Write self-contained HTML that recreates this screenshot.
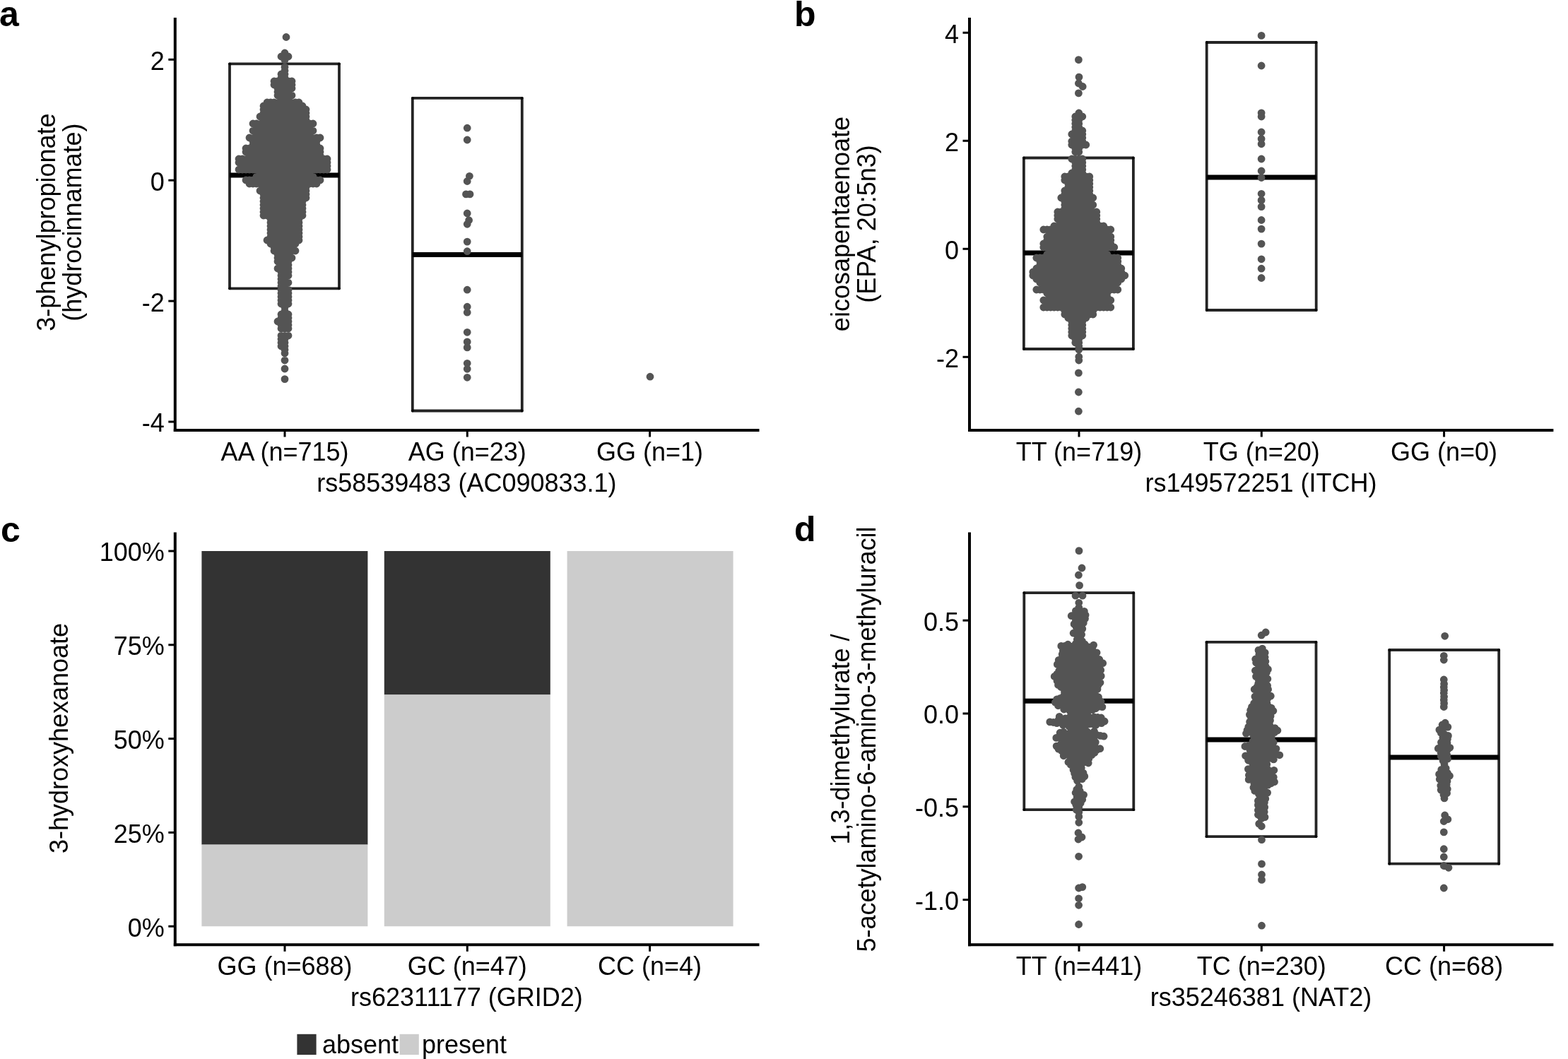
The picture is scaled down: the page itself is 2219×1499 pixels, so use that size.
<!DOCTYPE html>
<html><head><meta charset="utf-8"><title>Figure</title>
<style>
html,body{margin:0;padding:0;background:#fff;}
body{width:2219px;height:1499px;overflow:hidden;}
svg{display:block;}
.t{font-family:'Liberation Sans', Arial, Helvetica, sans-serif;font-size:36px;fill:#000;}
.p{font-family:'Liberation Sans', Arial, Helvetica, sans-serif;font-size:50px;font-weight:bold;fill:#000;}
</style></head><body>
<svg width="2219" height="1499" viewBox="0 0 2219 1499"><rect width="2219" height="1499" fill="#fff"/><text x="-1" y="37" class="p">a</text><text x="1124" y="37" class="p">b</text><text x="1" y="766.5" class="p">c</text><text x="1124" y="766" class="p">d</text><g stroke="#000" stroke-opacity="0.86" stroke-width="3.8" stroke-linecap="round"><line x1="325" y1="90.3" x2="480" y2="90.3"/><line x1="325" y1="408.3" x2="480" y2="408.3"/><line x1="325" y1="90.3" x2="325" y2="408.3"/><line x1="480" y1="90.3" x2="480" y2="408.3"/></g><line x1="325" y1="248" x2="480" y2="248" stroke="#000" stroke-width="7"/><g stroke="#000" stroke-opacity="0.86" stroke-width="3.8" stroke-linecap="round"><line x1="583.8" y1="138.8" x2="738.8" y2="138.8"/><line x1="583.8" y1="581.5" x2="738.8" y2="581.5"/><line x1="583.8" y1="138.8" x2="583.8" y2="581.5"/><line x1="738.8" y1="138.8" x2="738.8" y2="581.5"/></g><line x1="583.8" y1="360.5" x2="738.8" y2="360.5" stroke="#000" stroke-width="7"/><path d="M397.6 75a5.4 5.4 0 1 0 10.8 0a5.4 5.4 0 1 0 -10.8 0M392.6 80a5.4 5.4 0 1 0 10.8 0a5.4 5.4 0 1 0 -10.8 0M397.6 80a5.4 5.4 0 1 0 10.8 0a5.4 5.4 0 1 0 -10.8 0M402.6 80a5.4 5.4 0 1 0 10.8 0a5.4 5.4 0 1 0 -10.8 0M397.6 85a5.4 5.4 0 1 0 10.8 0a5.4 5.4 0 1 0 -10.8 0M397.6 95a5.4 5.4 0 1 0 10.8 0a5.4 5.4 0 1 0 -10.8 0M397.6 100a5.4 5.4 0 1 0 10.8 0a5.4 5.4 0 1 0 -10.8 0M392.6 105a5.4 5.4 0 1 0 10.8 0a5.4 5.4 0 1 0 -10.8 0M397.6 105a5.4 5.4 0 1 0 10.8 0a5.4 5.4 0 1 0 -10.8 0M397.6 110a5.4 5.4 0 1 0 10.8 0a5.4 5.4 0 1 0 -10.8 0M392.6 110a5.4 5.4 0 1 0 10.8 0a5.4 5.4 0 1 0 -10.8 0M387.6 115a5.4 5.4 0 1 0 10.8 0a5.4 5.4 0 1 0 -10.8 0M397.6 115a5.4 5.4 0 1 0 10.8 0a5.4 5.4 0 1 0 -10.8 0M382.6 115a5.4 5.4 0 1 0 10.8 0a5.4 5.4 0 1 0 -10.8 0M392.6 115a5.4 5.4 0 1 0 10.8 0a5.4 5.4 0 1 0 -10.8 0M407.6 115a5.4 5.4 0 1 0 10.8 0a5.4 5.4 0 1 0 -10.8 0M402.6 115a5.4 5.4 0 1 0 10.8 0a5.4 5.4 0 1 0 -10.8 0M392.6 120a5.4 5.4 0 1 0 10.8 0a5.4 5.4 0 1 0 -10.8 0M402.6 120a5.4 5.4 0 1 0 10.8 0a5.4 5.4 0 1 0 -10.8 0M397.6 120a5.4 5.4 0 1 0 10.8 0a5.4 5.4 0 1 0 -10.8 0M382.6 120a5.4 5.4 0 1 0 10.8 0a5.4 5.4 0 1 0 -10.8 0M387.6 120a5.4 5.4 0 1 0 10.8 0a5.4 5.4 0 1 0 -10.8 0M407.6 120a5.4 5.4 0 1 0 10.8 0a5.4 5.4 0 1 0 -10.8 0M392.6 125a5.4 5.4 0 1 0 10.8 0a5.4 5.4 0 1 0 -10.8 0M397.6 125a5.4 5.4 0 1 0 10.8 0a5.4 5.4 0 1 0 -10.8 0M387.6 125a5.4 5.4 0 1 0 10.8 0a5.4 5.4 0 1 0 -10.8 0M402.6 125a5.4 5.4 0 1 0 10.8 0a5.4 5.4 0 1 0 -10.8 0M407.6 125a5.4 5.4 0 1 0 10.8 0a5.4 5.4 0 1 0 -10.8 0M392.6 130a5.4 5.4 0 1 0 10.8 0a5.4 5.4 0 1 0 -10.8 0M402.6 130a5.4 5.4 0 1 0 10.8 0a5.4 5.4 0 1 0 -10.8 0M397.6 130a5.4 5.4 0 1 0 10.8 0a5.4 5.4 0 1 0 -10.8 0M387.6 130a5.4 5.4 0 1 0 10.8 0a5.4 5.4 0 1 0 -10.8 0M387.6 135a5.4 5.4 0 1 0 10.8 0a5.4 5.4 0 1 0 -10.8 0M392.6 135a5.4 5.4 0 1 0 10.8 0a5.4 5.4 0 1 0 -10.8 0M402.6 135a5.4 5.4 0 1 0 10.8 0a5.4 5.4 0 1 0 -10.8 0M397.6 135a5.4 5.4 0 1 0 10.8 0a5.4 5.4 0 1 0 -10.8 0M407.6 135a5.4 5.4 0 1 0 10.8 0a5.4 5.4 0 1 0 -10.8 0M397.6 140a5.4 5.4 0 1 0 10.8 0a5.4 5.4 0 1 0 -10.8 0M392.6 140a5.4 5.4 0 1 0 10.8 0a5.4 5.4 0 1 0 -10.8 0M402.6 140a5.4 5.4 0 1 0 10.8 0a5.4 5.4 0 1 0 -10.8 0M382.6 145a5.4 5.4 0 1 0 10.8 0a5.4 5.4 0 1 0 -10.8 0M397.6 145a5.4 5.4 0 1 0 10.8 0a5.4 5.4 0 1 0 -10.8 0M387.6 145a5.4 5.4 0 1 0 10.8 0a5.4 5.4 0 1 0 -10.8 0M372.6 145a5.4 5.4 0 1 0 10.8 0a5.4 5.4 0 1 0 -10.8 0M412.6 145a5.4 5.4 0 1 0 10.8 0a5.4 5.4 0 1 0 -10.8 0M417.6 145a5.4 5.4 0 1 0 10.8 0a5.4 5.4 0 1 0 -10.8 0M377.6 145a5.4 5.4 0 1 0 10.8 0a5.4 5.4 0 1 0 -10.8 0M407.6 145a5.4 5.4 0 1 0 10.8 0a5.4 5.4 0 1 0 -10.8 0M392.6 145a5.4 5.4 0 1 0 10.8 0a5.4 5.4 0 1 0 -10.8 0M402.6 145a5.4 5.4 0 1 0 10.8 0a5.4 5.4 0 1 0 -10.8 0M422.6 150a5.4 5.4 0 1 0 10.8 0a5.4 5.4 0 1 0 -10.8 0M382.6 150a5.4 5.4 0 1 0 10.8 0a5.4 5.4 0 1 0 -10.8 0M377.6 150a5.4 5.4 0 1 0 10.8 0a5.4 5.4 0 1 0 -10.8 0M387.6 150a5.4 5.4 0 1 0 10.8 0a5.4 5.4 0 1 0 -10.8 0M412.6 150a5.4 5.4 0 1 0 10.8 0a5.4 5.4 0 1 0 -10.8 0M417.6 150a5.4 5.4 0 1 0 10.8 0a5.4 5.4 0 1 0 -10.8 0M392.6 150a5.4 5.4 0 1 0 10.8 0a5.4 5.4 0 1 0 -10.8 0M402.6 150a5.4 5.4 0 1 0 10.8 0a5.4 5.4 0 1 0 -10.8 0M372.6 150a5.4 5.4 0 1 0 10.8 0a5.4 5.4 0 1 0 -10.8 0M397.6 150a5.4 5.4 0 1 0 10.8 0a5.4 5.4 0 1 0 -10.8 0M407.6 150a5.4 5.4 0 1 0 10.8 0a5.4 5.4 0 1 0 -10.8 0M367.6 150a5.4 5.4 0 1 0 10.8 0a5.4 5.4 0 1 0 -10.8 0M417.6 155a5.4 5.4 0 1 0 10.8 0a5.4 5.4 0 1 0 -10.8 0M412.6 155a5.4 5.4 0 1 0 10.8 0a5.4 5.4 0 1 0 -10.8 0M422.6 155a5.4 5.4 0 1 0 10.8 0a5.4 5.4 0 1 0 -10.8 0M367.6 155a5.4 5.4 0 1 0 10.8 0a5.4 5.4 0 1 0 -10.8 0M382.6 155a5.4 5.4 0 1 0 10.8 0a5.4 5.4 0 1 0 -10.8 0M427.6 155a5.4 5.4 0 1 0 10.8 0a5.4 5.4 0 1 0 -10.8 0M372.6 155a5.4 5.4 0 1 0 10.8 0a5.4 5.4 0 1 0 -10.8 0M377.6 155a5.4 5.4 0 1 0 10.8 0a5.4 5.4 0 1 0 -10.8 0M402.6 155a5.4 5.4 0 1 0 10.8 0a5.4 5.4 0 1 0 -10.8 0M397.6 155a5.4 5.4 0 1 0 10.8 0a5.4 5.4 0 1 0 -10.8 0M392.6 155a5.4 5.4 0 1 0 10.8 0a5.4 5.4 0 1 0 -10.8 0M407.6 155a5.4 5.4 0 1 0 10.8 0a5.4 5.4 0 1 0 -10.8 0M387.6 155a5.4 5.4 0 1 0 10.8 0a5.4 5.4 0 1 0 -10.8 0M407.6 160a5.4 5.4 0 1 0 10.8 0a5.4 5.4 0 1 0 -10.8 0M412.6 160a5.4 5.4 0 1 0 10.8 0a5.4 5.4 0 1 0 -10.8 0M397.6 160a5.4 5.4 0 1 0 10.8 0a5.4 5.4 0 1 0 -10.8 0M427.6 160a5.4 5.4 0 1 0 10.8 0a5.4 5.4 0 1 0 -10.8 0M377.6 160a5.4 5.4 0 1 0 10.8 0a5.4 5.4 0 1 0 -10.8 0M372.6 160a5.4 5.4 0 1 0 10.8 0a5.4 5.4 0 1 0 -10.8 0M367.6 160a5.4 5.4 0 1 0 10.8 0a5.4 5.4 0 1 0 -10.8 0M417.6 160a5.4 5.4 0 1 0 10.8 0a5.4 5.4 0 1 0 -10.8 0M382.6 160a5.4 5.4 0 1 0 10.8 0a5.4 5.4 0 1 0 -10.8 0M392.6 160a5.4 5.4 0 1 0 10.8 0a5.4 5.4 0 1 0 -10.8 0M402.6 160a5.4 5.4 0 1 0 10.8 0a5.4 5.4 0 1 0 -10.8 0M387.6 160a5.4 5.4 0 1 0 10.8 0a5.4 5.4 0 1 0 -10.8 0M422.6 160a5.4 5.4 0 1 0 10.8 0a5.4 5.4 0 1 0 -10.8 0M412.6 165a5.4 5.4 0 1 0 10.8 0a5.4 5.4 0 1 0 -10.8 0M387.6 165a5.4 5.4 0 1 0 10.8 0a5.4 5.4 0 1 0 -10.8 0M427.6 165a5.4 5.4 0 1 0 10.8 0a5.4 5.4 0 1 0 -10.8 0M372.6 165a5.4 5.4 0 1 0 10.8 0a5.4 5.4 0 1 0 -10.8 0M417.6 165a5.4 5.4 0 1 0 10.8 0a5.4 5.4 0 1 0 -10.8 0M392.6 165a5.4 5.4 0 1 0 10.8 0a5.4 5.4 0 1 0 -10.8 0M407.6 165a5.4 5.4 0 1 0 10.8 0a5.4 5.4 0 1 0 -10.8 0M377.6 165a5.4 5.4 0 1 0 10.8 0a5.4 5.4 0 1 0 -10.8 0M397.6 165a5.4 5.4 0 1 0 10.8 0a5.4 5.4 0 1 0 -10.8 0M422.6 165a5.4 5.4 0 1 0 10.8 0a5.4 5.4 0 1 0 -10.8 0M402.6 165a5.4 5.4 0 1 0 10.8 0a5.4 5.4 0 1 0 -10.8 0M362.6 165a5.4 5.4 0 1 0 10.8 0a5.4 5.4 0 1 0 -10.8 0M382.6 165a5.4 5.4 0 1 0 10.8 0a5.4 5.4 0 1 0 -10.8 0M367.6 165a5.4 5.4 0 1 0 10.8 0a5.4 5.4 0 1 0 -10.8 0M407.6 170a5.4 5.4 0 1 0 10.8 0a5.4 5.4 0 1 0 -10.8 0M392.6 170a5.4 5.4 0 1 0 10.8 0a5.4 5.4 0 1 0 -10.8 0M417.6 170a5.4 5.4 0 1 0 10.8 0a5.4 5.4 0 1 0 -10.8 0M422.6 170a5.4 5.4 0 1 0 10.8 0a5.4 5.4 0 1 0 -10.8 0M427.6 170a5.4 5.4 0 1 0 10.8 0a5.4 5.4 0 1 0 -10.8 0M372.6 170a5.4 5.4 0 1 0 10.8 0a5.4 5.4 0 1 0 -10.8 0M387.6 170a5.4 5.4 0 1 0 10.8 0a5.4 5.4 0 1 0 -10.8 0M397.6 170a5.4 5.4 0 1 0 10.8 0a5.4 5.4 0 1 0 -10.8 0M367.6 170a5.4 5.4 0 1 0 10.8 0a5.4 5.4 0 1 0 -10.8 0M412.6 170a5.4 5.4 0 1 0 10.8 0a5.4 5.4 0 1 0 -10.8 0M402.6 170a5.4 5.4 0 1 0 10.8 0a5.4 5.4 0 1 0 -10.8 0M377.6 170a5.4 5.4 0 1 0 10.8 0a5.4 5.4 0 1 0 -10.8 0M382.6 170a5.4 5.4 0 1 0 10.8 0a5.4 5.4 0 1 0 -10.8 0M377.6 175a5.4 5.4 0 1 0 10.8 0a5.4 5.4 0 1 0 -10.8 0M387.6 175a5.4 5.4 0 1 0 10.8 0a5.4 5.4 0 1 0 -10.8 0M402.6 175a5.4 5.4 0 1 0 10.8 0a5.4 5.4 0 1 0 -10.8 0M372.6 175a5.4 5.4 0 1 0 10.8 0a5.4 5.4 0 1 0 -10.8 0M417.6 175a5.4 5.4 0 1 0 10.8 0a5.4 5.4 0 1 0 -10.8 0M422.6 175a5.4 5.4 0 1 0 10.8 0a5.4 5.4 0 1 0 -10.8 0M437.6 175a5.4 5.4 0 1 0 10.8 0a5.4 5.4 0 1 0 -10.8 0M362.6 175a5.4 5.4 0 1 0 10.8 0a5.4 5.4 0 1 0 -10.8 0M357.6 175a5.4 5.4 0 1 0 10.8 0a5.4 5.4 0 1 0 -10.8 0M412.6 175a5.4 5.4 0 1 0 10.8 0a5.4 5.4 0 1 0 -10.8 0M367.6 175a5.4 5.4 0 1 0 10.8 0a5.4 5.4 0 1 0 -10.8 0M382.6 175a5.4 5.4 0 1 0 10.8 0a5.4 5.4 0 1 0 -10.8 0M352.6 175a5.4 5.4 0 1 0 10.8 0a5.4 5.4 0 1 0 -10.8 0M392.6 175a5.4 5.4 0 1 0 10.8 0a5.4 5.4 0 1 0 -10.8 0M427.6 175a5.4 5.4 0 1 0 10.8 0a5.4 5.4 0 1 0 -10.8 0M407.6 175a5.4 5.4 0 1 0 10.8 0a5.4 5.4 0 1 0 -10.8 0M397.6 175a5.4 5.4 0 1 0 10.8 0a5.4 5.4 0 1 0 -10.8 0M432.6 175a5.4 5.4 0 1 0 10.8 0a5.4 5.4 0 1 0 -10.8 0M357.6 180a5.4 5.4 0 1 0 10.8 0a5.4 5.4 0 1 0 -10.8 0M422.6 180a5.4 5.4 0 1 0 10.8 0a5.4 5.4 0 1 0 -10.8 0M377.6 180a5.4 5.4 0 1 0 10.8 0a5.4 5.4 0 1 0 -10.8 0M367.6 180a5.4 5.4 0 1 0 10.8 0a5.4 5.4 0 1 0 -10.8 0M432.6 180a5.4 5.4 0 1 0 10.8 0a5.4 5.4 0 1 0 -10.8 0M417.6 180a5.4 5.4 0 1 0 10.8 0a5.4 5.4 0 1 0 -10.8 0M362.6 180a5.4 5.4 0 1 0 10.8 0a5.4 5.4 0 1 0 -10.8 0M372.6 180a5.4 5.4 0 1 0 10.8 0a5.4 5.4 0 1 0 -10.8 0M427.6 180a5.4 5.4 0 1 0 10.8 0a5.4 5.4 0 1 0 -10.8 0M407.6 180a5.4 5.4 0 1 0 10.8 0a5.4 5.4 0 1 0 -10.8 0M392.6 180a5.4 5.4 0 1 0 10.8 0a5.4 5.4 0 1 0 -10.8 0M387.6 180a5.4 5.4 0 1 0 10.8 0a5.4 5.4 0 1 0 -10.8 0M412.6 180a5.4 5.4 0 1 0 10.8 0a5.4 5.4 0 1 0 -10.8 0M397.6 180a5.4 5.4 0 1 0 10.8 0a5.4 5.4 0 1 0 -10.8 0M402.6 180a5.4 5.4 0 1 0 10.8 0a5.4 5.4 0 1 0 -10.8 0M382.6 180a5.4 5.4 0 1 0 10.8 0a5.4 5.4 0 1 0 -10.8 0M412.6 185a5.4 5.4 0 1 0 10.8 0a5.4 5.4 0 1 0 -10.8 0M382.6 185a5.4 5.4 0 1 0 10.8 0a5.4 5.4 0 1 0 -10.8 0M372.6 185a5.4 5.4 0 1 0 10.8 0a5.4 5.4 0 1 0 -10.8 0M397.6 185a5.4 5.4 0 1 0 10.8 0a5.4 5.4 0 1 0 -10.8 0M362.6 185a5.4 5.4 0 1 0 10.8 0a5.4 5.4 0 1 0 -10.8 0M352.6 185a5.4 5.4 0 1 0 10.8 0a5.4 5.4 0 1 0 -10.8 0M437.6 185a5.4 5.4 0 1 0 10.8 0a5.4 5.4 0 1 0 -10.8 0M392.6 185a5.4 5.4 0 1 0 10.8 0a5.4 5.4 0 1 0 -10.8 0M417.6 185a5.4 5.4 0 1 0 10.8 0a5.4 5.4 0 1 0 -10.8 0M402.6 185a5.4 5.4 0 1 0 10.8 0a5.4 5.4 0 1 0 -10.8 0M432.6 185a5.4 5.4 0 1 0 10.8 0a5.4 5.4 0 1 0 -10.8 0M407.6 185a5.4 5.4 0 1 0 10.8 0a5.4 5.4 0 1 0 -10.8 0M367.6 185a5.4 5.4 0 1 0 10.8 0a5.4 5.4 0 1 0 -10.8 0M387.6 185a5.4 5.4 0 1 0 10.8 0a5.4 5.4 0 1 0 -10.8 0M357.6 185a5.4 5.4 0 1 0 10.8 0a5.4 5.4 0 1 0 -10.8 0M377.6 185a5.4 5.4 0 1 0 10.8 0a5.4 5.4 0 1 0 -10.8 0M427.6 185a5.4 5.4 0 1 0 10.8 0a5.4 5.4 0 1 0 -10.8 0M422.6 185a5.4 5.4 0 1 0 10.8 0a5.4 5.4 0 1 0 -10.8 0M357.6 190a5.4 5.4 0 1 0 10.8 0a5.4 5.4 0 1 0 -10.8 0M372.6 190a5.4 5.4 0 1 0 10.8 0a5.4 5.4 0 1 0 -10.8 0M412.6 190a5.4 5.4 0 1 0 10.8 0a5.4 5.4 0 1 0 -10.8 0M377.6 190a5.4 5.4 0 1 0 10.8 0a5.4 5.4 0 1 0 -10.8 0M382.6 190a5.4 5.4 0 1 0 10.8 0a5.4 5.4 0 1 0 -10.8 0M417.6 190a5.4 5.4 0 1 0 10.8 0a5.4 5.4 0 1 0 -10.8 0M362.6 190a5.4 5.4 0 1 0 10.8 0a5.4 5.4 0 1 0 -10.8 0M427.6 190a5.4 5.4 0 1 0 10.8 0a5.4 5.4 0 1 0 -10.8 0M407.6 190a5.4 5.4 0 1 0 10.8 0a5.4 5.4 0 1 0 -10.8 0M397.6 190a5.4 5.4 0 1 0 10.8 0a5.4 5.4 0 1 0 -10.8 0M402.6 190a5.4 5.4 0 1 0 10.8 0a5.4 5.4 0 1 0 -10.8 0M392.6 190a5.4 5.4 0 1 0 10.8 0a5.4 5.4 0 1 0 -10.8 0M422.6 190a5.4 5.4 0 1 0 10.8 0a5.4 5.4 0 1 0 -10.8 0M367.6 190a5.4 5.4 0 1 0 10.8 0a5.4 5.4 0 1 0 -10.8 0M432.6 190a5.4 5.4 0 1 0 10.8 0a5.4 5.4 0 1 0 -10.8 0M387.6 190a5.4 5.4 0 1 0 10.8 0a5.4 5.4 0 1 0 -10.8 0M407.6 195a5.4 5.4 0 1 0 10.8 0a5.4 5.4 0 1 0 -10.8 0M367.6 195a5.4 5.4 0 1 0 10.8 0a5.4 5.4 0 1 0 -10.8 0M392.6 195a5.4 5.4 0 1 0 10.8 0a5.4 5.4 0 1 0 -10.8 0M402.6 195a5.4 5.4 0 1 0 10.8 0a5.4 5.4 0 1 0 -10.8 0M357.6 195a5.4 5.4 0 1 0 10.8 0a5.4 5.4 0 1 0 -10.8 0M412.6 195a5.4 5.4 0 1 0 10.8 0a5.4 5.4 0 1 0 -10.8 0M442.6 195a5.4 5.4 0 1 0 10.8 0a5.4 5.4 0 1 0 -10.8 0M372.6 195a5.4 5.4 0 1 0 10.8 0a5.4 5.4 0 1 0 -10.8 0M352.6 195a5.4 5.4 0 1 0 10.8 0a5.4 5.4 0 1 0 -10.8 0M417.6 195a5.4 5.4 0 1 0 10.8 0a5.4 5.4 0 1 0 -10.8 0M397.6 195a5.4 5.4 0 1 0 10.8 0a5.4 5.4 0 1 0 -10.8 0M422.6 195a5.4 5.4 0 1 0 10.8 0a5.4 5.4 0 1 0 -10.8 0M437.6 195a5.4 5.4 0 1 0 10.8 0a5.4 5.4 0 1 0 -10.8 0M447.6 195a5.4 5.4 0 1 0 10.8 0a5.4 5.4 0 1 0 -10.8 0M362.6 195a5.4 5.4 0 1 0 10.8 0a5.4 5.4 0 1 0 -10.8 0M387.6 195a5.4 5.4 0 1 0 10.8 0a5.4 5.4 0 1 0 -10.8 0M427.6 195a5.4 5.4 0 1 0 10.8 0a5.4 5.4 0 1 0 -10.8 0M382.6 195a5.4 5.4 0 1 0 10.8 0a5.4 5.4 0 1 0 -10.8 0M377.6 195a5.4 5.4 0 1 0 10.8 0a5.4 5.4 0 1 0 -10.8 0M347.6 195a5.4 5.4 0 1 0 10.8 0a5.4 5.4 0 1 0 -10.8 0M432.6 195a5.4 5.4 0 1 0 10.8 0a5.4 5.4 0 1 0 -10.8 0M437.6 200a5.4 5.4 0 1 0 10.8 0a5.4 5.4 0 1 0 -10.8 0M377.6 200a5.4 5.4 0 1 0 10.8 0a5.4 5.4 0 1 0 -10.8 0M387.6 200a5.4 5.4 0 1 0 10.8 0a5.4 5.4 0 1 0 -10.8 0M402.6 200a5.4 5.4 0 1 0 10.8 0a5.4 5.4 0 1 0 -10.8 0M407.6 200a5.4 5.4 0 1 0 10.8 0a5.4 5.4 0 1 0 -10.8 0M392.6 200a5.4 5.4 0 1 0 10.8 0a5.4 5.4 0 1 0 -10.8 0M382.6 200a5.4 5.4 0 1 0 10.8 0a5.4 5.4 0 1 0 -10.8 0M357.6 200a5.4 5.4 0 1 0 10.8 0a5.4 5.4 0 1 0 -10.8 0M417.6 200a5.4 5.4 0 1 0 10.8 0a5.4 5.4 0 1 0 -10.8 0M412.6 200a5.4 5.4 0 1 0 10.8 0a5.4 5.4 0 1 0 -10.8 0M367.6 200a5.4 5.4 0 1 0 10.8 0a5.4 5.4 0 1 0 -10.8 0M427.6 200a5.4 5.4 0 1 0 10.8 0a5.4 5.4 0 1 0 -10.8 0M352.6 200a5.4 5.4 0 1 0 10.8 0a5.4 5.4 0 1 0 -10.8 0M422.6 200a5.4 5.4 0 1 0 10.8 0a5.4 5.4 0 1 0 -10.8 0M372.6 200a5.4 5.4 0 1 0 10.8 0a5.4 5.4 0 1 0 -10.8 0M432.6 200a5.4 5.4 0 1 0 10.8 0a5.4 5.4 0 1 0 -10.8 0M362.6 200a5.4 5.4 0 1 0 10.8 0a5.4 5.4 0 1 0 -10.8 0M397.6 200a5.4 5.4 0 1 0 10.8 0a5.4 5.4 0 1 0 -10.8 0M442.6 200a5.4 5.4 0 1 0 10.8 0a5.4 5.4 0 1 0 -10.8 0M362.6 205a5.4 5.4 0 1 0 10.8 0a5.4 5.4 0 1 0 -10.8 0M392.6 205a5.4 5.4 0 1 0 10.8 0a5.4 5.4 0 1 0 -10.8 0M417.6 205a5.4 5.4 0 1 0 10.8 0a5.4 5.4 0 1 0 -10.8 0M372.6 205a5.4 5.4 0 1 0 10.8 0a5.4 5.4 0 1 0 -10.8 0M357.6 205a5.4 5.4 0 1 0 10.8 0a5.4 5.4 0 1 0 -10.8 0M412.6 205a5.4 5.4 0 1 0 10.8 0a5.4 5.4 0 1 0 -10.8 0M432.6 205a5.4 5.4 0 1 0 10.8 0a5.4 5.4 0 1 0 -10.8 0M427.6 205a5.4 5.4 0 1 0 10.8 0a5.4 5.4 0 1 0 -10.8 0M402.6 205a5.4 5.4 0 1 0 10.8 0a5.4 5.4 0 1 0 -10.8 0M367.6 205a5.4 5.4 0 1 0 10.8 0a5.4 5.4 0 1 0 -10.8 0M377.6 205a5.4 5.4 0 1 0 10.8 0a5.4 5.4 0 1 0 -10.8 0M387.6 205a5.4 5.4 0 1 0 10.8 0a5.4 5.4 0 1 0 -10.8 0M422.6 205a5.4 5.4 0 1 0 10.8 0a5.4 5.4 0 1 0 -10.8 0M397.6 205a5.4 5.4 0 1 0 10.8 0a5.4 5.4 0 1 0 -10.8 0M352.6 205a5.4 5.4 0 1 0 10.8 0a5.4 5.4 0 1 0 -10.8 0M382.6 205a5.4 5.4 0 1 0 10.8 0a5.4 5.4 0 1 0 -10.8 0M442.6 205a5.4 5.4 0 1 0 10.8 0a5.4 5.4 0 1 0 -10.8 0M407.6 205a5.4 5.4 0 1 0 10.8 0a5.4 5.4 0 1 0 -10.8 0M437.6 205a5.4 5.4 0 1 0 10.8 0a5.4 5.4 0 1 0 -10.8 0M357.6 210a5.4 5.4 0 1 0 10.8 0a5.4 5.4 0 1 0 -10.8 0M342.6 210a5.4 5.4 0 1 0 10.8 0a5.4 5.4 0 1 0 -10.8 0M347.6 210a5.4 5.4 0 1 0 10.8 0a5.4 5.4 0 1 0 -10.8 0M372.6 210a5.4 5.4 0 1 0 10.8 0a5.4 5.4 0 1 0 -10.8 0M352.6 210a5.4 5.4 0 1 0 10.8 0a5.4 5.4 0 1 0 -10.8 0M432.6 210a5.4 5.4 0 1 0 10.8 0a5.4 5.4 0 1 0 -10.8 0M412.6 210a5.4 5.4 0 1 0 10.8 0a5.4 5.4 0 1 0 -10.8 0M437.6 210a5.4 5.4 0 1 0 10.8 0a5.4 5.4 0 1 0 -10.8 0M442.6 210a5.4 5.4 0 1 0 10.8 0a5.4 5.4 0 1 0 -10.8 0M382.6 210a5.4 5.4 0 1 0 10.8 0a5.4 5.4 0 1 0 -10.8 0M417.6 210a5.4 5.4 0 1 0 10.8 0a5.4 5.4 0 1 0 -10.8 0M392.6 210a5.4 5.4 0 1 0 10.8 0a5.4 5.4 0 1 0 -10.8 0M427.6 210a5.4 5.4 0 1 0 10.8 0a5.4 5.4 0 1 0 -10.8 0M377.6 210a5.4 5.4 0 1 0 10.8 0a5.4 5.4 0 1 0 -10.8 0M422.6 210a5.4 5.4 0 1 0 10.8 0a5.4 5.4 0 1 0 -10.8 0M447.6 210a5.4 5.4 0 1 0 10.8 0a5.4 5.4 0 1 0 -10.8 0M387.6 210a5.4 5.4 0 1 0 10.8 0a5.4 5.4 0 1 0 -10.8 0M402.6 210a5.4 5.4 0 1 0 10.8 0a5.4 5.4 0 1 0 -10.8 0M407.6 210a5.4 5.4 0 1 0 10.8 0a5.4 5.4 0 1 0 -10.8 0M367.6 210a5.4 5.4 0 1 0 10.8 0a5.4 5.4 0 1 0 -10.8 0M397.6 210a5.4 5.4 0 1 0 10.8 0a5.4 5.4 0 1 0 -10.8 0M362.6 210a5.4 5.4 0 1 0 10.8 0a5.4 5.4 0 1 0 -10.8 0M347.6 215a5.4 5.4 0 1 0 10.8 0a5.4 5.4 0 1 0 -10.8 0M342.6 215a5.4 5.4 0 1 0 10.8 0a5.4 5.4 0 1 0 -10.8 0M422.6 215a5.4 5.4 0 1 0 10.8 0a5.4 5.4 0 1 0 -10.8 0M387.6 215a5.4 5.4 0 1 0 10.8 0a5.4 5.4 0 1 0 -10.8 0M362.6 215a5.4 5.4 0 1 0 10.8 0a5.4 5.4 0 1 0 -10.8 0M437.6 215a5.4 5.4 0 1 0 10.8 0a5.4 5.4 0 1 0 -10.8 0M432.6 215a5.4 5.4 0 1 0 10.8 0a5.4 5.4 0 1 0 -10.8 0M417.6 215a5.4 5.4 0 1 0 10.8 0a5.4 5.4 0 1 0 -10.8 0M377.6 215a5.4 5.4 0 1 0 10.8 0a5.4 5.4 0 1 0 -10.8 0M442.6 215a5.4 5.4 0 1 0 10.8 0a5.4 5.4 0 1 0 -10.8 0M427.6 215a5.4 5.4 0 1 0 10.8 0a5.4 5.4 0 1 0 -10.8 0M447.6 215a5.4 5.4 0 1 0 10.8 0a5.4 5.4 0 1 0 -10.8 0M367.6 215a5.4 5.4 0 1 0 10.8 0a5.4 5.4 0 1 0 -10.8 0M357.6 215a5.4 5.4 0 1 0 10.8 0a5.4 5.4 0 1 0 -10.8 0M392.6 215a5.4 5.4 0 1 0 10.8 0a5.4 5.4 0 1 0 -10.8 0M397.6 215a5.4 5.4 0 1 0 10.8 0a5.4 5.4 0 1 0 -10.8 0M407.6 215a5.4 5.4 0 1 0 10.8 0a5.4 5.4 0 1 0 -10.8 0M382.6 215a5.4 5.4 0 1 0 10.8 0a5.4 5.4 0 1 0 -10.8 0M402.6 215a5.4 5.4 0 1 0 10.8 0a5.4 5.4 0 1 0 -10.8 0M412.6 215a5.4 5.4 0 1 0 10.8 0a5.4 5.4 0 1 0 -10.8 0M372.6 215a5.4 5.4 0 1 0 10.8 0a5.4 5.4 0 1 0 -10.8 0M352.6 215a5.4 5.4 0 1 0 10.8 0a5.4 5.4 0 1 0 -10.8 0M447.6 220a5.4 5.4 0 1 0 10.8 0a5.4 5.4 0 1 0 -10.8 0M407.6 220a5.4 5.4 0 1 0 10.8 0a5.4 5.4 0 1 0 -10.8 0M372.6 220a5.4 5.4 0 1 0 10.8 0a5.4 5.4 0 1 0 -10.8 0M412.6 220a5.4 5.4 0 1 0 10.8 0a5.4 5.4 0 1 0 -10.8 0M367.6 220a5.4 5.4 0 1 0 10.8 0a5.4 5.4 0 1 0 -10.8 0M347.6 220a5.4 5.4 0 1 0 10.8 0a5.4 5.4 0 1 0 -10.8 0M427.6 220a5.4 5.4 0 1 0 10.8 0a5.4 5.4 0 1 0 -10.8 0M362.6 220a5.4 5.4 0 1 0 10.8 0a5.4 5.4 0 1 0 -10.8 0M382.6 220a5.4 5.4 0 1 0 10.8 0a5.4 5.4 0 1 0 -10.8 0M432.6 220a5.4 5.4 0 1 0 10.8 0a5.4 5.4 0 1 0 -10.8 0M417.6 220a5.4 5.4 0 1 0 10.8 0a5.4 5.4 0 1 0 -10.8 0M357.6 220a5.4 5.4 0 1 0 10.8 0a5.4 5.4 0 1 0 -10.8 0M352.6 220a5.4 5.4 0 1 0 10.8 0a5.4 5.4 0 1 0 -10.8 0M402.6 220a5.4 5.4 0 1 0 10.8 0a5.4 5.4 0 1 0 -10.8 0M442.6 220a5.4 5.4 0 1 0 10.8 0a5.4 5.4 0 1 0 -10.8 0M387.6 220a5.4 5.4 0 1 0 10.8 0a5.4 5.4 0 1 0 -10.8 0M422.6 220a5.4 5.4 0 1 0 10.8 0a5.4 5.4 0 1 0 -10.8 0M392.6 220a5.4 5.4 0 1 0 10.8 0a5.4 5.4 0 1 0 -10.8 0M397.6 220a5.4 5.4 0 1 0 10.8 0a5.4 5.4 0 1 0 -10.8 0M437.6 220a5.4 5.4 0 1 0 10.8 0a5.4 5.4 0 1 0 -10.8 0M377.6 220a5.4 5.4 0 1 0 10.8 0a5.4 5.4 0 1 0 -10.8 0M442.6 225a5.4 5.4 0 1 0 10.8 0a5.4 5.4 0 1 0 -10.8 0M332.6 225a5.4 5.4 0 1 0 10.8 0a5.4 5.4 0 1 0 -10.8 0M362.6 225a5.4 5.4 0 1 0 10.8 0a5.4 5.4 0 1 0 -10.8 0M452.6 225a5.4 5.4 0 1 0 10.8 0a5.4 5.4 0 1 0 -10.8 0M397.6 225a5.4 5.4 0 1 0 10.8 0a5.4 5.4 0 1 0 -10.8 0M392.6 225a5.4 5.4 0 1 0 10.8 0a5.4 5.4 0 1 0 -10.8 0M437.6 225a5.4 5.4 0 1 0 10.8 0a5.4 5.4 0 1 0 -10.8 0M387.6 225a5.4 5.4 0 1 0 10.8 0a5.4 5.4 0 1 0 -10.8 0M372.6 225a5.4 5.4 0 1 0 10.8 0a5.4 5.4 0 1 0 -10.8 0M357.6 225a5.4 5.4 0 1 0 10.8 0a5.4 5.4 0 1 0 -10.8 0M457.6 225a5.4 5.4 0 1 0 10.8 0a5.4 5.4 0 1 0 -10.8 0M422.6 225a5.4 5.4 0 1 0 10.8 0a5.4 5.4 0 1 0 -10.8 0M382.6 225a5.4 5.4 0 1 0 10.8 0a5.4 5.4 0 1 0 -10.8 0M347.6 225a5.4 5.4 0 1 0 10.8 0a5.4 5.4 0 1 0 -10.8 0M337.6 225a5.4 5.4 0 1 0 10.8 0a5.4 5.4 0 1 0 -10.8 0M342.6 225a5.4 5.4 0 1 0 10.8 0a5.4 5.4 0 1 0 -10.8 0M402.6 225a5.4 5.4 0 1 0 10.8 0a5.4 5.4 0 1 0 -10.8 0M417.6 225a5.4 5.4 0 1 0 10.8 0a5.4 5.4 0 1 0 -10.8 0M367.6 225a5.4 5.4 0 1 0 10.8 0a5.4 5.4 0 1 0 -10.8 0M412.6 225a5.4 5.4 0 1 0 10.8 0a5.4 5.4 0 1 0 -10.8 0M447.6 225a5.4 5.4 0 1 0 10.8 0a5.4 5.4 0 1 0 -10.8 0M377.6 225a5.4 5.4 0 1 0 10.8 0a5.4 5.4 0 1 0 -10.8 0M352.6 225a5.4 5.4 0 1 0 10.8 0a5.4 5.4 0 1 0 -10.8 0M407.6 225a5.4 5.4 0 1 0 10.8 0a5.4 5.4 0 1 0 -10.8 0M432.6 225a5.4 5.4 0 1 0 10.8 0a5.4 5.4 0 1 0 -10.8 0M427.6 225a5.4 5.4 0 1 0 10.8 0a5.4 5.4 0 1 0 -10.8 0M407.6 230a5.4 5.4 0 1 0 10.8 0a5.4 5.4 0 1 0 -10.8 0M457.6 230a5.4 5.4 0 1 0 10.8 0a5.4 5.4 0 1 0 -10.8 0M347.6 230a5.4 5.4 0 1 0 10.8 0a5.4 5.4 0 1 0 -10.8 0M397.6 230a5.4 5.4 0 1 0 10.8 0a5.4 5.4 0 1 0 -10.8 0M367.6 230a5.4 5.4 0 1 0 10.8 0a5.4 5.4 0 1 0 -10.8 0M452.6 230a5.4 5.4 0 1 0 10.8 0a5.4 5.4 0 1 0 -10.8 0M362.6 230a5.4 5.4 0 1 0 10.8 0a5.4 5.4 0 1 0 -10.8 0M447.6 230a5.4 5.4 0 1 0 10.8 0a5.4 5.4 0 1 0 -10.8 0M442.6 230a5.4 5.4 0 1 0 10.8 0a5.4 5.4 0 1 0 -10.8 0M387.6 230a5.4 5.4 0 1 0 10.8 0a5.4 5.4 0 1 0 -10.8 0M422.6 230a5.4 5.4 0 1 0 10.8 0a5.4 5.4 0 1 0 -10.8 0M332.6 230a5.4 5.4 0 1 0 10.8 0a5.4 5.4 0 1 0 -10.8 0M417.6 230a5.4 5.4 0 1 0 10.8 0a5.4 5.4 0 1 0 -10.8 0M402.6 230a5.4 5.4 0 1 0 10.8 0a5.4 5.4 0 1 0 -10.8 0M342.6 230a5.4 5.4 0 1 0 10.8 0a5.4 5.4 0 1 0 -10.8 0M352.6 230a5.4 5.4 0 1 0 10.8 0a5.4 5.4 0 1 0 -10.8 0M432.6 230a5.4 5.4 0 1 0 10.8 0a5.4 5.4 0 1 0 -10.8 0M372.6 230a5.4 5.4 0 1 0 10.8 0a5.4 5.4 0 1 0 -10.8 0M392.6 230a5.4 5.4 0 1 0 10.8 0a5.4 5.4 0 1 0 -10.8 0M337.6 230a5.4 5.4 0 1 0 10.8 0a5.4 5.4 0 1 0 -10.8 0M437.6 230a5.4 5.4 0 1 0 10.8 0a5.4 5.4 0 1 0 -10.8 0M357.6 230a5.4 5.4 0 1 0 10.8 0a5.4 5.4 0 1 0 -10.8 0M427.6 230a5.4 5.4 0 1 0 10.8 0a5.4 5.4 0 1 0 -10.8 0M382.6 230a5.4 5.4 0 1 0 10.8 0a5.4 5.4 0 1 0 -10.8 0M377.6 230a5.4 5.4 0 1 0 10.8 0a5.4 5.4 0 1 0 -10.8 0M412.6 230a5.4 5.4 0 1 0 10.8 0a5.4 5.4 0 1 0 -10.8 0M452.6 235a5.4 5.4 0 1 0 10.8 0a5.4 5.4 0 1 0 -10.8 0M412.6 235a5.4 5.4 0 1 0 10.8 0a5.4 5.4 0 1 0 -10.8 0M447.6 235a5.4 5.4 0 1 0 10.8 0a5.4 5.4 0 1 0 -10.8 0M407.6 235a5.4 5.4 0 1 0 10.8 0a5.4 5.4 0 1 0 -10.8 0M402.6 235a5.4 5.4 0 1 0 10.8 0a5.4 5.4 0 1 0 -10.8 0M352.6 235a5.4 5.4 0 1 0 10.8 0a5.4 5.4 0 1 0 -10.8 0M362.6 235a5.4 5.4 0 1 0 10.8 0a5.4 5.4 0 1 0 -10.8 0M437.6 235a5.4 5.4 0 1 0 10.8 0a5.4 5.4 0 1 0 -10.8 0M377.6 235a5.4 5.4 0 1 0 10.8 0a5.4 5.4 0 1 0 -10.8 0M342.6 235a5.4 5.4 0 1 0 10.8 0a5.4 5.4 0 1 0 -10.8 0M427.6 235a5.4 5.4 0 1 0 10.8 0a5.4 5.4 0 1 0 -10.8 0M357.6 235a5.4 5.4 0 1 0 10.8 0a5.4 5.4 0 1 0 -10.8 0M372.6 235a5.4 5.4 0 1 0 10.8 0a5.4 5.4 0 1 0 -10.8 0M347.6 235a5.4 5.4 0 1 0 10.8 0a5.4 5.4 0 1 0 -10.8 0M397.6 235a5.4 5.4 0 1 0 10.8 0a5.4 5.4 0 1 0 -10.8 0M337.6 235a5.4 5.4 0 1 0 10.8 0a5.4 5.4 0 1 0 -10.8 0M382.6 235a5.4 5.4 0 1 0 10.8 0a5.4 5.4 0 1 0 -10.8 0M422.6 235a5.4 5.4 0 1 0 10.8 0a5.4 5.4 0 1 0 -10.8 0M432.6 235a5.4 5.4 0 1 0 10.8 0a5.4 5.4 0 1 0 -10.8 0M457.6 235a5.4 5.4 0 1 0 10.8 0a5.4 5.4 0 1 0 -10.8 0M387.6 235a5.4 5.4 0 1 0 10.8 0a5.4 5.4 0 1 0 -10.8 0M367.6 235a5.4 5.4 0 1 0 10.8 0a5.4 5.4 0 1 0 -10.8 0M442.6 235a5.4 5.4 0 1 0 10.8 0a5.4 5.4 0 1 0 -10.8 0M417.6 235a5.4 5.4 0 1 0 10.8 0a5.4 5.4 0 1 0 -10.8 0M392.6 235a5.4 5.4 0 1 0 10.8 0a5.4 5.4 0 1 0 -10.8 0M422.6 240a5.4 5.4 0 1 0 10.8 0a5.4 5.4 0 1 0 -10.8 0M347.6 240a5.4 5.4 0 1 0 10.8 0a5.4 5.4 0 1 0 -10.8 0M447.6 240a5.4 5.4 0 1 0 10.8 0a5.4 5.4 0 1 0 -10.8 0M437.6 240a5.4 5.4 0 1 0 10.8 0a5.4 5.4 0 1 0 -10.8 0M367.6 240a5.4 5.4 0 1 0 10.8 0a5.4 5.4 0 1 0 -10.8 0M362.6 240a5.4 5.4 0 1 0 10.8 0a5.4 5.4 0 1 0 -10.8 0M372.6 240a5.4 5.4 0 1 0 10.8 0a5.4 5.4 0 1 0 -10.8 0M382.6 240a5.4 5.4 0 1 0 10.8 0a5.4 5.4 0 1 0 -10.8 0M412.6 240a5.4 5.4 0 1 0 10.8 0a5.4 5.4 0 1 0 -10.8 0M417.6 240a5.4 5.4 0 1 0 10.8 0a5.4 5.4 0 1 0 -10.8 0M397.6 240a5.4 5.4 0 1 0 10.8 0a5.4 5.4 0 1 0 -10.8 0M342.6 240a5.4 5.4 0 1 0 10.8 0a5.4 5.4 0 1 0 -10.8 0M337.6 240a5.4 5.4 0 1 0 10.8 0a5.4 5.4 0 1 0 -10.8 0M357.6 240a5.4 5.4 0 1 0 10.8 0a5.4 5.4 0 1 0 -10.8 0M377.6 240a5.4 5.4 0 1 0 10.8 0a5.4 5.4 0 1 0 -10.8 0M457.6 240a5.4 5.4 0 1 0 10.8 0a5.4 5.4 0 1 0 -10.8 0M442.6 240a5.4 5.4 0 1 0 10.8 0a5.4 5.4 0 1 0 -10.8 0M407.6 240a5.4 5.4 0 1 0 10.8 0a5.4 5.4 0 1 0 -10.8 0M392.6 240a5.4 5.4 0 1 0 10.8 0a5.4 5.4 0 1 0 -10.8 0M427.6 240a5.4 5.4 0 1 0 10.8 0a5.4 5.4 0 1 0 -10.8 0M452.6 240a5.4 5.4 0 1 0 10.8 0a5.4 5.4 0 1 0 -10.8 0M352.6 240a5.4 5.4 0 1 0 10.8 0a5.4 5.4 0 1 0 -10.8 0M332.6 240a5.4 5.4 0 1 0 10.8 0a5.4 5.4 0 1 0 -10.8 0M432.6 240a5.4 5.4 0 1 0 10.8 0a5.4 5.4 0 1 0 -10.8 0M402.6 240a5.4 5.4 0 1 0 10.8 0a5.4 5.4 0 1 0 -10.8 0M387.6 240a5.4 5.4 0 1 0 10.8 0a5.4 5.4 0 1 0 -10.8 0M412.6 245a5.4 5.4 0 1 0 10.8 0a5.4 5.4 0 1 0 -10.8 0M397.6 245a5.4 5.4 0 1 0 10.8 0a5.4 5.4 0 1 0 -10.8 0M417.6 245a5.4 5.4 0 1 0 10.8 0a5.4 5.4 0 1 0 -10.8 0M402.6 245a5.4 5.4 0 1 0 10.8 0a5.4 5.4 0 1 0 -10.8 0M387.6 245a5.4 5.4 0 1 0 10.8 0a5.4 5.4 0 1 0 -10.8 0M422.6 245a5.4 5.4 0 1 0 10.8 0a5.4 5.4 0 1 0 -10.8 0M382.6 245a5.4 5.4 0 1 0 10.8 0a5.4 5.4 0 1 0 -10.8 0M432.6 245a5.4 5.4 0 1 0 10.8 0a5.4 5.4 0 1 0 -10.8 0M372.6 245a5.4 5.4 0 1 0 10.8 0a5.4 5.4 0 1 0 -10.8 0M427.6 245a5.4 5.4 0 1 0 10.8 0a5.4 5.4 0 1 0 -10.8 0M362.6 245a5.4 5.4 0 1 0 10.8 0a5.4 5.4 0 1 0 -10.8 0M377.6 245a5.4 5.4 0 1 0 10.8 0a5.4 5.4 0 1 0 -10.8 0M392.6 245a5.4 5.4 0 1 0 10.8 0a5.4 5.4 0 1 0 -10.8 0M367.6 245a5.4 5.4 0 1 0 10.8 0a5.4 5.4 0 1 0 -10.8 0M407.6 245a5.4 5.4 0 1 0 10.8 0a5.4 5.4 0 1 0 -10.8 0M432.6 250a5.4 5.4 0 1 0 10.8 0a5.4 5.4 0 1 0 -10.8 0M427.6 250a5.4 5.4 0 1 0 10.8 0a5.4 5.4 0 1 0 -10.8 0M377.6 250a5.4 5.4 0 1 0 10.8 0a5.4 5.4 0 1 0 -10.8 0M417.6 250a5.4 5.4 0 1 0 10.8 0a5.4 5.4 0 1 0 -10.8 0M367.6 250a5.4 5.4 0 1 0 10.8 0a5.4 5.4 0 1 0 -10.8 0M407.6 250a5.4 5.4 0 1 0 10.8 0a5.4 5.4 0 1 0 -10.8 0M357.6 250a5.4 5.4 0 1 0 10.8 0a5.4 5.4 0 1 0 -10.8 0M392.6 250a5.4 5.4 0 1 0 10.8 0a5.4 5.4 0 1 0 -10.8 0M387.6 250a5.4 5.4 0 1 0 10.8 0a5.4 5.4 0 1 0 -10.8 0M412.6 250a5.4 5.4 0 1 0 10.8 0a5.4 5.4 0 1 0 -10.8 0M397.6 250a5.4 5.4 0 1 0 10.8 0a5.4 5.4 0 1 0 -10.8 0M402.6 250a5.4 5.4 0 1 0 10.8 0a5.4 5.4 0 1 0 -10.8 0M437.6 250a5.4 5.4 0 1 0 10.8 0a5.4 5.4 0 1 0 -10.8 0M372.6 250a5.4 5.4 0 1 0 10.8 0a5.4 5.4 0 1 0 -10.8 0M382.6 250a5.4 5.4 0 1 0 10.8 0a5.4 5.4 0 1 0 -10.8 0M422.6 250a5.4 5.4 0 1 0 10.8 0a5.4 5.4 0 1 0 -10.8 0M362.6 250a5.4 5.4 0 1 0 10.8 0a5.4 5.4 0 1 0 -10.8 0M412.6 255a5.4 5.4 0 1 0 10.8 0a5.4 5.4 0 1 0 -10.8 0M387.6 255a5.4 5.4 0 1 0 10.8 0a5.4 5.4 0 1 0 -10.8 0M357.6 255a5.4 5.4 0 1 0 10.8 0a5.4 5.4 0 1 0 -10.8 0M442.6 255a5.4 5.4 0 1 0 10.8 0a5.4 5.4 0 1 0 -10.8 0M447.6 255a5.4 5.4 0 1 0 10.8 0a5.4 5.4 0 1 0 -10.8 0M347.6 255a5.4 5.4 0 1 0 10.8 0a5.4 5.4 0 1 0 -10.8 0M352.6 255a5.4 5.4 0 1 0 10.8 0a5.4 5.4 0 1 0 -10.8 0M402.6 255a5.4 5.4 0 1 0 10.8 0a5.4 5.4 0 1 0 -10.8 0M377.6 255a5.4 5.4 0 1 0 10.8 0a5.4 5.4 0 1 0 -10.8 0M367.6 255a5.4 5.4 0 1 0 10.8 0a5.4 5.4 0 1 0 -10.8 0M392.6 255a5.4 5.4 0 1 0 10.8 0a5.4 5.4 0 1 0 -10.8 0M407.6 255a5.4 5.4 0 1 0 10.8 0a5.4 5.4 0 1 0 -10.8 0M432.6 255a5.4 5.4 0 1 0 10.8 0a5.4 5.4 0 1 0 -10.8 0M342.6 255a5.4 5.4 0 1 0 10.8 0a5.4 5.4 0 1 0 -10.8 0M397.6 255a5.4 5.4 0 1 0 10.8 0a5.4 5.4 0 1 0 -10.8 0M417.6 255a5.4 5.4 0 1 0 10.8 0a5.4 5.4 0 1 0 -10.8 0M422.6 255a5.4 5.4 0 1 0 10.8 0a5.4 5.4 0 1 0 -10.8 0M427.6 255a5.4 5.4 0 1 0 10.8 0a5.4 5.4 0 1 0 -10.8 0M372.6 255a5.4 5.4 0 1 0 10.8 0a5.4 5.4 0 1 0 -10.8 0M437.6 255a5.4 5.4 0 1 0 10.8 0a5.4 5.4 0 1 0 -10.8 0M382.6 255a5.4 5.4 0 1 0 10.8 0a5.4 5.4 0 1 0 -10.8 0M362.6 255a5.4 5.4 0 1 0 10.8 0a5.4 5.4 0 1 0 -10.8 0M422.6 260a5.4 5.4 0 1 0 10.8 0a5.4 5.4 0 1 0 -10.8 0M427.6 260a5.4 5.4 0 1 0 10.8 0a5.4 5.4 0 1 0 -10.8 0M397.6 260a5.4 5.4 0 1 0 10.8 0a5.4 5.4 0 1 0 -10.8 0M357.6 260a5.4 5.4 0 1 0 10.8 0a5.4 5.4 0 1 0 -10.8 0M417.6 260a5.4 5.4 0 1 0 10.8 0a5.4 5.4 0 1 0 -10.8 0M362.6 260a5.4 5.4 0 1 0 10.8 0a5.4 5.4 0 1 0 -10.8 0M412.6 260a5.4 5.4 0 1 0 10.8 0a5.4 5.4 0 1 0 -10.8 0M352.6 260a5.4 5.4 0 1 0 10.8 0a5.4 5.4 0 1 0 -10.8 0M367.6 260a5.4 5.4 0 1 0 10.8 0a5.4 5.4 0 1 0 -10.8 0M402.6 260a5.4 5.4 0 1 0 10.8 0a5.4 5.4 0 1 0 -10.8 0M377.6 260a5.4 5.4 0 1 0 10.8 0a5.4 5.4 0 1 0 -10.8 0M432.6 260a5.4 5.4 0 1 0 10.8 0a5.4 5.4 0 1 0 -10.8 0M407.6 260a5.4 5.4 0 1 0 10.8 0a5.4 5.4 0 1 0 -10.8 0M437.6 260a5.4 5.4 0 1 0 10.8 0a5.4 5.4 0 1 0 -10.8 0M387.6 260a5.4 5.4 0 1 0 10.8 0a5.4 5.4 0 1 0 -10.8 0M392.6 260a5.4 5.4 0 1 0 10.8 0a5.4 5.4 0 1 0 -10.8 0M347.6 260a5.4 5.4 0 1 0 10.8 0a5.4 5.4 0 1 0 -10.8 0M442.6 260a5.4 5.4 0 1 0 10.8 0a5.4 5.4 0 1 0 -10.8 0M372.6 260a5.4 5.4 0 1 0 10.8 0a5.4 5.4 0 1 0 -10.8 0M382.6 260a5.4 5.4 0 1 0 10.8 0a5.4 5.4 0 1 0 -10.8 0M422.6 265a5.4 5.4 0 1 0 10.8 0a5.4 5.4 0 1 0 -10.8 0M427.6 265a5.4 5.4 0 1 0 10.8 0a5.4 5.4 0 1 0 -10.8 0M407.6 265a5.4 5.4 0 1 0 10.8 0a5.4 5.4 0 1 0 -10.8 0M367.6 265a5.4 5.4 0 1 0 10.8 0a5.4 5.4 0 1 0 -10.8 0M377.6 265a5.4 5.4 0 1 0 10.8 0a5.4 5.4 0 1 0 -10.8 0M392.6 265a5.4 5.4 0 1 0 10.8 0a5.4 5.4 0 1 0 -10.8 0M412.6 265a5.4 5.4 0 1 0 10.8 0a5.4 5.4 0 1 0 -10.8 0M402.6 265a5.4 5.4 0 1 0 10.8 0a5.4 5.4 0 1 0 -10.8 0M382.6 265a5.4 5.4 0 1 0 10.8 0a5.4 5.4 0 1 0 -10.8 0M372.6 265a5.4 5.4 0 1 0 10.8 0a5.4 5.4 0 1 0 -10.8 0M387.6 265a5.4 5.4 0 1 0 10.8 0a5.4 5.4 0 1 0 -10.8 0M417.6 265a5.4 5.4 0 1 0 10.8 0a5.4 5.4 0 1 0 -10.8 0M397.6 265a5.4 5.4 0 1 0 10.8 0a5.4 5.4 0 1 0 -10.8 0M397.6 270a5.4 5.4 0 1 0 10.8 0a5.4 5.4 0 1 0 -10.8 0M417.6 270a5.4 5.4 0 1 0 10.8 0a5.4 5.4 0 1 0 -10.8 0M387.6 270a5.4 5.4 0 1 0 10.8 0a5.4 5.4 0 1 0 -10.8 0M377.6 270a5.4 5.4 0 1 0 10.8 0a5.4 5.4 0 1 0 -10.8 0M427.6 270a5.4 5.4 0 1 0 10.8 0a5.4 5.4 0 1 0 -10.8 0M392.6 270a5.4 5.4 0 1 0 10.8 0a5.4 5.4 0 1 0 -10.8 0M412.6 270a5.4 5.4 0 1 0 10.8 0a5.4 5.4 0 1 0 -10.8 0M372.6 270a5.4 5.4 0 1 0 10.8 0a5.4 5.4 0 1 0 -10.8 0M407.6 270a5.4 5.4 0 1 0 10.8 0a5.4 5.4 0 1 0 -10.8 0M362.6 270a5.4 5.4 0 1 0 10.8 0a5.4 5.4 0 1 0 -10.8 0M422.6 270a5.4 5.4 0 1 0 10.8 0a5.4 5.4 0 1 0 -10.8 0M367.6 270a5.4 5.4 0 1 0 10.8 0a5.4 5.4 0 1 0 -10.8 0M402.6 270a5.4 5.4 0 1 0 10.8 0a5.4 5.4 0 1 0 -10.8 0M382.6 270a5.4 5.4 0 1 0 10.8 0a5.4 5.4 0 1 0 -10.8 0M412.6 275a5.4 5.4 0 1 0 10.8 0a5.4 5.4 0 1 0 -10.8 0M422.6 275a5.4 5.4 0 1 0 10.8 0a5.4 5.4 0 1 0 -10.8 0M392.6 275a5.4 5.4 0 1 0 10.8 0a5.4 5.4 0 1 0 -10.8 0M407.6 275a5.4 5.4 0 1 0 10.8 0a5.4 5.4 0 1 0 -10.8 0M377.6 275a5.4 5.4 0 1 0 10.8 0a5.4 5.4 0 1 0 -10.8 0M402.6 275a5.4 5.4 0 1 0 10.8 0a5.4 5.4 0 1 0 -10.8 0M367.6 275a5.4 5.4 0 1 0 10.8 0a5.4 5.4 0 1 0 -10.8 0M417.6 275a5.4 5.4 0 1 0 10.8 0a5.4 5.4 0 1 0 -10.8 0M427.6 275a5.4 5.4 0 1 0 10.8 0a5.4 5.4 0 1 0 -10.8 0M387.6 275a5.4 5.4 0 1 0 10.8 0a5.4 5.4 0 1 0 -10.8 0M382.6 275a5.4 5.4 0 1 0 10.8 0a5.4 5.4 0 1 0 -10.8 0M372.6 275a5.4 5.4 0 1 0 10.8 0a5.4 5.4 0 1 0 -10.8 0M397.6 275a5.4 5.4 0 1 0 10.8 0a5.4 5.4 0 1 0 -10.8 0M417.6 280a5.4 5.4 0 1 0 10.8 0a5.4 5.4 0 1 0 -10.8 0M397.6 280a5.4 5.4 0 1 0 10.8 0a5.4 5.4 0 1 0 -10.8 0M392.6 280a5.4 5.4 0 1 0 10.8 0a5.4 5.4 0 1 0 -10.8 0M407.6 280a5.4 5.4 0 1 0 10.8 0a5.4 5.4 0 1 0 -10.8 0M387.6 280a5.4 5.4 0 1 0 10.8 0a5.4 5.4 0 1 0 -10.8 0M402.6 280a5.4 5.4 0 1 0 10.8 0a5.4 5.4 0 1 0 -10.8 0M372.6 280a5.4 5.4 0 1 0 10.8 0a5.4 5.4 0 1 0 -10.8 0M377.6 280a5.4 5.4 0 1 0 10.8 0a5.4 5.4 0 1 0 -10.8 0M367.6 280a5.4 5.4 0 1 0 10.8 0a5.4 5.4 0 1 0 -10.8 0M422.6 280a5.4 5.4 0 1 0 10.8 0a5.4 5.4 0 1 0 -10.8 0M412.6 280a5.4 5.4 0 1 0 10.8 0a5.4 5.4 0 1 0 -10.8 0M427.6 280a5.4 5.4 0 1 0 10.8 0a5.4 5.4 0 1 0 -10.8 0M382.6 280a5.4 5.4 0 1 0 10.8 0a5.4 5.4 0 1 0 -10.8 0M407.6 285a5.4 5.4 0 1 0 10.8 0a5.4 5.4 0 1 0 -10.8 0M387.6 285a5.4 5.4 0 1 0 10.8 0a5.4 5.4 0 1 0 -10.8 0M402.6 285a5.4 5.4 0 1 0 10.8 0a5.4 5.4 0 1 0 -10.8 0M382.6 285a5.4 5.4 0 1 0 10.8 0a5.4 5.4 0 1 0 -10.8 0M412.6 285a5.4 5.4 0 1 0 10.8 0a5.4 5.4 0 1 0 -10.8 0M372.6 285a5.4 5.4 0 1 0 10.8 0a5.4 5.4 0 1 0 -10.8 0M392.6 285a5.4 5.4 0 1 0 10.8 0a5.4 5.4 0 1 0 -10.8 0M377.6 285a5.4 5.4 0 1 0 10.8 0a5.4 5.4 0 1 0 -10.8 0M397.6 285a5.4 5.4 0 1 0 10.8 0a5.4 5.4 0 1 0 -10.8 0M367.6 285a5.4 5.4 0 1 0 10.8 0a5.4 5.4 0 1 0 -10.8 0M417.6 285a5.4 5.4 0 1 0 10.8 0a5.4 5.4 0 1 0 -10.8 0M422.6 285a5.4 5.4 0 1 0 10.8 0a5.4 5.4 0 1 0 -10.8 0M387.6 290a5.4 5.4 0 1 0 10.8 0a5.4 5.4 0 1 0 -10.8 0M392.6 290a5.4 5.4 0 1 0 10.8 0a5.4 5.4 0 1 0 -10.8 0M412.6 290a5.4 5.4 0 1 0 10.8 0a5.4 5.4 0 1 0 -10.8 0M407.6 290a5.4 5.4 0 1 0 10.8 0a5.4 5.4 0 1 0 -10.8 0M422.6 290a5.4 5.4 0 1 0 10.8 0a5.4 5.4 0 1 0 -10.8 0M372.6 290a5.4 5.4 0 1 0 10.8 0a5.4 5.4 0 1 0 -10.8 0M382.6 290a5.4 5.4 0 1 0 10.8 0a5.4 5.4 0 1 0 -10.8 0M402.6 290a5.4 5.4 0 1 0 10.8 0a5.4 5.4 0 1 0 -10.8 0M367.6 290a5.4 5.4 0 1 0 10.8 0a5.4 5.4 0 1 0 -10.8 0M377.6 290a5.4 5.4 0 1 0 10.8 0a5.4 5.4 0 1 0 -10.8 0M397.6 290a5.4 5.4 0 1 0 10.8 0a5.4 5.4 0 1 0 -10.8 0M412.6 295a5.4 5.4 0 1 0 10.8 0a5.4 5.4 0 1 0 -10.8 0M417.6 290a5.4 5.4 0 1 0 10.8 0a5.4 5.4 0 1 0 -10.8 0M422.6 295a5.4 5.4 0 1 0 10.8 0a5.4 5.4 0 1 0 -10.8 0M382.6 295a5.4 5.4 0 1 0 10.8 0a5.4 5.4 0 1 0 -10.8 0M367.6 295a5.4 5.4 0 1 0 10.8 0a5.4 5.4 0 1 0 -10.8 0M377.6 295a5.4 5.4 0 1 0 10.8 0a5.4 5.4 0 1 0 -10.8 0M387.6 295a5.4 5.4 0 1 0 10.8 0a5.4 5.4 0 1 0 -10.8 0M392.6 295a5.4 5.4 0 1 0 10.8 0a5.4 5.4 0 1 0 -10.8 0M402.6 295a5.4 5.4 0 1 0 10.8 0a5.4 5.4 0 1 0 -10.8 0M407.6 295a5.4 5.4 0 1 0 10.8 0a5.4 5.4 0 1 0 -10.8 0M417.6 295a5.4 5.4 0 1 0 10.8 0a5.4 5.4 0 1 0 -10.8 0M397.6 295a5.4 5.4 0 1 0 10.8 0a5.4 5.4 0 1 0 -10.8 0M372.6 295a5.4 5.4 0 1 0 10.8 0a5.4 5.4 0 1 0 -10.8 0M387.6 300a5.4 5.4 0 1 0 10.8 0a5.4 5.4 0 1 0 -10.8 0M422.6 300a5.4 5.4 0 1 0 10.8 0a5.4 5.4 0 1 0 -10.8 0M377.6 300a5.4 5.4 0 1 0 10.8 0a5.4 5.4 0 1 0 -10.8 0M402.6 300a5.4 5.4 0 1 0 10.8 0a5.4 5.4 0 1 0 -10.8 0M417.6 300a5.4 5.4 0 1 0 10.8 0a5.4 5.4 0 1 0 -10.8 0M372.6 300a5.4 5.4 0 1 0 10.8 0a5.4 5.4 0 1 0 -10.8 0M407.6 300a5.4 5.4 0 1 0 10.8 0a5.4 5.4 0 1 0 -10.8 0M412.6 300a5.4 5.4 0 1 0 10.8 0a5.4 5.4 0 1 0 -10.8 0M397.6 300a5.4 5.4 0 1 0 10.8 0a5.4 5.4 0 1 0 -10.8 0M367.6 300a5.4 5.4 0 1 0 10.8 0a5.4 5.4 0 1 0 -10.8 0M392.6 300a5.4 5.4 0 1 0 10.8 0a5.4 5.4 0 1 0 -10.8 0M382.6 300a5.4 5.4 0 1 0 10.8 0a5.4 5.4 0 1 0 -10.8 0M417.6 305a5.4 5.4 0 1 0 10.8 0a5.4 5.4 0 1 0 -10.8 0M402.6 305a5.4 5.4 0 1 0 10.8 0a5.4 5.4 0 1 0 -10.8 0M372.6 305a5.4 5.4 0 1 0 10.8 0a5.4 5.4 0 1 0 -10.8 0M387.6 305a5.4 5.4 0 1 0 10.8 0a5.4 5.4 0 1 0 -10.8 0M397.6 305a5.4 5.4 0 1 0 10.8 0a5.4 5.4 0 1 0 -10.8 0M422.6 305a5.4 5.4 0 1 0 10.8 0a5.4 5.4 0 1 0 -10.8 0M382.6 305a5.4 5.4 0 1 0 10.8 0a5.4 5.4 0 1 0 -10.8 0M412.6 305a5.4 5.4 0 1 0 10.8 0a5.4 5.4 0 1 0 -10.8 0M377.6 305a5.4 5.4 0 1 0 10.8 0a5.4 5.4 0 1 0 -10.8 0M367.6 305a5.4 5.4 0 1 0 10.8 0a5.4 5.4 0 1 0 -10.8 0M407.6 305a5.4 5.4 0 1 0 10.8 0a5.4 5.4 0 1 0 -10.8 0M392.6 305a5.4 5.4 0 1 0 10.8 0a5.4 5.4 0 1 0 -10.8 0M387.6 310a5.4 5.4 0 1 0 10.8 0a5.4 5.4 0 1 0 -10.8 0M412.6 310a5.4 5.4 0 1 0 10.8 0a5.4 5.4 0 1 0 -10.8 0M377.6 310a5.4 5.4 0 1 0 10.8 0a5.4 5.4 0 1 0 -10.8 0M382.6 310a5.4 5.4 0 1 0 10.8 0a5.4 5.4 0 1 0 -10.8 0M392.6 310a5.4 5.4 0 1 0 10.8 0a5.4 5.4 0 1 0 -10.8 0M402.6 310a5.4 5.4 0 1 0 10.8 0a5.4 5.4 0 1 0 -10.8 0M407.6 310a5.4 5.4 0 1 0 10.8 0a5.4 5.4 0 1 0 -10.8 0M397.6 310a5.4 5.4 0 1 0 10.8 0a5.4 5.4 0 1 0 -10.8 0M417.6 310a5.4 5.4 0 1 0 10.8 0a5.4 5.4 0 1 0 -10.8 0M417.6 315a5.4 5.4 0 1 0 10.8 0a5.4 5.4 0 1 0 -10.8 0M382.6 315a5.4 5.4 0 1 0 10.8 0a5.4 5.4 0 1 0 -10.8 0M407.6 315a5.4 5.4 0 1 0 10.8 0a5.4 5.4 0 1 0 -10.8 0M377.6 315a5.4 5.4 0 1 0 10.8 0a5.4 5.4 0 1 0 -10.8 0M387.6 315a5.4 5.4 0 1 0 10.8 0a5.4 5.4 0 1 0 -10.8 0M397.6 315a5.4 5.4 0 1 0 10.8 0a5.4 5.4 0 1 0 -10.8 0M402.6 315a5.4 5.4 0 1 0 10.8 0a5.4 5.4 0 1 0 -10.8 0M392.6 315a5.4 5.4 0 1 0 10.8 0a5.4 5.4 0 1 0 -10.8 0M412.6 315a5.4 5.4 0 1 0 10.8 0a5.4 5.4 0 1 0 -10.8 0M407.6 320a5.4 5.4 0 1 0 10.8 0a5.4 5.4 0 1 0 -10.8 0M397.6 320a5.4 5.4 0 1 0 10.8 0a5.4 5.4 0 1 0 -10.8 0M392.6 320a5.4 5.4 0 1 0 10.8 0a5.4 5.4 0 1 0 -10.8 0M417.6 320a5.4 5.4 0 1 0 10.8 0a5.4 5.4 0 1 0 -10.8 0M412.6 320a5.4 5.4 0 1 0 10.8 0a5.4 5.4 0 1 0 -10.8 0M377.6 320a5.4 5.4 0 1 0 10.8 0a5.4 5.4 0 1 0 -10.8 0M387.6 320a5.4 5.4 0 1 0 10.8 0a5.4 5.4 0 1 0 -10.8 0M402.6 320a5.4 5.4 0 1 0 10.8 0a5.4 5.4 0 1 0 -10.8 0M382.6 320a5.4 5.4 0 1 0 10.8 0a5.4 5.4 0 1 0 -10.8 0M392.6 325a5.4 5.4 0 1 0 10.8 0a5.4 5.4 0 1 0 -10.8 0M377.6 325a5.4 5.4 0 1 0 10.8 0a5.4 5.4 0 1 0 -10.8 0M387.6 325a5.4 5.4 0 1 0 10.8 0a5.4 5.4 0 1 0 -10.8 0M382.6 325a5.4 5.4 0 1 0 10.8 0a5.4 5.4 0 1 0 -10.8 0M412.6 325a5.4 5.4 0 1 0 10.8 0a5.4 5.4 0 1 0 -10.8 0M417.6 325a5.4 5.4 0 1 0 10.8 0a5.4 5.4 0 1 0 -10.8 0M397.6 325a5.4 5.4 0 1 0 10.8 0a5.4 5.4 0 1 0 -10.8 0M402.6 325a5.4 5.4 0 1 0 10.8 0a5.4 5.4 0 1 0 -10.8 0M407.6 325a5.4 5.4 0 1 0 10.8 0a5.4 5.4 0 1 0 -10.8 0M412.6 330a5.4 5.4 0 1 0 10.8 0a5.4 5.4 0 1 0 -10.8 0M392.6 330a5.4 5.4 0 1 0 10.8 0a5.4 5.4 0 1 0 -10.8 0M407.6 330a5.4 5.4 0 1 0 10.8 0a5.4 5.4 0 1 0 -10.8 0M387.6 330a5.4 5.4 0 1 0 10.8 0a5.4 5.4 0 1 0 -10.8 0M397.6 330a5.4 5.4 0 1 0 10.8 0a5.4 5.4 0 1 0 -10.8 0M382.6 330a5.4 5.4 0 1 0 10.8 0a5.4 5.4 0 1 0 -10.8 0M402.6 330a5.4 5.4 0 1 0 10.8 0a5.4 5.4 0 1 0 -10.8 0M417.6 330a5.4 5.4 0 1 0 10.8 0a5.4 5.4 0 1 0 -10.8 0M377.6 330a5.4 5.4 0 1 0 10.8 0a5.4 5.4 0 1 0 -10.8 0M407.6 335a5.4 5.4 0 1 0 10.8 0a5.4 5.4 0 1 0 -10.8 0M382.6 335a5.4 5.4 0 1 0 10.8 0a5.4 5.4 0 1 0 -10.8 0M402.6 335a5.4 5.4 0 1 0 10.8 0a5.4 5.4 0 1 0 -10.8 0M392.6 335a5.4 5.4 0 1 0 10.8 0a5.4 5.4 0 1 0 -10.8 0M387.6 335a5.4 5.4 0 1 0 10.8 0a5.4 5.4 0 1 0 -10.8 0M412.6 335a5.4 5.4 0 1 0 10.8 0a5.4 5.4 0 1 0 -10.8 0M377.6 335a5.4 5.4 0 1 0 10.8 0a5.4 5.4 0 1 0 -10.8 0M397.6 335a5.4 5.4 0 1 0 10.8 0a5.4 5.4 0 1 0 -10.8 0M417.6 335a5.4 5.4 0 1 0 10.8 0a5.4 5.4 0 1 0 -10.8 0M377.6 340a5.4 5.4 0 1 0 10.8 0a5.4 5.4 0 1 0 -10.8 0M402.6 340a5.4 5.4 0 1 0 10.8 0a5.4 5.4 0 1 0 -10.8 0M392.6 340a5.4 5.4 0 1 0 10.8 0a5.4 5.4 0 1 0 -10.8 0M372.6 340a5.4 5.4 0 1 0 10.8 0a5.4 5.4 0 1 0 -10.8 0M417.6 340a5.4 5.4 0 1 0 10.8 0a5.4 5.4 0 1 0 -10.8 0M382.6 340a5.4 5.4 0 1 0 10.8 0a5.4 5.4 0 1 0 -10.8 0M412.6 340a5.4 5.4 0 1 0 10.8 0a5.4 5.4 0 1 0 -10.8 0M407.6 340a5.4 5.4 0 1 0 10.8 0a5.4 5.4 0 1 0 -10.8 0M387.6 340a5.4 5.4 0 1 0 10.8 0a5.4 5.4 0 1 0 -10.8 0M397.6 340a5.4 5.4 0 1 0 10.8 0a5.4 5.4 0 1 0 -10.8 0M377.6 345a5.4 5.4 0 1 0 10.8 0a5.4 5.4 0 1 0 -10.8 0M402.6 345a5.4 5.4 0 1 0 10.8 0a5.4 5.4 0 1 0 -10.8 0M382.6 345a5.4 5.4 0 1 0 10.8 0a5.4 5.4 0 1 0 -10.8 0M412.6 345a5.4 5.4 0 1 0 10.8 0a5.4 5.4 0 1 0 -10.8 0M397.6 345a5.4 5.4 0 1 0 10.8 0a5.4 5.4 0 1 0 -10.8 0M407.6 345a5.4 5.4 0 1 0 10.8 0a5.4 5.4 0 1 0 -10.8 0M387.6 345a5.4 5.4 0 1 0 10.8 0a5.4 5.4 0 1 0 -10.8 0M392.6 345a5.4 5.4 0 1 0 10.8 0a5.4 5.4 0 1 0 -10.8 0M397.6 350a5.4 5.4 0 1 0 10.8 0a5.4 5.4 0 1 0 -10.8 0M392.6 350a5.4 5.4 0 1 0 10.8 0a5.4 5.4 0 1 0 -10.8 0M382.6 350a5.4 5.4 0 1 0 10.8 0a5.4 5.4 0 1 0 -10.8 0M402.6 350a5.4 5.4 0 1 0 10.8 0a5.4 5.4 0 1 0 -10.8 0M407.6 350a5.4 5.4 0 1 0 10.8 0a5.4 5.4 0 1 0 -10.8 0M387.6 350a5.4 5.4 0 1 0 10.8 0a5.4 5.4 0 1 0 -10.8 0M387.6 355a5.4 5.4 0 1 0 10.8 0a5.4 5.4 0 1 0 -10.8 0M382.6 355a5.4 5.4 0 1 0 10.8 0a5.4 5.4 0 1 0 -10.8 0M392.6 355a5.4 5.4 0 1 0 10.8 0a5.4 5.4 0 1 0 -10.8 0M412.6 355a5.4 5.4 0 1 0 10.8 0a5.4 5.4 0 1 0 -10.8 0M407.6 355a5.4 5.4 0 1 0 10.8 0a5.4 5.4 0 1 0 -10.8 0M402.6 355a5.4 5.4 0 1 0 10.8 0a5.4 5.4 0 1 0 -10.8 0M397.6 355a5.4 5.4 0 1 0 10.8 0a5.4 5.4 0 1 0 -10.8 0M387.6 360a5.4 5.4 0 1 0 10.8 0a5.4 5.4 0 1 0 -10.8 0M397.6 360a5.4 5.4 0 1 0 10.8 0a5.4 5.4 0 1 0 -10.8 0M392.6 360a5.4 5.4 0 1 0 10.8 0a5.4 5.4 0 1 0 -10.8 0M402.6 360a5.4 5.4 0 1 0 10.8 0a5.4 5.4 0 1 0 -10.8 0M392.6 365a5.4 5.4 0 1 0 10.8 0a5.4 5.4 0 1 0 -10.8 0M407.6 365a5.4 5.4 0 1 0 10.8 0a5.4 5.4 0 1 0 -10.8 0M387.6 365a5.4 5.4 0 1 0 10.8 0a5.4 5.4 0 1 0 -10.8 0M402.6 365a5.4 5.4 0 1 0 10.8 0a5.4 5.4 0 1 0 -10.8 0M397.6 365a5.4 5.4 0 1 0 10.8 0a5.4 5.4 0 1 0 -10.8 0M402.6 370a5.4 5.4 0 1 0 10.8 0a5.4 5.4 0 1 0 -10.8 0M392.6 370a5.4 5.4 0 1 0 10.8 0a5.4 5.4 0 1 0 -10.8 0M397.6 370a5.4 5.4 0 1 0 10.8 0a5.4 5.4 0 1 0 -10.8 0M387.6 370a5.4 5.4 0 1 0 10.8 0a5.4 5.4 0 1 0 -10.8 0M402.6 375a5.4 5.4 0 1 0 10.8 0a5.4 5.4 0 1 0 -10.8 0M397.6 375a5.4 5.4 0 1 0 10.8 0a5.4 5.4 0 1 0 -10.8 0M392.6 375a5.4 5.4 0 1 0 10.8 0a5.4 5.4 0 1 0 -10.8 0M387.6 380a5.4 5.4 0 1 0 10.8 0a5.4 5.4 0 1 0 -10.8 0M402.6 380a5.4 5.4 0 1 0 10.8 0a5.4 5.4 0 1 0 -10.8 0M392.6 380a5.4 5.4 0 1 0 10.8 0a5.4 5.4 0 1 0 -10.8 0M397.6 380a5.4 5.4 0 1 0 10.8 0a5.4 5.4 0 1 0 -10.8 0M402.6 385a5.4 5.4 0 1 0 10.8 0a5.4 5.4 0 1 0 -10.8 0M397.6 385a5.4 5.4 0 1 0 10.8 0a5.4 5.4 0 1 0 -10.8 0M392.6 385a5.4 5.4 0 1 0 10.8 0a5.4 5.4 0 1 0 -10.8 0M392.6 390a5.4 5.4 0 1 0 10.8 0a5.4 5.4 0 1 0 -10.8 0M402.6 390a5.4 5.4 0 1 0 10.8 0a5.4 5.4 0 1 0 -10.8 0M397.6 390a5.4 5.4 0 1 0 10.8 0a5.4 5.4 0 1 0 -10.8 0M392.6 395a5.4 5.4 0 1 0 10.8 0a5.4 5.4 0 1 0 -10.8 0M397.6 395a5.4 5.4 0 1 0 10.8 0a5.4 5.4 0 1 0 -10.8 0M402.6 400a5.4 5.4 0 1 0 10.8 0a5.4 5.4 0 1 0 -10.8 0M392.6 400a5.4 5.4 0 1 0 10.8 0a5.4 5.4 0 1 0 -10.8 0M397.6 400a5.4 5.4 0 1 0 10.8 0a5.4 5.4 0 1 0 -10.8 0M397.6 405a5.4 5.4 0 1 0 10.8 0a5.4 5.4 0 1 0 -10.8 0M392.6 405a5.4 5.4 0 1 0 10.8 0a5.4 5.4 0 1 0 -10.8 0M392.6 410a5.4 5.4 0 1 0 10.8 0a5.4 5.4 0 1 0 -10.8 0M397.6 410a5.4 5.4 0 1 0 10.8 0a5.4 5.4 0 1 0 -10.8 0M402.6 410a5.4 5.4 0 1 0 10.8 0a5.4 5.4 0 1 0 -10.8 0M392.6 415a5.4 5.4 0 1 0 10.8 0a5.4 5.4 0 1 0 -10.8 0M402.6 415a5.4 5.4 0 1 0 10.8 0a5.4 5.4 0 1 0 -10.8 0M397.6 415a5.4 5.4 0 1 0 10.8 0a5.4 5.4 0 1 0 -10.8 0M392.6 420a5.4 5.4 0 1 0 10.8 0a5.4 5.4 0 1 0 -10.8 0M397.6 420a5.4 5.4 0 1 0 10.8 0a5.4 5.4 0 1 0 -10.8 0M402.6 420a5.4 5.4 0 1 0 10.8 0a5.4 5.4 0 1 0 -10.8 0M402.6 425a5.4 5.4 0 1 0 10.8 0a5.4 5.4 0 1 0 -10.8 0M392.6 425a5.4 5.4 0 1 0 10.8 0a5.4 5.4 0 1 0 -10.8 0M397.6 425a5.4 5.4 0 1 0 10.8 0a5.4 5.4 0 1 0 -10.8 0M392.6 430a5.4 5.4 0 1 0 10.8 0a5.4 5.4 0 1 0 -10.8 0M402.6 430a5.4 5.4 0 1 0 10.8 0a5.4 5.4 0 1 0 -10.8 0M397.6 430a5.4 5.4 0 1 0 10.8 0a5.4 5.4 0 1 0 -10.8 0M397.6 435a5.4 5.4 0 1 0 10.8 0a5.4 5.4 0 1 0 -10.8 0M397.6 440a5.4 5.4 0 1 0 10.8 0a5.4 5.4 0 1 0 -10.8 0M397.6 445a5.4 5.4 0 1 0 10.8 0a5.4 5.4 0 1 0 -10.8 0M392.6 445a5.4 5.4 0 1 0 10.8 0a5.4 5.4 0 1 0 -10.8 0M402.6 445a5.4 5.4 0 1 0 10.8 0a5.4 5.4 0 1 0 -10.8 0M392.6 450a5.4 5.4 0 1 0 10.8 0a5.4 5.4 0 1 0 -10.8 0M402.6 450a5.4 5.4 0 1 0 10.8 0a5.4 5.4 0 1 0 -10.8 0M397.6 450a5.4 5.4 0 1 0 10.8 0a5.4 5.4 0 1 0 -10.8 0M402.6 455a5.4 5.4 0 1 0 10.8 0a5.4 5.4 0 1 0 -10.8 0M392.6 455a5.4 5.4 0 1 0 10.8 0a5.4 5.4 0 1 0 -10.8 0M397.6 455a5.4 5.4 0 1 0 10.8 0a5.4 5.4 0 1 0 -10.8 0M387.6 455a5.4 5.4 0 1 0 10.8 0a5.4 5.4 0 1 0 -10.8 0M402.6 460a5.4 5.4 0 1 0 10.8 0a5.4 5.4 0 1 0 -10.8 0M397.6 460a5.4 5.4 0 1 0 10.8 0a5.4 5.4 0 1 0 -10.8 0M392.6 460a5.4 5.4 0 1 0 10.8 0a5.4 5.4 0 1 0 -10.8 0M402.6 465a5.4 5.4 0 1 0 10.8 0a5.4 5.4 0 1 0 -10.8 0M397.6 465a5.4 5.4 0 1 0 10.8 0a5.4 5.4 0 1 0 -10.8 0M392.6 465a5.4 5.4 0 1 0 10.8 0a5.4 5.4 0 1 0 -10.8 0M392.6 475a5.4 5.4 0 1 0 10.8 0a5.4 5.4 0 1 0 -10.8 0M402.6 475a5.4 5.4 0 1 0 10.8 0a5.4 5.4 0 1 0 -10.8 0M397.6 475a5.4 5.4 0 1 0 10.8 0a5.4 5.4 0 1 0 -10.8 0M392.6 480a5.4 5.4 0 1 0 10.8 0a5.4 5.4 0 1 0 -10.8 0M397.6 480a5.4 5.4 0 1 0 10.8 0a5.4 5.4 0 1 0 -10.8 0M392.6 485a5.4 5.4 0 1 0 10.8 0a5.4 5.4 0 1 0 -10.8 0M397.6 485a5.4 5.4 0 1 0 10.8 0a5.4 5.4 0 1 0 -10.8 0M392.6 490a5.4 5.4 0 1 0 10.8 0a5.4 5.4 0 1 0 -10.8 0M397.6 490a5.4 5.4 0 1 0 10.8 0a5.4 5.4 0 1 0 -10.8 0M397.6 495a5.4 5.4 0 1 0 10.8 0a5.4 5.4 0 1 0 -10.8 0M397.6 500a5.4 5.4 0 1 0 10.8 0a5.4 5.4 0 1 0 -10.8 0M397.6 510a5.4 5.4 0 1 0 10.8 0a5.4 5.4 0 1 0 -10.8 0M399.6 52.5a5.4 5.4 0 1 0 10.8 0a5.4 5.4 0 1 0 -10.8 0M397.6 522a5.4 5.4 0 1 0 10.8 0a5.4 5.4 0 1 0 -10.8 0M397.6 536.6a5.4 5.4 0 1 0 10.8 0a5.4 5.4 0 1 0 -10.8 0" fill="#545454"/><path d="M655.8 181.2a5.4 5.4 0 1 0 10.8 0a5.4 5.4 0 1 0 -10.8 0M655.8 198a5.4 5.4 0 1 0 10.8 0a5.4 5.4 0 1 0 -10.8 0M659 249.3a5.4 5.4 0 1 0 10.8 0a5.4 5.4 0 1 0 -10.8 0M655.8 256.5a5.4 5.4 0 1 0 10.8 0a5.4 5.4 0 1 0 -10.8 0M654.1 274.9a5.4 5.4 0 1 0 10.8 0a5.4 5.4 0 1 0 -10.8 0M659.6 274.9a5.4 5.4 0 1 0 10.8 0a5.4 5.4 0 1 0 -10.8 0M655.8 302a5.4 5.4 0 1 0 10.8 0a5.4 5.4 0 1 0 -10.8 0M658.2 311.7a5.4 5.4 0 1 0 10.8 0a5.4 5.4 0 1 0 -10.8 0M655.8 317.3a5.4 5.4 0 1 0 10.8 0a5.4 5.4 0 1 0 -10.8 0M655.8 342.1a5.4 5.4 0 1 0 10.8 0a5.4 5.4 0 1 0 -10.8 0M655.8 355.7a5.4 5.4 0 1 0 10.8 0a5.4 5.4 0 1 0 -10.8 0M655.8 410.2a5.4 5.4 0 1 0 10.8 0a5.4 5.4 0 1 0 -10.8 0M655.8 434.2a5.4 5.4 0 1 0 10.8 0a5.4 5.4 0 1 0 -10.8 0M655.8 442.2a5.4 5.4 0 1 0 10.8 0a5.4 5.4 0 1 0 -10.8 0M655.8 470.3a5.4 5.4 0 1 0 10.8 0a5.4 5.4 0 1 0 -10.8 0M655.8 483.9a5.4 5.4 0 1 0 10.8 0a5.4 5.4 0 1 0 -10.8 0M655.8 491.9a5.4 5.4 0 1 0 10.8 0a5.4 5.4 0 1 0 -10.8 0M655.8 514.3a5.4 5.4 0 1 0 10.8 0a5.4 5.4 0 1 0 -10.8 0M655.8 522.3a5.4 5.4 0 1 0 10.8 0a5.4 5.4 0 1 0 -10.8 0M655.8 534.3a5.4 5.4 0 1 0 10.8 0a5.4 5.4 0 1 0 -10.8 0M914.6 533.2a5.4 5.4 0 1 0 10.8 0a5.4 5.4 0 1 0 -10.8 0" fill="#545454"/><line x1="247.8" y1="25" x2="247.8" y2="611.0" stroke="#000" stroke-width="4"/><line x1="238.3" y1="84.29999999999998" x2="247.8" y2="84.29999999999998" stroke="#000" stroke-width="3"/><text x="232.8" y="98.7" text-anchor="end" class="t">2</text><line x1="238.3" y1="255.2" x2="247.8" y2="255.2" stroke="#000" stroke-width="3"/><text x="232.8" y="269.6" text-anchor="end" class="t">0</text><line x1="238.3" y1="426.1" x2="247.8" y2="426.1" stroke="#000" stroke-width="3"/><text x="232.8" y="440.5" text-anchor="end" class="t">-2</text><line x1="238.3" y1="597.0" x2="247.8" y2="597.0" stroke="#000" stroke-width="3"/><text x="232.8" y="611.4" text-anchor="end" class="t">-4</text><line x1="245.8" y1="609" x2="1074.5" y2="609" stroke="#000" stroke-width="4"/><line x1="403" y1="609" x2="403" y2="618.5" stroke="#000" stroke-width="3"/><text x="403" y="651.5" text-anchor="middle" class="t">AA (n=715)</text><line x1="661.3" y1="609" x2="661.3" y2="618.5" stroke="#000" stroke-width="3"/><text x="661.3" y="651.5" text-anchor="middle" class="t">AG (n=23)</text><line x1="919.6" y1="609" x2="919.6" y2="618.5" stroke="#000" stroke-width="3"/><text x="919.6" y="651.5" text-anchor="middle" class="t">GG (n=1)</text><text x="660.4" y="695.5" text-anchor="middle" class="t">rs58539483 (AC090833.1)</text><text transform="translate(78 314.6) rotate(-90)" text-anchor="middle" class="t">3-phenylpropionate</text><text transform="translate(115 314.6) rotate(-90)" text-anchor="middle" class="t">(hydrocinnamate)</text><g stroke="#000" stroke-opacity="0.86" stroke-width="3.8" stroke-linecap="round"><line x1="1448.9" y1="223.5" x2="1603.9" y2="223.5"/><line x1="1448.9" y1="494" x2="1603.9" y2="494"/><line x1="1448.9" y1="223.5" x2="1448.9" y2="494"/><line x1="1603.9" y1="223.5" x2="1603.9" y2="494"/></g><line x1="1448.9" y1="358" x2="1603.9" y2="358" stroke="#000" stroke-width="7"/><g stroke="#000" stroke-opacity="0.86" stroke-width="3.8" stroke-linecap="round"><line x1="1707.7" y1="60" x2="1862.7" y2="60"/><line x1="1707.7" y1="439" x2="1862.7" y2="439"/><line x1="1707.7" y1="60" x2="1707.7" y2="439"/><line x1="1862.7" y1="60" x2="1862.7" y2="439"/></g><line x1="1707.7" y1="251" x2="1862.7" y2="251" stroke="#000" stroke-width="7"/><path d="M1521.4 160a5.4 5.4 0 1 0 10.8 0a5.4 5.4 0 1 0 -10.8 0M1521.4 165a5.4 5.4 0 1 0 10.8 0a5.4 5.4 0 1 0 -10.8 0M1526.4 165a5.4 5.4 0 1 0 10.8 0a5.4 5.4 0 1 0 -10.8 0M1516.4 165a5.4 5.4 0 1 0 10.8 0a5.4 5.4 0 1 0 -10.8 0M1521.4 170a5.4 5.4 0 1 0 10.8 0a5.4 5.4 0 1 0 -10.8 0M1516.4 170a5.4 5.4 0 1 0 10.8 0a5.4 5.4 0 1 0 -10.8 0M1521.4 175a5.4 5.4 0 1 0 10.8 0a5.4 5.4 0 1 0 -10.8 0M1516.4 175a5.4 5.4 0 1 0 10.8 0a5.4 5.4 0 1 0 -10.8 0M1521.4 180a5.4 5.4 0 1 0 10.8 0a5.4 5.4 0 1 0 -10.8 0M1516.4 180a5.4 5.4 0 1 0 10.8 0a5.4 5.4 0 1 0 -10.8 0M1516.4 185a5.4 5.4 0 1 0 10.8 0a5.4 5.4 0 1 0 -10.8 0M1526.4 185a5.4 5.4 0 1 0 10.8 0a5.4 5.4 0 1 0 -10.8 0M1521.4 185a5.4 5.4 0 1 0 10.8 0a5.4 5.4 0 1 0 -10.8 0M1511.4 190a5.4 5.4 0 1 0 10.8 0a5.4 5.4 0 1 0 -10.8 0M1521.4 190a5.4 5.4 0 1 0 10.8 0a5.4 5.4 0 1 0 -10.8 0M1526.4 190a5.4 5.4 0 1 0 10.8 0a5.4 5.4 0 1 0 -10.8 0M1516.4 190a5.4 5.4 0 1 0 10.8 0a5.4 5.4 0 1 0 -10.8 0M1526.4 195a5.4 5.4 0 1 0 10.8 0a5.4 5.4 0 1 0 -10.8 0M1516.4 195a5.4 5.4 0 1 0 10.8 0a5.4 5.4 0 1 0 -10.8 0M1521.4 195a5.4 5.4 0 1 0 10.8 0a5.4 5.4 0 1 0 -10.8 0M1511.4 200a5.4 5.4 0 1 0 10.8 0a5.4 5.4 0 1 0 -10.8 0M1516.4 200a5.4 5.4 0 1 0 10.8 0a5.4 5.4 0 1 0 -10.8 0M1526.4 200a5.4 5.4 0 1 0 10.8 0a5.4 5.4 0 1 0 -10.8 0M1521.4 200a5.4 5.4 0 1 0 10.8 0a5.4 5.4 0 1 0 -10.8 0M1521.4 205a5.4 5.4 0 1 0 10.8 0a5.4 5.4 0 1 0 -10.8 0M1511.4 205a5.4 5.4 0 1 0 10.8 0a5.4 5.4 0 1 0 -10.8 0M1526.4 205a5.4 5.4 0 1 0 10.8 0a5.4 5.4 0 1 0 -10.8 0M1531.4 205a5.4 5.4 0 1 0 10.8 0a5.4 5.4 0 1 0 -10.8 0M1516.4 205a5.4 5.4 0 1 0 10.8 0a5.4 5.4 0 1 0 -10.8 0M1516.4 210a5.4 5.4 0 1 0 10.8 0a5.4 5.4 0 1 0 -10.8 0M1521.4 210a5.4 5.4 0 1 0 10.8 0a5.4 5.4 0 1 0 -10.8 0M1516.4 215a5.4 5.4 0 1 0 10.8 0a5.4 5.4 0 1 0 -10.8 0M1521.4 215a5.4 5.4 0 1 0 10.8 0a5.4 5.4 0 1 0 -10.8 0M1521.4 225a5.4 5.4 0 1 0 10.8 0a5.4 5.4 0 1 0 -10.8 0M1526.4 225a5.4 5.4 0 1 0 10.8 0a5.4 5.4 0 1 0 -10.8 0M1516.4 225a5.4 5.4 0 1 0 10.8 0a5.4 5.4 0 1 0 -10.8 0M1511.4 225a5.4 5.4 0 1 0 10.8 0a5.4 5.4 0 1 0 -10.8 0M1516.4 230a5.4 5.4 0 1 0 10.8 0a5.4 5.4 0 1 0 -10.8 0M1521.4 230a5.4 5.4 0 1 0 10.8 0a5.4 5.4 0 1 0 -10.8 0M1526.4 230a5.4 5.4 0 1 0 10.8 0a5.4 5.4 0 1 0 -10.8 0M1526.4 235a5.4 5.4 0 1 0 10.8 0a5.4 5.4 0 1 0 -10.8 0M1521.4 235a5.4 5.4 0 1 0 10.8 0a5.4 5.4 0 1 0 -10.8 0M1516.4 235a5.4 5.4 0 1 0 10.8 0a5.4 5.4 0 1 0 -10.8 0M1526.4 240a5.4 5.4 0 1 0 10.8 0a5.4 5.4 0 1 0 -10.8 0M1521.4 240a5.4 5.4 0 1 0 10.8 0a5.4 5.4 0 1 0 -10.8 0M1516.4 240a5.4 5.4 0 1 0 10.8 0a5.4 5.4 0 1 0 -10.8 0M1511.4 245a5.4 5.4 0 1 0 10.8 0a5.4 5.4 0 1 0 -10.8 0M1526.4 245a5.4 5.4 0 1 0 10.8 0a5.4 5.4 0 1 0 -10.8 0M1521.4 245a5.4 5.4 0 1 0 10.8 0a5.4 5.4 0 1 0 -10.8 0M1516.4 245a5.4 5.4 0 1 0 10.8 0a5.4 5.4 0 1 0 -10.8 0M1506.4 250a5.4 5.4 0 1 0 10.8 0a5.4 5.4 0 1 0 -10.8 0M1511.4 250a5.4 5.4 0 1 0 10.8 0a5.4 5.4 0 1 0 -10.8 0M1536.4 250a5.4 5.4 0 1 0 10.8 0a5.4 5.4 0 1 0 -10.8 0M1526.4 250a5.4 5.4 0 1 0 10.8 0a5.4 5.4 0 1 0 -10.8 0M1531.4 250a5.4 5.4 0 1 0 10.8 0a5.4 5.4 0 1 0 -10.8 0M1501.4 250a5.4 5.4 0 1 0 10.8 0a5.4 5.4 0 1 0 -10.8 0M1521.4 250a5.4 5.4 0 1 0 10.8 0a5.4 5.4 0 1 0 -10.8 0M1516.4 250a5.4 5.4 0 1 0 10.8 0a5.4 5.4 0 1 0 -10.8 0M1511.4 255a5.4 5.4 0 1 0 10.8 0a5.4 5.4 0 1 0 -10.8 0M1516.4 255a5.4 5.4 0 1 0 10.8 0a5.4 5.4 0 1 0 -10.8 0M1521.4 255a5.4 5.4 0 1 0 10.8 0a5.4 5.4 0 1 0 -10.8 0M1506.4 255a5.4 5.4 0 1 0 10.8 0a5.4 5.4 0 1 0 -10.8 0M1531.4 255a5.4 5.4 0 1 0 10.8 0a5.4 5.4 0 1 0 -10.8 0M1526.4 255a5.4 5.4 0 1 0 10.8 0a5.4 5.4 0 1 0 -10.8 0M1536.4 255a5.4 5.4 0 1 0 10.8 0a5.4 5.4 0 1 0 -10.8 0M1501.4 255a5.4 5.4 0 1 0 10.8 0a5.4 5.4 0 1 0 -10.8 0M1531.4 260a5.4 5.4 0 1 0 10.8 0a5.4 5.4 0 1 0 -10.8 0M1536.4 260a5.4 5.4 0 1 0 10.8 0a5.4 5.4 0 1 0 -10.8 0M1506.4 260a5.4 5.4 0 1 0 10.8 0a5.4 5.4 0 1 0 -10.8 0M1511.4 260a5.4 5.4 0 1 0 10.8 0a5.4 5.4 0 1 0 -10.8 0M1526.4 260a5.4 5.4 0 1 0 10.8 0a5.4 5.4 0 1 0 -10.8 0M1521.4 260a5.4 5.4 0 1 0 10.8 0a5.4 5.4 0 1 0 -10.8 0M1516.4 260a5.4 5.4 0 1 0 10.8 0a5.4 5.4 0 1 0 -10.8 0M1506.4 265a5.4 5.4 0 1 0 10.8 0a5.4 5.4 0 1 0 -10.8 0M1516.4 265a5.4 5.4 0 1 0 10.8 0a5.4 5.4 0 1 0 -10.8 0M1526.4 265a5.4 5.4 0 1 0 10.8 0a5.4 5.4 0 1 0 -10.8 0M1511.4 265a5.4 5.4 0 1 0 10.8 0a5.4 5.4 0 1 0 -10.8 0M1521.4 265a5.4 5.4 0 1 0 10.8 0a5.4 5.4 0 1 0 -10.8 0M1536.4 265a5.4 5.4 0 1 0 10.8 0a5.4 5.4 0 1 0 -10.8 0M1531.4 265a5.4 5.4 0 1 0 10.8 0a5.4 5.4 0 1 0 -10.8 0M1506.4 270a5.4 5.4 0 1 0 10.8 0a5.4 5.4 0 1 0 -10.8 0M1501.4 270a5.4 5.4 0 1 0 10.8 0a5.4 5.4 0 1 0 -10.8 0M1531.4 270a5.4 5.4 0 1 0 10.8 0a5.4 5.4 0 1 0 -10.8 0M1511.4 270a5.4 5.4 0 1 0 10.8 0a5.4 5.4 0 1 0 -10.8 0M1521.4 270a5.4 5.4 0 1 0 10.8 0a5.4 5.4 0 1 0 -10.8 0M1516.4 270a5.4 5.4 0 1 0 10.8 0a5.4 5.4 0 1 0 -10.8 0M1526.4 270a5.4 5.4 0 1 0 10.8 0a5.4 5.4 0 1 0 -10.8 0M1536.4 270a5.4 5.4 0 1 0 10.8 0a5.4 5.4 0 1 0 -10.8 0M1516.4 275a5.4 5.4 0 1 0 10.8 0a5.4 5.4 0 1 0 -10.8 0M1521.4 275a5.4 5.4 0 1 0 10.8 0a5.4 5.4 0 1 0 -10.8 0M1501.4 275a5.4 5.4 0 1 0 10.8 0a5.4 5.4 0 1 0 -10.8 0M1536.4 275a5.4 5.4 0 1 0 10.8 0a5.4 5.4 0 1 0 -10.8 0M1506.4 275a5.4 5.4 0 1 0 10.8 0a5.4 5.4 0 1 0 -10.8 0M1526.4 275a5.4 5.4 0 1 0 10.8 0a5.4 5.4 0 1 0 -10.8 0M1511.4 275a5.4 5.4 0 1 0 10.8 0a5.4 5.4 0 1 0 -10.8 0M1531.4 275a5.4 5.4 0 1 0 10.8 0a5.4 5.4 0 1 0 -10.8 0M1516.4 280a5.4 5.4 0 1 0 10.8 0a5.4 5.4 0 1 0 -10.8 0M1506.4 280a5.4 5.4 0 1 0 10.8 0a5.4 5.4 0 1 0 -10.8 0M1526.4 280a5.4 5.4 0 1 0 10.8 0a5.4 5.4 0 1 0 -10.8 0M1496.4 280a5.4 5.4 0 1 0 10.8 0a5.4 5.4 0 1 0 -10.8 0M1511.4 280a5.4 5.4 0 1 0 10.8 0a5.4 5.4 0 1 0 -10.8 0M1536.4 280a5.4 5.4 0 1 0 10.8 0a5.4 5.4 0 1 0 -10.8 0M1531.4 280a5.4 5.4 0 1 0 10.8 0a5.4 5.4 0 1 0 -10.8 0M1521.4 280a5.4 5.4 0 1 0 10.8 0a5.4 5.4 0 1 0 -10.8 0M1501.4 280a5.4 5.4 0 1 0 10.8 0a5.4 5.4 0 1 0 -10.8 0M1541.4 280a5.4 5.4 0 1 0 10.8 0a5.4 5.4 0 1 0 -10.8 0M1501.4 285a5.4 5.4 0 1 0 10.8 0a5.4 5.4 0 1 0 -10.8 0M1506.4 285a5.4 5.4 0 1 0 10.8 0a5.4 5.4 0 1 0 -10.8 0M1526.4 285a5.4 5.4 0 1 0 10.8 0a5.4 5.4 0 1 0 -10.8 0M1521.4 285a5.4 5.4 0 1 0 10.8 0a5.4 5.4 0 1 0 -10.8 0M1536.4 285a5.4 5.4 0 1 0 10.8 0a5.4 5.4 0 1 0 -10.8 0M1511.4 285a5.4 5.4 0 1 0 10.8 0a5.4 5.4 0 1 0 -10.8 0M1516.4 285a5.4 5.4 0 1 0 10.8 0a5.4 5.4 0 1 0 -10.8 0M1531.4 285a5.4 5.4 0 1 0 10.8 0a5.4 5.4 0 1 0 -10.8 0M1506.4 290a5.4 5.4 0 1 0 10.8 0a5.4 5.4 0 1 0 -10.8 0M1526.4 290a5.4 5.4 0 1 0 10.8 0a5.4 5.4 0 1 0 -10.8 0M1501.4 290a5.4 5.4 0 1 0 10.8 0a5.4 5.4 0 1 0 -10.8 0M1521.4 290a5.4 5.4 0 1 0 10.8 0a5.4 5.4 0 1 0 -10.8 0M1516.4 290a5.4 5.4 0 1 0 10.8 0a5.4 5.4 0 1 0 -10.8 0M1511.4 290a5.4 5.4 0 1 0 10.8 0a5.4 5.4 0 1 0 -10.8 0M1531.4 290a5.4 5.4 0 1 0 10.8 0a5.4 5.4 0 1 0 -10.8 0M1541.4 290a5.4 5.4 0 1 0 10.8 0a5.4 5.4 0 1 0 -10.8 0M1536.4 290a5.4 5.4 0 1 0 10.8 0a5.4 5.4 0 1 0 -10.8 0M1536.4 295a5.4 5.4 0 1 0 10.8 0a5.4 5.4 0 1 0 -10.8 0M1511.4 295a5.4 5.4 0 1 0 10.8 0a5.4 5.4 0 1 0 -10.8 0M1506.4 295a5.4 5.4 0 1 0 10.8 0a5.4 5.4 0 1 0 -10.8 0M1526.4 295a5.4 5.4 0 1 0 10.8 0a5.4 5.4 0 1 0 -10.8 0M1501.4 295a5.4 5.4 0 1 0 10.8 0a5.4 5.4 0 1 0 -10.8 0M1516.4 295a5.4 5.4 0 1 0 10.8 0a5.4 5.4 0 1 0 -10.8 0M1531.4 295a5.4 5.4 0 1 0 10.8 0a5.4 5.4 0 1 0 -10.8 0M1521.4 295a5.4 5.4 0 1 0 10.8 0a5.4 5.4 0 1 0 -10.8 0M1516.4 300a5.4 5.4 0 1 0 10.8 0a5.4 5.4 0 1 0 -10.8 0M1506.4 300a5.4 5.4 0 1 0 10.8 0a5.4 5.4 0 1 0 -10.8 0M1491.4 300a5.4 5.4 0 1 0 10.8 0a5.4 5.4 0 1 0 -10.8 0M1536.4 300a5.4 5.4 0 1 0 10.8 0a5.4 5.4 0 1 0 -10.8 0M1526.4 300a5.4 5.4 0 1 0 10.8 0a5.4 5.4 0 1 0 -10.8 0M1501.4 300a5.4 5.4 0 1 0 10.8 0a5.4 5.4 0 1 0 -10.8 0M1546.4 300a5.4 5.4 0 1 0 10.8 0a5.4 5.4 0 1 0 -10.8 0M1511.4 300a5.4 5.4 0 1 0 10.8 0a5.4 5.4 0 1 0 -10.8 0M1496.4 300a5.4 5.4 0 1 0 10.8 0a5.4 5.4 0 1 0 -10.8 0M1531.4 300a5.4 5.4 0 1 0 10.8 0a5.4 5.4 0 1 0 -10.8 0M1541.4 300a5.4 5.4 0 1 0 10.8 0a5.4 5.4 0 1 0 -10.8 0M1521.4 300a5.4 5.4 0 1 0 10.8 0a5.4 5.4 0 1 0 -10.8 0M1521.4 305a5.4 5.4 0 1 0 10.8 0a5.4 5.4 0 1 0 -10.8 0M1526.4 305a5.4 5.4 0 1 0 10.8 0a5.4 5.4 0 1 0 -10.8 0M1501.4 305a5.4 5.4 0 1 0 10.8 0a5.4 5.4 0 1 0 -10.8 0M1496.4 305a5.4 5.4 0 1 0 10.8 0a5.4 5.4 0 1 0 -10.8 0M1546.4 305a5.4 5.4 0 1 0 10.8 0a5.4 5.4 0 1 0 -10.8 0M1531.4 305a5.4 5.4 0 1 0 10.8 0a5.4 5.4 0 1 0 -10.8 0M1536.4 305a5.4 5.4 0 1 0 10.8 0a5.4 5.4 0 1 0 -10.8 0M1516.4 305a5.4 5.4 0 1 0 10.8 0a5.4 5.4 0 1 0 -10.8 0M1511.4 305a5.4 5.4 0 1 0 10.8 0a5.4 5.4 0 1 0 -10.8 0M1506.4 305a5.4 5.4 0 1 0 10.8 0a5.4 5.4 0 1 0 -10.8 0M1541.4 305a5.4 5.4 0 1 0 10.8 0a5.4 5.4 0 1 0 -10.8 0M1491.4 305a5.4 5.4 0 1 0 10.8 0a5.4 5.4 0 1 0 -10.8 0M1491.4 310a5.4 5.4 0 1 0 10.8 0a5.4 5.4 0 1 0 -10.8 0M1516.4 310a5.4 5.4 0 1 0 10.8 0a5.4 5.4 0 1 0 -10.8 0M1531.4 310a5.4 5.4 0 1 0 10.8 0a5.4 5.4 0 1 0 -10.8 0M1506.4 310a5.4 5.4 0 1 0 10.8 0a5.4 5.4 0 1 0 -10.8 0M1496.4 310a5.4 5.4 0 1 0 10.8 0a5.4 5.4 0 1 0 -10.8 0M1526.4 310a5.4 5.4 0 1 0 10.8 0a5.4 5.4 0 1 0 -10.8 0M1501.4 310a5.4 5.4 0 1 0 10.8 0a5.4 5.4 0 1 0 -10.8 0M1521.4 310a5.4 5.4 0 1 0 10.8 0a5.4 5.4 0 1 0 -10.8 0M1546.4 310a5.4 5.4 0 1 0 10.8 0a5.4 5.4 0 1 0 -10.8 0M1511.4 310a5.4 5.4 0 1 0 10.8 0a5.4 5.4 0 1 0 -10.8 0M1541.4 310a5.4 5.4 0 1 0 10.8 0a5.4 5.4 0 1 0 -10.8 0M1536.4 310a5.4 5.4 0 1 0 10.8 0a5.4 5.4 0 1 0 -10.8 0M1546.4 315a5.4 5.4 0 1 0 10.8 0a5.4 5.4 0 1 0 -10.8 0M1501.4 315a5.4 5.4 0 1 0 10.8 0a5.4 5.4 0 1 0 -10.8 0M1511.4 315a5.4 5.4 0 1 0 10.8 0a5.4 5.4 0 1 0 -10.8 0M1526.4 315a5.4 5.4 0 1 0 10.8 0a5.4 5.4 0 1 0 -10.8 0M1506.4 315a5.4 5.4 0 1 0 10.8 0a5.4 5.4 0 1 0 -10.8 0M1531.4 315a5.4 5.4 0 1 0 10.8 0a5.4 5.4 0 1 0 -10.8 0M1496.4 315a5.4 5.4 0 1 0 10.8 0a5.4 5.4 0 1 0 -10.8 0M1541.4 315a5.4 5.4 0 1 0 10.8 0a5.4 5.4 0 1 0 -10.8 0M1516.4 315a5.4 5.4 0 1 0 10.8 0a5.4 5.4 0 1 0 -10.8 0M1536.4 315a5.4 5.4 0 1 0 10.8 0a5.4 5.4 0 1 0 -10.8 0M1521.4 315a5.4 5.4 0 1 0 10.8 0a5.4 5.4 0 1 0 -10.8 0M1531.4 320a5.4 5.4 0 1 0 10.8 0a5.4 5.4 0 1 0 -10.8 0M1496.4 320a5.4 5.4 0 1 0 10.8 0a5.4 5.4 0 1 0 -10.8 0M1546.4 320a5.4 5.4 0 1 0 10.8 0a5.4 5.4 0 1 0 -10.8 0M1556.4 320a5.4 5.4 0 1 0 10.8 0a5.4 5.4 0 1 0 -10.8 0M1526.4 320a5.4 5.4 0 1 0 10.8 0a5.4 5.4 0 1 0 -10.8 0M1511.4 320a5.4 5.4 0 1 0 10.8 0a5.4 5.4 0 1 0 -10.8 0M1541.4 320a5.4 5.4 0 1 0 10.8 0a5.4 5.4 0 1 0 -10.8 0M1516.4 320a5.4 5.4 0 1 0 10.8 0a5.4 5.4 0 1 0 -10.8 0M1521.4 320a5.4 5.4 0 1 0 10.8 0a5.4 5.4 0 1 0 -10.8 0M1491.4 320a5.4 5.4 0 1 0 10.8 0a5.4 5.4 0 1 0 -10.8 0M1506.4 320a5.4 5.4 0 1 0 10.8 0a5.4 5.4 0 1 0 -10.8 0M1486.4 320a5.4 5.4 0 1 0 10.8 0a5.4 5.4 0 1 0 -10.8 0M1501.4 320a5.4 5.4 0 1 0 10.8 0a5.4 5.4 0 1 0 -10.8 0M1551.4 320a5.4 5.4 0 1 0 10.8 0a5.4 5.4 0 1 0 -10.8 0M1536.4 320a5.4 5.4 0 1 0 10.8 0a5.4 5.4 0 1 0 -10.8 0M1526.4 325a5.4 5.4 0 1 0 10.8 0a5.4 5.4 0 1 0 -10.8 0M1551.4 325a5.4 5.4 0 1 0 10.8 0a5.4 5.4 0 1 0 -10.8 0M1476.4 325a5.4 5.4 0 1 0 10.8 0a5.4 5.4 0 1 0 -10.8 0M1471.4 325a5.4 5.4 0 1 0 10.8 0a5.4 5.4 0 1 0 -10.8 0M1556.4 325a5.4 5.4 0 1 0 10.8 0a5.4 5.4 0 1 0 -10.8 0M1501.4 325a5.4 5.4 0 1 0 10.8 0a5.4 5.4 0 1 0 -10.8 0M1486.4 325a5.4 5.4 0 1 0 10.8 0a5.4 5.4 0 1 0 -10.8 0M1536.4 325a5.4 5.4 0 1 0 10.8 0a5.4 5.4 0 1 0 -10.8 0M1491.4 325a5.4 5.4 0 1 0 10.8 0a5.4 5.4 0 1 0 -10.8 0M1566.4 325a5.4 5.4 0 1 0 10.8 0a5.4 5.4 0 1 0 -10.8 0M1546.4 325a5.4 5.4 0 1 0 10.8 0a5.4 5.4 0 1 0 -10.8 0M1561.4 325a5.4 5.4 0 1 0 10.8 0a5.4 5.4 0 1 0 -10.8 0M1541.4 325a5.4 5.4 0 1 0 10.8 0a5.4 5.4 0 1 0 -10.8 0M1511.4 325a5.4 5.4 0 1 0 10.8 0a5.4 5.4 0 1 0 -10.8 0M1516.4 325a5.4 5.4 0 1 0 10.8 0a5.4 5.4 0 1 0 -10.8 0M1531.4 325a5.4 5.4 0 1 0 10.8 0a5.4 5.4 0 1 0 -10.8 0M1506.4 325a5.4 5.4 0 1 0 10.8 0a5.4 5.4 0 1 0 -10.8 0M1521.4 325a5.4 5.4 0 1 0 10.8 0a5.4 5.4 0 1 0 -10.8 0M1481.4 325a5.4 5.4 0 1 0 10.8 0a5.4 5.4 0 1 0 -10.8 0M1496.4 325a5.4 5.4 0 1 0 10.8 0a5.4 5.4 0 1 0 -10.8 0M1521.4 330a5.4 5.4 0 1 0 10.8 0a5.4 5.4 0 1 0 -10.8 0M1541.4 330a5.4 5.4 0 1 0 10.8 0a5.4 5.4 0 1 0 -10.8 0M1496.4 330a5.4 5.4 0 1 0 10.8 0a5.4 5.4 0 1 0 -10.8 0M1481.4 330a5.4 5.4 0 1 0 10.8 0a5.4 5.4 0 1 0 -10.8 0M1501.4 330a5.4 5.4 0 1 0 10.8 0a5.4 5.4 0 1 0 -10.8 0M1536.4 330a5.4 5.4 0 1 0 10.8 0a5.4 5.4 0 1 0 -10.8 0M1546.4 330a5.4 5.4 0 1 0 10.8 0a5.4 5.4 0 1 0 -10.8 0M1491.4 330a5.4 5.4 0 1 0 10.8 0a5.4 5.4 0 1 0 -10.8 0M1511.4 330a5.4 5.4 0 1 0 10.8 0a5.4 5.4 0 1 0 -10.8 0M1561.4 330a5.4 5.4 0 1 0 10.8 0a5.4 5.4 0 1 0 -10.8 0M1551.4 330a5.4 5.4 0 1 0 10.8 0a5.4 5.4 0 1 0 -10.8 0M1526.4 330a5.4 5.4 0 1 0 10.8 0a5.4 5.4 0 1 0 -10.8 0M1531.4 330a5.4 5.4 0 1 0 10.8 0a5.4 5.4 0 1 0 -10.8 0M1506.4 330a5.4 5.4 0 1 0 10.8 0a5.4 5.4 0 1 0 -10.8 0M1556.4 330a5.4 5.4 0 1 0 10.8 0a5.4 5.4 0 1 0 -10.8 0M1516.4 330a5.4 5.4 0 1 0 10.8 0a5.4 5.4 0 1 0 -10.8 0M1486.4 330a5.4 5.4 0 1 0 10.8 0a5.4 5.4 0 1 0 -10.8 0M1486.4 335a5.4 5.4 0 1 0 10.8 0a5.4 5.4 0 1 0 -10.8 0M1531.4 335a5.4 5.4 0 1 0 10.8 0a5.4 5.4 0 1 0 -10.8 0M1501.4 335a5.4 5.4 0 1 0 10.8 0a5.4 5.4 0 1 0 -10.8 0M1551.4 335a5.4 5.4 0 1 0 10.8 0a5.4 5.4 0 1 0 -10.8 0M1526.4 335a5.4 5.4 0 1 0 10.8 0a5.4 5.4 0 1 0 -10.8 0M1541.4 335a5.4 5.4 0 1 0 10.8 0a5.4 5.4 0 1 0 -10.8 0M1506.4 335a5.4 5.4 0 1 0 10.8 0a5.4 5.4 0 1 0 -10.8 0M1561.4 335a5.4 5.4 0 1 0 10.8 0a5.4 5.4 0 1 0 -10.8 0M1521.4 335a5.4 5.4 0 1 0 10.8 0a5.4 5.4 0 1 0 -10.8 0M1476.4 335a5.4 5.4 0 1 0 10.8 0a5.4 5.4 0 1 0 -10.8 0M1511.4 335a5.4 5.4 0 1 0 10.8 0a5.4 5.4 0 1 0 -10.8 0M1481.4 335a5.4 5.4 0 1 0 10.8 0a5.4 5.4 0 1 0 -10.8 0M1546.4 335a5.4 5.4 0 1 0 10.8 0a5.4 5.4 0 1 0 -10.8 0M1566.4 335a5.4 5.4 0 1 0 10.8 0a5.4 5.4 0 1 0 -10.8 0M1556.4 335a5.4 5.4 0 1 0 10.8 0a5.4 5.4 0 1 0 -10.8 0M1516.4 335a5.4 5.4 0 1 0 10.8 0a5.4 5.4 0 1 0 -10.8 0M1491.4 335a5.4 5.4 0 1 0 10.8 0a5.4 5.4 0 1 0 -10.8 0M1496.4 335a5.4 5.4 0 1 0 10.8 0a5.4 5.4 0 1 0 -10.8 0M1536.4 335a5.4 5.4 0 1 0 10.8 0a5.4 5.4 0 1 0 -10.8 0M1486.4 340a5.4 5.4 0 1 0 10.8 0a5.4 5.4 0 1 0 -10.8 0M1546.4 340a5.4 5.4 0 1 0 10.8 0a5.4 5.4 0 1 0 -10.8 0M1501.4 340a5.4 5.4 0 1 0 10.8 0a5.4 5.4 0 1 0 -10.8 0M1511.4 340a5.4 5.4 0 1 0 10.8 0a5.4 5.4 0 1 0 -10.8 0M1526.4 340a5.4 5.4 0 1 0 10.8 0a5.4 5.4 0 1 0 -10.8 0M1496.4 340a5.4 5.4 0 1 0 10.8 0a5.4 5.4 0 1 0 -10.8 0M1516.4 340a5.4 5.4 0 1 0 10.8 0a5.4 5.4 0 1 0 -10.8 0M1541.4 340a5.4 5.4 0 1 0 10.8 0a5.4 5.4 0 1 0 -10.8 0M1561.4 340a5.4 5.4 0 1 0 10.8 0a5.4 5.4 0 1 0 -10.8 0M1531.4 340a5.4 5.4 0 1 0 10.8 0a5.4 5.4 0 1 0 -10.8 0M1521.4 340a5.4 5.4 0 1 0 10.8 0a5.4 5.4 0 1 0 -10.8 0M1506.4 340a5.4 5.4 0 1 0 10.8 0a5.4 5.4 0 1 0 -10.8 0M1481.4 340a5.4 5.4 0 1 0 10.8 0a5.4 5.4 0 1 0 -10.8 0M1556.4 340a5.4 5.4 0 1 0 10.8 0a5.4 5.4 0 1 0 -10.8 0M1491.4 340a5.4 5.4 0 1 0 10.8 0a5.4 5.4 0 1 0 -10.8 0M1476.4 340a5.4 5.4 0 1 0 10.8 0a5.4 5.4 0 1 0 -10.8 0M1566.4 340a5.4 5.4 0 1 0 10.8 0a5.4 5.4 0 1 0 -10.8 0M1551.4 340a5.4 5.4 0 1 0 10.8 0a5.4 5.4 0 1 0 -10.8 0M1536.4 340a5.4 5.4 0 1 0 10.8 0a5.4 5.4 0 1 0 -10.8 0M1491.4 345a5.4 5.4 0 1 0 10.8 0a5.4 5.4 0 1 0 -10.8 0M1481.4 345a5.4 5.4 0 1 0 10.8 0a5.4 5.4 0 1 0 -10.8 0M1486.4 345a5.4 5.4 0 1 0 10.8 0a5.4 5.4 0 1 0 -10.8 0M1501.4 345a5.4 5.4 0 1 0 10.8 0a5.4 5.4 0 1 0 -10.8 0M1536.4 345a5.4 5.4 0 1 0 10.8 0a5.4 5.4 0 1 0 -10.8 0M1476.4 345a5.4 5.4 0 1 0 10.8 0a5.4 5.4 0 1 0 -10.8 0M1546.4 345a5.4 5.4 0 1 0 10.8 0a5.4 5.4 0 1 0 -10.8 0M1471.4 345a5.4 5.4 0 1 0 10.8 0a5.4 5.4 0 1 0 -10.8 0M1496.4 345a5.4 5.4 0 1 0 10.8 0a5.4 5.4 0 1 0 -10.8 0M1556.4 345a5.4 5.4 0 1 0 10.8 0a5.4 5.4 0 1 0 -10.8 0M1551.4 345a5.4 5.4 0 1 0 10.8 0a5.4 5.4 0 1 0 -10.8 0M1516.4 345a5.4 5.4 0 1 0 10.8 0a5.4 5.4 0 1 0 -10.8 0M1521.4 345a5.4 5.4 0 1 0 10.8 0a5.4 5.4 0 1 0 -10.8 0M1531.4 345a5.4 5.4 0 1 0 10.8 0a5.4 5.4 0 1 0 -10.8 0M1526.4 345a5.4 5.4 0 1 0 10.8 0a5.4 5.4 0 1 0 -10.8 0M1506.4 345a5.4 5.4 0 1 0 10.8 0a5.4 5.4 0 1 0 -10.8 0M1541.4 345a5.4 5.4 0 1 0 10.8 0a5.4 5.4 0 1 0 -10.8 0M1561.4 345a5.4 5.4 0 1 0 10.8 0a5.4 5.4 0 1 0 -10.8 0M1566.4 345a5.4 5.4 0 1 0 10.8 0a5.4 5.4 0 1 0 -10.8 0M1511.4 345a5.4 5.4 0 1 0 10.8 0a5.4 5.4 0 1 0 -10.8 0M1541.4 350a5.4 5.4 0 1 0 10.8 0a5.4 5.4 0 1 0 -10.8 0M1526.4 350a5.4 5.4 0 1 0 10.8 0a5.4 5.4 0 1 0 -10.8 0M1546.4 350a5.4 5.4 0 1 0 10.8 0a5.4 5.4 0 1 0 -10.8 0M1471.4 350a5.4 5.4 0 1 0 10.8 0a5.4 5.4 0 1 0 -10.8 0M1491.4 350a5.4 5.4 0 1 0 10.8 0a5.4 5.4 0 1 0 -10.8 0M1521.4 350a5.4 5.4 0 1 0 10.8 0a5.4 5.4 0 1 0 -10.8 0M1536.4 350a5.4 5.4 0 1 0 10.8 0a5.4 5.4 0 1 0 -10.8 0M1551.4 350a5.4 5.4 0 1 0 10.8 0a5.4 5.4 0 1 0 -10.8 0M1501.4 350a5.4 5.4 0 1 0 10.8 0a5.4 5.4 0 1 0 -10.8 0M1556.4 350a5.4 5.4 0 1 0 10.8 0a5.4 5.4 0 1 0 -10.8 0M1476.4 350a5.4 5.4 0 1 0 10.8 0a5.4 5.4 0 1 0 -10.8 0M1511.4 350a5.4 5.4 0 1 0 10.8 0a5.4 5.4 0 1 0 -10.8 0M1566.4 350a5.4 5.4 0 1 0 10.8 0a5.4 5.4 0 1 0 -10.8 0M1486.4 350a5.4 5.4 0 1 0 10.8 0a5.4 5.4 0 1 0 -10.8 0M1496.4 350a5.4 5.4 0 1 0 10.8 0a5.4 5.4 0 1 0 -10.8 0M1531.4 350a5.4 5.4 0 1 0 10.8 0a5.4 5.4 0 1 0 -10.8 0M1506.4 350a5.4 5.4 0 1 0 10.8 0a5.4 5.4 0 1 0 -10.8 0M1561.4 350a5.4 5.4 0 1 0 10.8 0a5.4 5.4 0 1 0 -10.8 0M1516.4 350a5.4 5.4 0 1 0 10.8 0a5.4 5.4 0 1 0 -10.8 0M1481.4 350a5.4 5.4 0 1 0 10.8 0a5.4 5.4 0 1 0 -10.8 0M1571.4 350a5.4 5.4 0 1 0 10.8 0a5.4 5.4 0 1 0 -10.8 0M1501.4 355a5.4 5.4 0 1 0 10.8 0a5.4 5.4 0 1 0 -10.8 0M1486.4 355a5.4 5.4 0 1 0 10.8 0a5.4 5.4 0 1 0 -10.8 0M1531.4 355a5.4 5.4 0 1 0 10.8 0a5.4 5.4 0 1 0 -10.8 0M1506.4 355a5.4 5.4 0 1 0 10.8 0a5.4 5.4 0 1 0 -10.8 0M1496.4 355a5.4 5.4 0 1 0 10.8 0a5.4 5.4 0 1 0 -10.8 0M1511.4 355a5.4 5.4 0 1 0 10.8 0a5.4 5.4 0 1 0 -10.8 0M1516.4 355a5.4 5.4 0 1 0 10.8 0a5.4 5.4 0 1 0 -10.8 0M1541.4 355a5.4 5.4 0 1 0 10.8 0a5.4 5.4 0 1 0 -10.8 0M1481.4 355a5.4 5.4 0 1 0 10.8 0a5.4 5.4 0 1 0 -10.8 0M1546.4 355a5.4 5.4 0 1 0 10.8 0a5.4 5.4 0 1 0 -10.8 0M1526.4 355a5.4 5.4 0 1 0 10.8 0a5.4 5.4 0 1 0 -10.8 0M1491.4 355a5.4 5.4 0 1 0 10.8 0a5.4 5.4 0 1 0 -10.8 0M1556.4 355a5.4 5.4 0 1 0 10.8 0a5.4 5.4 0 1 0 -10.8 0M1551.4 355a5.4 5.4 0 1 0 10.8 0a5.4 5.4 0 1 0 -10.8 0M1521.4 355a5.4 5.4 0 1 0 10.8 0a5.4 5.4 0 1 0 -10.8 0M1536.4 355a5.4 5.4 0 1 0 10.8 0a5.4 5.4 0 1 0 -10.8 0M1501.4 360a5.4 5.4 0 1 0 10.8 0a5.4 5.4 0 1 0 -10.8 0M1506.4 360a5.4 5.4 0 1 0 10.8 0a5.4 5.4 0 1 0 -10.8 0M1556.4 360a5.4 5.4 0 1 0 10.8 0a5.4 5.4 0 1 0 -10.8 0M1526.4 360a5.4 5.4 0 1 0 10.8 0a5.4 5.4 0 1 0 -10.8 0M1551.4 360a5.4 5.4 0 1 0 10.8 0a5.4 5.4 0 1 0 -10.8 0M1521.4 360a5.4 5.4 0 1 0 10.8 0a5.4 5.4 0 1 0 -10.8 0M1496.4 360a5.4 5.4 0 1 0 10.8 0a5.4 5.4 0 1 0 -10.8 0M1541.4 360a5.4 5.4 0 1 0 10.8 0a5.4 5.4 0 1 0 -10.8 0M1536.4 360a5.4 5.4 0 1 0 10.8 0a5.4 5.4 0 1 0 -10.8 0M1476.4 360a5.4 5.4 0 1 0 10.8 0a5.4 5.4 0 1 0 -10.8 0M1486.4 360a5.4 5.4 0 1 0 10.8 0a5.4 5.4 0 1 0 -10.8 0M1516.4 360a5.4 5.4 0 1 0 10.8 0a5.4 5.4 0 1 0 -10.8 0M1511.4 360a5.4 5.4 0 1 0 10.8 0a5.4 5.4 0 1 0 -10.8 0M1561.4 360a5.4 5.4 0 1 0 10.8 0a5.4 5.4 0 1 0 -10.8 0M1546.4 360a5.4 5.4 0 1 0 10.8 0a5.4 5.4 0 1 0 -10.8 0M1481.4 360a5.4 5.4 0 1 0 10.8 0a5.4 5.4 0 1 0 -10.8 0M1491.4 360a5.4 5.4 0 1 0 10.8 0a5.4 5.4 0 1 0 -10.8 0M1531.4 360a5.4 5.4 0 1 0 10.8 0a5.4 5.4 0 1 0 -10.8 0M1511.4 365a5.4 5.4 0 1 0 10.8 0a5.4 5.4 0 1 0 -10.8 0M1576.4 365a5.4 5.4 0 1 0 10.8 0a5.4 5.4 0 1 0 -10.8 0M1501.4 365a5.4 5.4 0 1 0 10.8 0a5.4 5.4 0 1 0 -10.8 0M1536.4 365a5.4 5.4 0 1 0 10.8 0a5.4 5.4 0 1 0 -10.8 0M1571.4 365a5.4 5.4 0 1 0 10.8 0a5.4 5.4 0 1 0 -10.8 0M1566.4 365a5.4 5.4 0 1 0 10.8 0a5.4 5.4 0 1 0 -10.8 0M1546.4 365a5.4 5.4 0 1 0 10.8 0a5.4 5.4 0 1 0 -10.8 0M1516.4 365a5.4 5.4 0 1 0 10.8 0a5.4 5.4 0 1 0 -10.8 0M1526.4 365a5.4 5.4 0 1 0 10.8 0a5.4 5.4 0 1 0 -10.8 0M1466.4 365a5.4 5.4 0 1 0 10.8 0a5.4 5.4 0 1 0 -10.8 0M1476.4 365a5.4 5.4 0 1 0 10.8 0a5.4 5.4 0 1 0 -10.8 0M1561.4 365a5.4 5.4 0 1 0 10.8 0a5.4 5.4 0 1 0 -10.8 0M1481.4 365a5.4 5.4 0 1 0 10.8 0a5.4 5.4 0 1 0 -10.8 0M1496.4 365a5.4 5.4 0 1 0 10.8 0a5.4 5.4 0 1 0 -10.8 0M1531.4 365a5.4 5.4 0 1 0 10.8 0a5.4 5.4 0 1 0 -10.8 0M1491.4 365a5.4 5.4 0 1 0 10.8 0a5.4 5.4 0 1 0 -10.8 0M1461.4 365a5.4 5.4 0 1 0 10.8 0a5.4 5.4 0 1 0 -10.8 0M1506.4 365a5.4 5.4 0 1 0 10.8 0a5.4 5.4 0 1 0 -10.8 0M1471.4 365a5.4 5.4 0 1 0 10.8 0a5.4 5.4 0 1 0 -10.8 0M1521.4 365a5.4 5.4 0 1 0 10.8 0a5.4 5.4 0 1 0 -10.8 0M1541.4 365a5.4 5.4 0 1 0 10.8 0a5.4 5.4 0 1 0 -10.8 0M1556.4 365a5.4 5.4 0 1 0 10.8 0a5.4 5.4 0 1 0 -10.8 0M1551.4 365a5.4 5.4 0 1 0 10.8 0a5.4 5.4 0 1 0 -10.8 0M1486.4 365a5.4 5.4 0 1 0 10.8 0a5.4 5.4 0 1 0 -10.8 0M1561.4 370a5.4 5.4 0 1 0 10.8 0a5.4 5.4 0 1 0 -10.8 0M1471.4 370a5.4 5.4 0 1 0 10.8 0a5.4 5.4 0 1 0 -10.8 0M1521.4 370a5.4 5.4 0 1 0 10.8 0a5.4 5.4 0 1 0 -10.8 0M1551.4 370a5.4 5.4 0 1 0 10.8 0a5.4 5.4 0 1 0 -10.8 0M1491.4 370a5.4 5.4 0 1 0 10.8 0a5.4 5.4 0 1 0 -10.8 0M1476.4 370a5.4 5.4 0 1 0 10.8 0a5.4 5.4 0 1 0 -10.8 0M1511.4 370a5.4 5.4 0 1 0 10.8 0a5.4 5.4 0 1 0 -10.8 0M1466.4 370a5.4 5.4 0 1 0 10.8 0a5.4 5.4 0 1 0 -10.8 0M1531.4 370a5.4 5.4 0 1 0 10.8 0a5.4 5.4 0 1 0 -10.8 0M1541.4 370a5.4 5.4 0 1 0 10.8 0a5.4 5.4 0 1 0 -10.8 0M1516.4 370a5.4 5.4 0 1 0 10.8 0a5.4 5.4 0 1 0 -10.8 0M1576.4 370a5.4 5.4 0 1 0 10.8 0a5.4 5.4 0 1 0 -10.8 0M1506.4 370a5.4 5.4 0 1 0 10.8 0a5.4 5.4 0 1 0 -10.8 0M1526.4 370a5.4 5.4 0 1 0 10.8 0a5.4 5.4 0 1 0 -10.8 0M1481.4 370a5.4 5.4 0 1 0 10.8 0a5.4 5.4 0 1 0 -10.8 0M1556.4 370a5.4 5.4 0 1 0 10.8 0a5.4 5.4 0 1 0 -10.8 0M1501.4 370a5.4 5.4 0 1 0 10.8 0a5.4 5.4 0 1 0 -10.8 0M1536.4 370a5.4 5.4 0 1 0 10.8 0a5.4 5.4 0 1 0 -10.8 0M1566.4 370a5.4 5.4 0 1 0 10.8 0a5.4 5.4 0 1 0 -10.8 0M1571.4 370a5.4 5.4 0 1 0 10.8 0a5.4 5.4 0 1 0 -10.8 0M1486.4 370a5.4 5.4 0 1 0 10.8 0a5.4 5.4 0 1 0 -10.8 0M1496.4 370a5.4 5.4 0 1 0 10.8 0a5.4 5.4 0 1 0 -10.8 0M1546.4 370a5.4 5.4 0 1 0 10.8 0a5.4 5.4 0 1 0 -10.8 0M1541.4 375a5.4 5.4 0 1 0 10.8 0a5.4 5.4 0 1 0 -10.8 0M1551.4 375a5.4 5.4 0 1 0 10.8 0a5.4 5.4 0 1 0 -10.8 0M1511.4 375a5.4 5.4 0 1 0 10.8 0a5.4 5.4 0 1 0 -10.8 0M1531.4 375a5.4 5.4 0 1 0 10.8 0a5.4 5.4 0 1 0 -10.8 0M1526.4 375a5.4 5.4 0 1 0 10.8 0a5.4 5.4 0 1 0 -10.8 0M1566.4 375a5.4 5.4 0 1 0 10.8 0a5.4 5.4 0 1 0 -10.8 0M1571.4 375a5.4 5.4 0 1 0 10.8 0a5.4 5.4 0 1 0 -10.8 0M1486.4 375a5.4 5.4 0 1 0 10.8 0a5.4 5.4 0 1 0 -10.8 0M1496.4 375a5.4 5.4 0 1 0 10.8 0a5.4 5.4 0 1 0 -10.8 0M1466.4 375a5.4 5.4 0 1 0 10.8 0a5.4 5.4 0 1 0 -10.8 0M1561.4 375a5.4 5.4 0 1 0 10.8 0a5.4 5.4 0 1 0 -10.8 0M1491.4 375a5.4 5.4 0 1 0 10.8 0a5.4 5.4 0 1 0 -10.8 0M1536.4 375a5.4 5.4 0 1 0 10.8 0a5.4 5.4 0 1 0 -10.8 0M1506.4 375a5.4 5.4 0 1 0 10.8 0a5.4 5.4 0 1 0 -10.8 0M1471.4 375a5.4 5.4 0 1 0 10.8 0a5.4 5.4 0 1 0 -10.8 0M1481.4 375a5.4 5.4 0 1 0 10.8 0a5.4 5.4 0 1 0 -10.8 0M1576.4 375a5.4 5.4 0 1 0 10.8 0a5.4 5.4 0 1 0 -10.8 0M1521.4 375a5.4 5.4 0 1 0 10.8 0a5.4 5.4 0 1 0 -10.8 0M1501.4 375a5.4 5.4 0 1 0 10.8 0a5.4 5.4 0 1 0 -10.8 0M1546.4 375a5.4 5.4 0 1 0 10.8 0a5.4 5.4 0 1 0 -10.8 0M1516.4 375a5.4 5.4 0 1 0 10.8 0a5.4 5.4 0 1 0 -10.8 0M1476.4 375a5.4 5.4 0 1 0 10.8 0a5.4 5.4 0 1 0 -10.8 0M1556.4 375a5.4 5.4 0 1 0 10.8 0a5.4 5.4 0 1 0 -10.8 0M1496.4 380a5.4 5.4 0 1 0 10.8 0a5.4 5.4 0 1 0 -10.8 0M1481.4 380a5.4 5.4 0 1 0 10.8 0a5.4 5.4 0 1 0 -10.8 0M1556.4 380a5.4 5.4 0 1 0 10.8 0a5.4 5.4 0 1 0 -10.8 0M1501.4 380a5.4 5.4 0 1 0 10.8 0a5.4 5.4 0 1 0 -10.8 0M1461.4 380a5.4 5.4 0 1 0 10.8 0a5.4 5.4 0 1 0 -10.8 0M1486.4 380a5.4 5.4 0 1 0 10.8 0a5.4 5.4 0 1 0 -10.8 0M1566.4 380a5.4 5.4 0 1 0 10.8 0a5.4 5.4 0 1 0 -10.8 0M1576.4 380a5.4 5.4 0 1 0 10.8 0a5.4 5.4 0 1 0 -10.8 0M1551.4 380a5.4 5.4 0 1 0 10.8 0a5.4 5.4 0 1 0 -10.8 0M1491.4 380a5.4 5.4 0 1 0 10.8 0a5.4 5.4 0 1 0 -10.8 0M1476.4 380a5.4 5.4 0 1 0 10.8 0a5.4 5.4 0 1 0 -10.8 0M1521.4 380a5.4 5.4 0 1 0 10.8 0a5.4 5.4 0 1 0 -10.8 0M1466.4 380a5.4 5.4 0 1 0 10.8 0a5.4 5.4 0 1 0 -10.8 0M1571.4 380a5.4 5.4 0 1 0 10.8 0a5.4 5.4 0 1 0 -10.8 0M1506.4 380a5.4 5.4 0 1 0 10.8 0a5.4 5.4 0 1 0 -10.8 0M1561.4 380a5.4 5.4 0 1 0 10.8 0a5.4 5.4 0 1 0 -10.8 0M1471.4 380a5.4 5.4 0 1 0 10.8 0a5.4 5.4 0 1 0 -10.8 0M1541.4 380a5.4 5.4 0 1 0 10.8 0a5.4 5.4 0 1 0 -10.8 0M1581.4 380a5.4 5.4 0 1 0 10.8 0a5.4 5.4 0 1 0 -10.8 0M1526.4 380a5.4 5.4 0 1 0 10.8 0a5.4 5.4 0 1 0 -10.8 0M1536.4 380a5.4 5.4 0 1 0 10.8 0a5.4 5.4 0 1 0 -10.8 0M1531.4 380a5.4 5.4 0 1 0 10.8 0a5.4 5.4 0 1 0 -10.8 0M1546.4 380a5.4 5.4 0 1 0 10.8 0a5.4 5.4 0 1 0 -10.8 0M1516.4 380a5.4 5.4 0 1 0 10.8 0a5.4 5.4 0 1 0 -10.8 0M1456.4 385a5.4 5.4 0 1 0 10.8 0a5.4 5.4 0 1 0 -10.8 0M1511.4 380a5.4 5.4 0 1 0 10.8 0a5.4 5.4 0 1 0 -10.8 0M1561.4 385a5.4 5.4 0 1 0 10.8 0a5.4 5.4 0 1 0 -10.8 0M1516.4 385a5.4 5.4 0 1 0 10.8 0a5.4 5.4 0 1 0 -10.8 0M1576.4 385a5.4 5.4 0 1 0 10.8 0a5.4 5.4 0 1 0 -10.8 0M1531.4 385a5.4 5.4 0 1 0 10.8 0a5.4 5.4 0 1 0 -10.8 0M1536.4 385a5.4 5.4 0 1 0 10.8 0a5.4 5.4 0 1 0 -10.8 0M1501.4 385a5.4 5.4 0 1 0 10.8 0a5.4 5.4 0 1 0 -10.8 0M1571.4 385a5.4 5.4 0 1 0 10.8 0a5.4 5.4 0 1 0 -10.8 0M1461.4 385a5.4 5.4 0 1 0 10.8 0a5.4 5.4 0 1 0 -10.8 0M1466.4 385a5.4 5.4 0 1 0 10.8 0a5.4 5.4 0 1 0 -10.8 0M1471.4 385a5.4 5.4 0 1 0 10.8 0a5.4 5.4 0 1 0 -10.8 0M1506.4 385a5.4 5.4 0 1 0 10.8 0a5.4 5.4 0 1 0 -10.8 0M1476.4 385a5.4 5.4 0 1 0 10.8 0a5.4 5.4 0 1 0 -10.8 0M1541.4 385a5.4 5.4 0 1 0 10.8 0a5.4 5.4 0 1 0 -10.8 0M1486.4 385a5.4 5.4 0 1 0 10.8 0a5.4 5.4 0 1 0 -10.8 0M1526.4 385a5.4 5.4 0 1 0 10.8 0a5.4 5.4 0 1 0 -10.8 0M1521.4 385a5.4 5.4 0 1 0 10.8 0a5.4 5.4 0 1 0 -10.8 0M1581.4 385a5.4 5.4 0 1 0 10.8 0a5.4 5.4 0 1 0 -10.8 0M1491.4 385a5.4 5.4 0 1 0 10.8 0a5.4 5.4 0 1 0 -10.8 0M1496.4 385a5.4 5.4 0 1 0 10.8 0a5.4 5.4 0 1 0 -10.8 0M1546.4 385a5.4 5.4 0 1 0 10.8 0a5.4 5.4 0 1 0 -10.8 0M1556.4 385a5.4 5.4 0 1 0 10.8 0a5.4 5.4 0 1 0 -10.8 0M1551.4 385a5.4 5.4 0 1 0 10.8 0a5.4 5.4 0 1 0 -10.8 0M1566.4 385a5.4 5.4 0 1 0 10.8 0a5.4 5.4 0 1 0 -10.8 0M1481.4 385a5.4 5.4 0 1 0 10.8 0a5.4 5.4 0 1 0 -10.8 0M1511.4 385a5.4 5.4 0 1 0 10.8 0a5.4 5.4 0 1 0 -10.8 0M1491.4 390a5.4 5.4 0 1 0 10.8 0a5.4 5.4 0 1 0 -10.8 0M1521.4 390a5.4 5.4 0 1 0 10.8 0a5.4 5.4 0 1 0 -10.8 0M1496.4 390a5.4 5.4 0 1 0 10.8 0a5.4 5.4 0 1 0 -10.8 0M1471.4 390a5.4 5.4 0 1 0 10.8 0a5.4 5.4 0 1 0 -10.8 0M1541.4 390a5.4 5.4 0 1 0 10.8 0a5.4 5.4 0 1 0 -10.8 0M1551.4 390a5.4 5.4 0 1 0 10.8 0a5.4 5.4 0 1 0 -10.8 0M1486.4 390a5.4 5.4 0 1 0 10.8 0a5.4 5.4 0 1 0 -10.8 0M1466.4 390a5.4 5.4 0 1 0 10.8 0a5.4 5.4 0 1 0 -10.8 0M1536.4 390a5.4 5.4 0 1 0 10.8 0a5.4 5.4 0 1 0 -10.8 0M1526.4 390a5.4 5.4 0 1 0 10.8 0a5.4 5.4 0 1 0 -10.8 0M1481.4 390a5.4 5.4 0 1 0 10.8 0a5.4 5.4 0 1 0 -10.8 0M1566.4 390a5.4 5.4 0 1 0 10.8 0a5.4 5.4 0 1 0 -10.8 0M1546.4 390a5.4 5.4 0 1 0 10.8 0a5.4 5.4 0 1 0 -10.8 0M1571.4 390a5.4 5.4 0 1 0 10.8 0a5.4 5.4 0 1 0 -10.8 0M1501.4 390a5.4 5.4 0 1 0 10.8 0a5.4 5.4 0 1 0 -10.8 0M1556.4 390a5.4 5.4 0 1 0 10.8 0a5.4 5.4 0 1 0 -10.8 0M1456.4 390a5.4 5.4 0 1 0 10.8 0a5.4 5.4 0 1 0 -10.8 0M1581.4 390a5.4 5.4 0 1 0 10.8 0a5.4 5.4 0 1 0 -10.8 0M1476.4 390a5.4 5.4 0 1 0 10.8 0a5.4 5.4 0 1 0 -10.8 0M1531.4 390a5.4 5.4 0 1 0 10.8 0a5.4 5.4 0 1 0 -10.8 0M1576.4 390a5.4 5.4 0 1 0 10.8 0a5.4 5.4 0 1 0 -10.8 0M1586.4 390a5.4 5.4 0 1 0 10.8 0a5.4 5.4 0 1 0 -10.8 0M1561.4 390a5.4 5.4 0 1 0 10.8 0a5.4 5.4 0 1 0 -10.8 0M1461.4 390a5.4 5.4 0 1 0 10.8 0a5.4 5.4 0 1 0 -10.8 0M1506.4 390a5.4 5.4 0 1 0 10.8 0a5.4 5.4 0 1 0 -10.8 0M1516.4 390a5.4 5.4 0 1 0 10.8 0a5.4 5.4 0 1 0 -10.8 0M1511.4 390a5.4 5.4 0 1 0 10.8 0a5.4 5.4 0 1 0 -10.8 0M1526.4 395a5.4 5.4 0 1 0 10.8 0a5.4 5.4 0 1 0 -10.8 0M1566.4 395a5.4 5.4 0 1 0 10.8 0a5.4 5.4 0 1 0 -10.8 0M1461.4 395a5.4 5.4 0 1 0 10.8 0a5.4 5.4 0 1 0 -10.8 0M1521.4 395a5.4 5.4 0 1 0 10.8 0a5.4 5.4 0 1 0 -10.8 0M1576.4 395a5.4 5.4 0 1 0 10.8 0a5.4 5.4 0 1 0 -10.8 0M1471.4 395a5.4 5.4 0 1 0 10.8 0a5.4 5.4 0 1 0 -10.8 0M1486.4 395a5.4 5.4 0 1 0 10.8 0a5.4 5.4 0 1 0 -10.8 0M1561.4 395a5.4 5.4 0 1 0 10.8 0a5.4 5.4 0 1 0 -10.8 0M1501.4 395a5.4 5.4 0 1 0 10.8 0a5.4 5.4 0 1 0 -10.8 0M1536.4 395a5.4 5.4 0 1 0 10.8 0a5.4 5.4 0 1 0 -10.8 0M1466.4 395a5.4 5.4 0 1 0 10.8 0a5.4 5.4 0 1 0 -10.8 0M1496.4 395a5.4 5.4 0 1 0 10.8 0a5.4 5.4 0 1 0 -10.8 0M1516.4 395a5.4 5.4 0 1 0 10.8 0a5.4 5.4 0 1 0 -10.8 0M1506.4 395a5.4 5.4 0 1 0 10.8 0a5.4 5.4 0 1 0 -10.8 0M1546.4 395a5.4 5.4 0 1 0 10.8 0a5.4 5.4 0 1 0 -10.8 0M1581.4 395a5.4 5.4 0 1 0 10.8 0a5.4 5.4 0 1 0 -10.8 0M1491.4 395a5.4 5.4 0 1 0 10.8 0a5.4 5.4 0 1 0 -10.8 0M1531.4 395a5.4 5.4 0 1 0 10.8 0a5.4 5.4 0 1 0 -10.8 0M1476.4 395a5.4 5.4 0 1 0 10.8 0a5.4 5.4 0 1 0 -10.8 0M1541.4 395a5.4 5.4 0 1 0 10.8 0a5.4 5.4 0 1 0 -10.8 0M1481.4 395a5.4 5.4 0 1 0 10.8 0a5.4 5.4 0 1 0 -10.8 0M1571.4 395a5.4 5.4 0 1 0 10.8 0a5.4 5.4 0 1 0 -10.8 0M1511.4 395a5.4 5.4 0 1 0 10.8 0a5.4 5.4 0 1 0 -10.8 0M1551.4 395a5.4 5.4 0 1 0 10.8 0a5.4 5.4 0 1 0 -10.8 0M1556.4 395a5.4 5.4 0 1 0 10.8 0a5.4 5.4 0 1 0 -10.8 0M1501.4 400a5.4 5.4 0 1 0 10.8 0a5.4 5.4 0 1 0 -10.8 0M1571.4 400a5.4 5.4 0 1 0 10.8 0a5.4 5.4 0 1 0 -10.8 0M1476.4 400a5.4 5.4 0 1 0 10.8 0a5.4 5.4 0 1 0 -10.8 0M1466.4 400a5.4 5.4 0 1 0 10.8 0a5.4 5.4 0 1 0 -10.8 0M1541.4 400a5.4 5.4 0 1 0 10.8 0a5.4 5.4 0 1 0 -10.8 0M1481.4 400a5.4 5.4 0 1 0 10.8 0a5.4 5.4 0 1 0 -10.8 0M1546.4 400a5.4 5.4 0 1 0 10.8 0a5.4 5.4 0 1 0 -10.8 0M1526.4 400a5.4 5.4 0 1 0 10.8 0a5.4 5.4 0 1 0 -10.8 0M1516.4 400a5.4 5.4 0 1 0 10.8 0a5.4 5.4 0 1 0 -10.8 0M1486.4 400a5.4 5.4 0 1 0 10.8 0a5.4 5.4 0 1 0 -10.8 0M1561.4 400a5.4 5.4 0 1 0 10.8 0a5.4 5.4 0 1 0 -10.8 0M1556.4 400a5.4 5.4 0 1 0 10.8 0a5.4 5.4 0 1 0 -10.8 0M1506.4 400a5.4 5.4 0 1 0 10.8 0a5.4 5.4 0 1 0 -10.8 0M1496.4 400a5.4 5.4 0 1 0 10.8 0a5.4 5.4 0 1 0 -10.8 0M1551.4 400a5.4 5.4 0 1 0 10.8 0a5.4 5.4 0 1 0 -10.8 0M1521.4 400a5.4 5.4 0 1 0 10.8 0a5.4 5.4 0 1 0 -10.8 0M1471.4 400a5.4 5.4 0 1 0 10.8 0a5.4 5.4 0 1 0 -10.8 0M1566.4 400a5.4 5.4 0 1 0 10.8 0a5.4 5.4 0 1 0 -10.8 0M1531.4 400a5.4 5.4 0 1 0 10.8 0a5.4 5.4 0 1 0 -10.8 0M1576.4 400a5.4 5.4 0 1 0 10.8 0a5.4 5.4 0 1 0 -10.8 0M1491.4 400a5.4 5.4 0 1 0 10.8 0a5.4 5.4 0 1 0 -10.8 0M1511.4 400a5.4 5.4 0 1 0 10.8 0a5.4 5.4 0 1 0 -10.8 0M1536.4 400a5.4 5.4 0 1 0 10.8 0a5.4 5.4 0 1 0 -10.8 0M1536.4 405a5.4 5.4 0 1 0 10.8 0a5.4 5.4 0 1 0 -10.8 0M1501.4 405a5.4 5.4 0 1 0 10.8 0a5.4 5.4 0 1 0 -10.8 0M1551.4 405a5.4 5.4 0 1 0 10.8 0a5.4 5.4 0 1 0 -10.8 0M1511.4 405a5.4 5.4 0 1 0 10.8 0a5.4 5.4 0 1 0 -10.8 0M1541.4 405a5.4 5.4 0 1 0 10.8 0a5.4 5.4 0 1 0 -10.8 0M1526.4 405a5.4 5.4 0 1 0 10.8 0a5.4 5.4 0 1 0 -10.8 0M1521.4 405a5.4 5.4 0 1 0 10.8 0a5.4 5.4 0 1 0 -10.8 0M1566.4 405a5.4 5.4 0 1 0 10.8 0a5.4 5.4 0 1 0 -10.8 0M1546.4 405a5.4 5.4 0 1 0 10.8 0a5.4 5.4 0 1 0 -10.8 0M1561.4 405a5.4 5.4 0 1 0 10.8 0a5.4 5.4 0 1 0 -10.8 0M1491.4 405a5.4 5.4 0 1 0 10.8 0a5.4 5.4 0 1 0 -10.8 0M1481.4 405a5.4 5.4 0 1 0 10.8 0a5.4 5.4 0 1 0 -10.8 0M1516.4 405a5.4 5.4 0 1 0 10.8 0a5.4 5.4 0 1 0 -10.8 0M1496.4 405a5.4 5.4 0 1 0 10.8 0a5.4 5.4 0 1 0 -10.8 0M1471.4 405a5.4 5.4 0 1 0 10.8 0a5.4 5.4 0 1 0 -10.8 0M1476.4 405a5.4 5.4 0 1 0 10.8 0a5.4 5.4 0 1 0 -10.8 0M1486.4 405a5.4 5.4 0 1 0 10.8 0a5.4 5.4 0 1 0 -10.8 0M1556.4 405a5.4 5.4 0 1 0 10.8 0a5.4 5.4 0 1 0 -10.8 0M1571.4 405a5.4 5.4 0 1 0 10.8 0a5.4 5.4 0 1 0 -10.8 0M1506.4 405a5.4 5.4 0 1 0 10.8 0a5.4 5.4 0 1 0 -10.8 0M1531.4 405a5.4 5.4 0 1 0 10.8 0a5.4 5.4 0 1 0 -10.8 0M1541.4 410a5.4 5.4 0 1 0 10.8 0a5.4 5.4 0 1 0 -10.8 0M1471.4 410a5.4 5.4 0 1 0 10.8 0a5.4 5.4 0 1 0 -10.8 0M1576.4 410a5.4 5.4 0 1 0 10.8 0a5.4 5.4 0 1 0 -10.8 0M1506.4 410a5.4 5.4 0 1 0 10.8 0a5.4 5.4 0 1 0 -10.8 0M1461.4 410a5.4 5.4 0 1 0 10.8 0a5.4 5.4 0 1 0 -10.8 0M1521.4 410a5.4 5.4 0 1 0 10.8 0a5.4 5.4 0 1 0 -10.8 0M1496.4 410a5.4 5.4 0 1 0 10.8 0a5.4 5.4 0 1 0 -10.8 0M1511.4 410a5.4 5.4 0 1 0 10.8 0a5.4 5.4 0 1 0 -10.8 0M1486.4 410a5.4 5.4 0 1 0 10.8 0a5.4 5.4 0 1 0 -10.8 0M1556.4 410a5.4 5.4 0 1 0 10.8 0a5.4 5.4 0 1 0 -10.8 0M1476.4 410a5.4 5.4 0 1 0 10.8 0a5.4 5.4 0 1 0 -10.8 0M1551.4 410a5.4 5.4 0 1 0 10.8 0a5.4 5.4 0 1 0 -10.8 0M1571.4 410a5.4 5.4 0 1 0 10.8 0a5.4 5.4 0 1 0 -10.8 0M1491.4 410a5.4 5.4 0 1 0 10.8 0a5.4 5.4 0 1 0 -10.8 0M1526.4 410a5.4 5.4 0 1 0 10.8 0a5.4 5.4 0 1 0 -10.8 0M1561.4 410a5.4 5.4 0 1 0 10.8 0a5.4 5.4 0 1 0 -10.8 0M1531.4 410a5.4 5.4 0 1 0 10.8 0a5.4 5.4 0 1 0 -10.8 0M1566.4 410a5.4 5.4 0 1 0 10.8 0a5.4 5.4 0 1 0 -10.8 0M1546.4 410a5.4 5.4 0 1 0 10.8 0a5.4 5.4 0 1 0 -10.8 0M1536.4 410a5.4 5.4 0 1 0 10.8 0a5.4 5.4 0 1 0 -10.8 0M1481.4 410a5.4 5.4 0 1 0 10.8 0a5.4 5.4 0 1 0 -10.8 0M1501.4 410a5.4 5.4 0 1 0 10.8 0a5.4 5.4 0 1 0 -10.8 0M1466.4 410a5.4 5.4 0 1 0 10.8 0a5.4 5.4 0 1 0 -10.8 0M1516.4 410a5.4 5.4 0 1 0 10.8 0a5.4 5.4 0 1 0 -10.8 0M1496.4 415a5.4 5.4 0 1 0 10.8 0a5.4 5.4 0 1 0 -10.8 0M1551.4 415a5.4 5.4 0 1 0 10.8 0a5.4 5.4 0 1 0 -10.8 0M1511.4 415a5.4 5.4 0 1 0 10.8 0a5.4 5.4 0 1 0 -10.8 0M1481.4 415a5.4 5.4 0 1 0 10.8 0a5.4 5.4 0 1 0 -10.8 0M1521.4 415a5.4 5.4 0 1 0 10.8 0a5.4 5.4 0 1 0 -10.8 0M1506.4 415a5.4 5.4 0 1 0 10.8 0a5.4 5.4 0 1 0 -10.8 0M1561.4 415a5.4 5.4 0 1 0 10.8 0a5.4 5.4 0 1 0 -10.8 0M1531.4 415a5.4 5.4 0 1 0 10.8 0a5.4 5.4 0 1 0 -10.8 0M1536.4 415a5.4 5.4 0 1 0 10.8 0a5.4 5.4 0 1 0 -10.8 0M1526.4 415a5.4 5.4 0 1 0 10.8 0a5.4 5.4 0 1 0 -10.8 0M1476.4 415a5.4 5.4 0 1 0 10.8 0a5.4 5.4 0 1 0 -10.8 0M1541.4 415a5.4 5.4 0 1 0 10.8 0a5.4 5.4 0 1 0 -10.8 0M1546.4 415a5.4 5.4 0 1 0 10.8 0a5.4 5.4 0 1 0 -10.8 0M1516.4 415a5.4 5.4 0 1 0 10.8 0a5.4 5.4 0 1 0 -10.8 0M1486.4 415a5.4 5.4 0 1 0 10.8 0a5.4 5.4 0 1 0 -10.8 0M1556.4 415a5.4 5.4 0 1 0 10.8 0a5.4 5.4 0 1 0 -10.8 0M1491.4 415a5.4 5.4 0 1 0 10.8 0a5.4 5.4 0 1 0 -10.8 0M1501.4 415a5.4 5.4 0 1 0 10.8 0a5.4 5.4 0 1 0 -10.8 0M1516.4 420a5.4 5.4 0 1 0 10.8 0a5.4 5.4 0 1 0 -10.8 0M1546.4 420a5.4 5.4 0 1 0 10.8 0a5.4 5.4 0 1 0 -10.8 0M1496.4 420a5.4 5.4 0 1 0 10.8 0a5.4 5.4 0 1 0 -10.8 0M1556.4 420a5.4 5.4 0 1 0 10.8 0a5.4 5.4 0 1 0 -10.8 0M1561.4 420a5.4 5.4 0 1 0 10.8 0a5.4 5.4 0 1 0 -10.8 0M1536.4 420a5.4 5.4 0 1 0 10.8 0a5.4 5.4 0 1 0 -10.8 0M1491.4 420a5.4 5.4 0 1 0 10.8 0a5.4 5.4 0 1 0 -10.8 0M1486.4 420a5.4 5.4 0 1 0 10.8 0a5.4 5.4 0 1 0 -10.8 0M1501.4 420a5.4 5.4 0 1 0 10.8 0a5.4 5.4 0 1 0 -10.8 0M1506.4 420a5.4 5.4 0 1 0 10.8 0a5.4 5.4 0 1 0 -10.8 0M1541.4 420a5.4 5.4 0 1 0 10.8 0a5.4 5.4 0 1 0 -10.8 0M1511.4 420a5.4 5.4 0 1 0 10.8 0a5.4 5.4 0 1 0 -10.8 0M1551.4 420a5.4 5.4 0 1 0 10.8 0a5.4 5.4 0 1 0 -10.8 0M1526.4 420a5.4 5.4 0 1 0 10.8 0a5.4 5.4 0 1 0 -10.8 0M1531.4 420a5.4 5.4 0 1 0 10.8 0a5.4 5.4 0 1 0 -10.8 0M1521.4 420a5.4 5.4 0 1 0 10.8 0a5.4 5.4 0 1 0 -10.8 0M1481.4 420a5.4 5.4 0 1 0 10.8 0a5.4 5.4 0 1 0 -10.8 0M1566.4 425a5.4 5.4 0 1 0 10.8 0a5.4 5.4 0 1 0 -10.8 0M1471.4 425a5.4 5.4 0 1 0 10.8 0a5.4 5.4 0 1 0 -10.8 0M1551.4 425a5.4 5.4 0 1 0 10.8 0a5.4 5.4 0 1 0 -10.8 0M1491.4 425a5.4 5.4 0 1 0 10.8 0a5.4 5.4 0 1 0 -10.8 0M1526.4 425a5.4 5.4 0 1 0 10.8 0a5.4 5.4 0 1 0 -10.8 0M1506.4 425a5.4 5.4 0 1 0 10.8 0a5.4 5.4 0 1 0 -10.8 0M1486.4 425a5.4 5.4 0 1 0 10.8 0a5.4 5.4 0 1 0 -10.8 0M1511.4 425a5.4 5.4 0 1 0 10.8 0a5.4 5.4 0 1 0 -10.8 0M1541.4 425a5.4 5.4 0 1 0 10.8 0a5.4 5.4 0 1 0 -10.8 0M1536.4 425a5.4 5.4 0 1 0 10.8 0a5.4 5.4 0 1 0 -10.8 0M1476.4 425a5.4 5.4 0 1 0 10.8 0a5.4 5.4 0 1 0 -10.8 0M1531.4 425a5.4 5.4 0 1 0 10.8 0a5.4 5.4 0 1 0 -10.8 0M1561.4 425a5.4 5.4 0 1 0 10.8 0a5.4 5.4 0 1 0 -10.8 0M1501.4 425a5.4 5.4 0 1 0 10.8 0a5.4 5.4 0 1 0 -10.8 0M1496.4 425a5.4 5.4 0 1 0 10.8 0a5.4 5.4 0 1 0 -10.8 0M1516.4 425a5.4 5.4 0 1 0 10.8 0a5.4 5.4 0 1 0 -10.8 0M1481.4 425a5.4 5.4 0 1 0 10.8 0a5.4 5.4 0 1 0 -10.8 0M1521.4 425a5.4 5.4 0 1 0 10.8 0a5.4 5.4 0 1 0 -10.8 0M1546.4 425a5.4 5.4 0 1 0 10.8 0a5.4 5.4 0 1 0 -10.8 0M1556.4 425a5.4 5.4 0 1 0 10.8 0a5.4 5.4 0 1 0 -10.8 0M1516.4 430a5.4 5.4 0 1 0 10.8 0a5.4 5.4 0 1 0 -10.8 0M1476.4 430a5.4 5.4 0 1 0 10.8 0a5.4 5.4 0 1 0 -10.8 0M1556.4 430a5.4 5.4 0 1 0 10.8 0a5.4 5.4 0 1 0 -10.8 0M1506.4 430a5.4 5.4 0 1 0 10.8 0a5.4 5.4 0 1 0 -10.8 0M1526.4 430a5.4 5.4 0 1 0 10.8 0a5.4 5.4 0 1 0 -10.8 0M1531.4 430a5.4 5.4 0 1 0 10.8 0a5.4 5.4 0 1 0 -10.8 0M1541.4 430a5.4 5.4 0 1 0 10.8 0a5.4 5.4 0 1 0 -10.8 0M1551.4 430a5.4 5.4 0 1 0 10.8 0a5.4 5.4 0 1 0 -10.8 0M1546.4 430a5.4 5.4 0 1 0 10.8 0a5.4 5.4 0 1 0 -10.8 0M1486.4 430a5.4 5.4 0 1 0 10.8 0a5.4 5.4 0 1 0 -10.8 0M1491.4 430a5.4 5.4 0 1 0 10.8 0a5.4 5.4 0 1 0 -10.8 0M1481.4 430a5.4 5.4 0 1 0 10.8 0a5.4 5.4 0 1 0 -10.8 0M1511.4 430a5.4 5.4 0 1 0 10.8 0a5.4 5.4 0 1 0 -10.8 0M1496.4 430a5.4 5.4 0 1 0 10.8 0a5.4 5.4 0 1 0 -10.8 0M1521.4 430a5.4 5.4 0 1 0 10.8 0a5.4 5.4 0 1 0 -10.8 0M1561.4 430a5.4 5.4 0 1 0 10.8 0a5.4 5.4 0 1 0 -10.8 0M1501.4 430a5.4 5.4 0 1 0 10.8 0a5.4 5.4 0 1 0 -10.8 0M1536.4 430a5.4 5.4 0 1 0 10.8 0a5.4 5.4 0 1 0 -10.8 0M1516.4 435a5.4 5.4 0 1 0 10.8 0a5.4 5.4 0 1 0 -10.8 0M1506.4 435a5.4 5.4 0 1 0 10.8 0a5.4 5.4 0 1 0 -10.8 0M1531.4 435a5.4 5.4 0 1 0 10.8 0a5.4 5.4 0 1 0 -10.8 0M1491.4 435a5.4 5.4 0 1 0 10.8 0a5.4 5.4 0 1 0 -10.8 0M1526.4 435a5.4 5.4 0 1 0 10.8 0a5.4 5.4 0 1 0 -10.8 0M1486.4 435a5.4 5.4 0 1 0 10.8 0a5.4 5.4 0 1 0 -10.8 0M1541.4 435a5.4 5.4 0 1 0 10.8 0a5.4 5.4 0 1 0 -10.8 0M1501.4 435a5.4 5.4 0 1 0 10.8 0a5.4 5.4 0 1 0 -10.8 0M1566.4 435a5.4 5.4 0 1 0 10.8 0a5.4 5.4 0 1 0 -10.8 0M1546.4 435a5.4 5.4 0 1 0 10.8 0a5.4 5.4 0 1 0 -10.8 0M1521.4 435a5.4 5.4 0 1 0 10.8 0a5.4 5.4 0 1 0 -10.8 0M1511.4 435a5.4 5.4 0 1 0 10.8 0a5.4 5.4 0 1 0 -10.8 0M1471.4 435a5.4 5.4 0 1 0 10.8 0a5.4 5.4 0 1 0 -10.8 0M1476.4 435a5.4 5.4 0 1 0 10.8 0a5.4 5.4 0 1 0 -10.8 0M1561.4 435a5.4 5.4 0 1 0 10.8 0a5.4 5.4 0 1 0 -10.8 0M1551.4 435a5.4 5.4 0 1 0 10.8 0a5.4 5.4 0 1 0 -10.8 0M1481.4 435a5.4 5.4 0 1 0 10.8 0a5.4 5.4 0 1 0 -10.8 0M1536.4 435a5.4 5.4 0 1 0 10.8 0a5.4 5.4 0 1 0 -10.8 0M1496.4 435a5.4 5.4 0 1 0 10.8 0a5.4 5.4 0 1 0 -10.8 0M1556.4 435a5.4 5.4 0 1 0 10.8 0a5.4 5.4 0 1 0 -10.8 0M1536.4 440a5.4 5.4 0 1 0 10.8 0a5.4 5.4 0 1 0 -10.8 0M1511.4 440a5.4 5.4 0 1 0 10.8 0a5.4 5.4 0 1 0 -10.8 0M1521.4 440a5.4 5.4 0 1 0 10.8 0a5.4 5.4 0 1 0 -10.8 0M1541.4 440a5.4 5.4 0 1 0 10.8 0a5.4 5.4 0 1 0 -10.8 0M1501.4 440a5.4 5.4 0 1 0 10.8 0a5.4 5.4 0 1 0 -10.8 0M1516.4 440a5.4 5.4 0 1 0 10.8 0a5.4 5.4 0 1 0 -10.8 0M1531.4 440a5.4 5.4 0 1 0 10.8 0a5.4 5.4 0 1 0 -10.8 0M1506.4 440a5.4 5.4 0 1 0 10.8 0a5.4 5.4 0 1 0 -10.8 0M1526.4 440a5.4 5.4 0 1 0 10.8 0a5.4 5.4 0 1 0 -10.8 0M1516.4 445a5.4 5.4 0 1 0 10.8 0a5.4 5.4 0 1 0 -10.8 0M1541.4 445a5.4 5.4 0 1 0 10.8 0a5.4 5.4 0 1 0 -10.8 0M1526.4 445a5.4 5.4 0 1 0 10.8 0a5.4 5.4 0 1 0 -10.8 0M1521.4 445a5.4 5.4 0 1 0 10.8 0a5.4 5.4 0 1 0 -10.8 0M1531.4 445a5.4 5.4 0 1 0 10.8 0a5.4 5.4 0 1 0 -10.8 0M1506.4 445a5.4 5.4 0 1 0 10.8 0a5.4 5.4 0 1 0 -10.8 0M1511.4 445a5.4 5.4 0 1 0 10.8 0a5.4 5.4 0 1 0 -10.8 0M1501.4 445a5.4 5.4 0 1 0 10.8 0a5.4 5.4 0 1 0 -10.8 0M1536.4 445a5.4 5.4 0 1 0 10.8 0a5.4 5.4 0 1 0 -10.8 0M1516.4 450a5.4 5.4 0 1 0 10.8 0a5.4 5.4 0 1 0 -10.8 0M1511.4 450a5.4 5.4 0 1 0 10.8 0a5.4 5.4 0 1 0 -10.8 0M1531.4 450a5.4 5.4 0 1 0 10.8 0a5.4 5.4 0 1 0 -10.8 0M1506.4 450a5.4 5.4 0 1 0 10.8 0a5.4 5.4 0 1 0 -10.8 0M1521.4 450a5.4 5.4 0 1 0 10.8 0a5.4 5.4 0 1 0 -10.8 0M1526.4 450a5.4 5.4 0 1 0 10.8 0a5.4 5.4 0 1 0 -10.8 0M1526.4 455a5.4 5.4 0 1 0 10.8 0a5.4 5.4 0 1 0 -10.8 0M1516.4 455a5.4 5.4 0 1 0 10.8 0a5.4 5.4 0 1 0 -10.8 0M1521.4 455a5.4 5.4 0 1 0 10.8 0a5.4 5.4 0 1 0 -10.8 0M1511.4 455a5.4 5.4 0 1 0 10.8 0a5.4 5.4 0 1 0 -10.8 0M1511.4 460a5.4 5.4 0 1 0 10.8 0a5.4 5.4 0 1 0 -10.8 0M1526.4 460a5.4 5.4 0 1 0 10.8 0a5.4 5.4 0 1 0 -10.8 0M1521.4 460a5.4 5.4 0 1 0 10.8 0a5.4 5.4 0 1 0 -10.8 0M1516.4 460a5.4 5.4 0 1 0 10.8 0a5.4 5.4 0 1 0 -10.8 0M1521.4 465a5.4 5.4 0 1 0 10.8 0a5.4 5.4 0 1 0 -10.8 0M1511.4 465a5.4 5.4 0 1 0 10.8 0a5.4 5.4 0 1 0 -10.8 0M1516.4 465a5.4 5.4 0 1 0 10.8 0a5.4 5.4 0 1 0 -10.8 0M1526.4 465a5.4 5.4 0 1 0 10.8 0a5.4 5.4 0 1 0 -10.8 0M1516.4 470a5.4 5.4 0 1 0 10.8 0a5.4 5.4 0 1 0 -10.8 0M1511.4 470a5.4 5.4 0 1 0 10.8 0a5.4 5.4 0 1 0 -10.8 0M1526.4 470a5.4 5.4 0 1 0 10.8 0a5.4 5.4 0 1 0 -10.8 0M1521.4 470a5.4 5.4 0 1 0 10.8 0a5.4 5.4 0 1 0 -10.8 0M1526.4 475a5.4 5.4 0 1 0 10.8 0a5.4 5.4 0 1 0 -10.8 0M1511.4 475a5.4 5.4 0 1 0 10.8 0a5.4 5.4 0 1 0 -10.8 0M1516.4 475a5.4 5.4 0 1 0 10.8 0a5.4 5.4 0 1 0 -10.8 0M1521.4 475a5.4 5.4 0 1 0 10.8 0a5.4 5.4 0 1 0 -10.8 0M1516.4 480a5.4 5.4 0 1 0 10.8 0a5.4 5.4 0 1 0 -10.8 0M1521.4 480a5.4 5.4 0 1 0 10.8 0a5.4 5.4 0 1 0 -10.8 0M1521.4 485a5.4 5.4 0 1 0 10.8 0a5.4 5.4 0 1 0 -10.8 0M1516.4 485a5.4 5.4 0 1 0 10.8 0a5.4 5.4 0 1 0 -10.8 0M1521.4 490a5.4 5.4 0 1 0 10.8 0a5.4 5.4 0 1 0 -10.8 0M1521.4 495a5.4 5.4 0 1 0 10.8 0a5.4 5.4 0 1 0 -10.8 0M1521.4 505a5.4 5.4 0 1 0 10.8 0a5.4 5.4 0 1 0 -10.8 0M1521.4 510a5.4 5.4 0 1 0 10.8 0a5.4 5.4 0 1 0 -10.8 0M1521 84.6a5.4 5.4 0 1 0 10.8 0a5.4 5.4 0 1 0 -10.8 0M1521.6 109.1a5.4 5.4 0 1 0 10.8 0a5.4 5.4 0 1 0 -10.8 0M1526.8 122.5a5.4 5.4 0 1 0 10.8 0a5.4 5.4 0 1 0 -10.8 0M1521 118a5.4 5.4 0 1 0 10.8 0a5.4 5.4 0 1 0 -10.8 0M1521 131.9a5.4 5.4 0 1 0 10.8 0a5.4 5.4 0 1 0 -10.8 0M1521 527.9a5.4 5.4 0 1 0 10.8 0a5.4 5.4 0 1 0 -10.8 0M1521 555a5.4 5.4 0 1 0 10.8 0a5.4 5.4 0 1 0 -10.8 0M1521 582.2a5.4 5.4 0 1 0 10.8 0a5.4 5.4 0 1 0 -10.8 0" fill="#545454"/><path d="M1779.7 50.4a5.4 5.4 0 1 0 10.8 0a5.4 5.4 0 1 0 -10.8 0M1779.7 93a5.4 5.4 0 1 0 10.8 0a5.4 5.4 0 1 0 -10.8 0M1779.7 159.8a5.4 5.4 0 1 0 10.8 0a5.4 5.4 0 1 0 -10.8 0M1779.7 165a5.4 5.4 0 1 0 10.8 0a5.4 5.4 0 1 0 -10.8 0M1779.7 187a5.4 5.4 0 1 0 10.8 0a5.4 5.4 0 1 0 -10.8 0M1779.7 196.5a5.4 5.4 0 1 0 10.8 0a5.4 5.4 0 1 0 -10.8 0M1779.7 203.8a5.4 5.4 0 1 0 10.8 0a5.4 5.4 0 1 0 -10.8 0M1779.7 225a5.4 5.4 0 1 0 10.8 0a5.4 5.4 0 1 0 -10.8 0M1779.7 242a5.4 5.4 0 1 0 10.8 0a5.4 5.4 0 1 0 -10.8 0M1779.7 251.5a5.4 5.4 0 1 0 10.8 0a5.4 5.4 0 1 0 -10.8 0M1779.7 274.3a5.4 5.4 0 1 0 10.8 0a5.4 5.4 0 1 0 -10.8 0M1779.7 283.4a5.4 5.4 0 1 0 10.8 0a5.4 5.4 0 1 0 -10.8 0M1779.7 292.6a5.4 5.4 0 1 0 10.8 0a5.4 5.4 0 1 0 -10.8 0M1779.7 311.5a5.4 5.4 0 1 0 10.8 0a5.4 5.4 0 1 0 -10.8 0M1779.7 324.1a5.4 5.4 0 1 0 10.8 0a5.4 5.4 0 1 0 -10.8 0M1779.7 345.1a5.4 5.4 0 1 0 10.8 0a5.4 5.4 0 1 0 -10.8 0M1779.7 366.8a5.4 5.4 0 1 0 10.8 0a5.4 5.4 0 1 0 -10.8 0M1779.7 380.2a5.4 5.4 0 1 0 10.8 0a5.4 5.4 0 1 0 -10.8 0M1779.7 393.5a5.4 5.4 0 1 0 10.8 0a5.4 5.4 0 1 0 -10.8 0" fill="#545454"/><line x1="1372" y1="25" x2="1372" y2="611.0" stroke="#000" stroke-width="4"/><line x1="1362.5" y1="46.30000000000001" x2="1372" y2="46.30000000000001" stroke="#000" stroke-width="3"/><text x="1357" y="60.7" text-anchor="end" class="t">4</text><line x1="1362.5" y1="199.3" x2="1372" y2="199.3" stroke="#000" stroke-width="3"/><text x="1357" y="213.7" text-anchor="end" class="t">2</text><line x1="1362.5" y1="352.3" x2="1372" y2="352.3" stroke="#000" stroke-width="3"/><text x="1357" y="366.7" text-anchor="end" class="t">0</text><line x1="1362.5" y1="505.3" x2="1372" y2="505.3" stroke="#000" stroke-width="3"/><text x="1357" y="519.7" text-anchor="end" class="t">-2</text><line x1="1370.0" y1="609" x2="2198.4" y2="609" stroke="#000" stroke-width="4"/><line x1="1527" y1="609" x2="1527" y2="618.5" stroke="#000" stroke-width="3"/><text x="1527" y="651.5" text-anchor="middle" class="t">TT (n=719)</text><line x1="1785.3" y1="609" x2="1785.3" y2="618.5" stroke="#000" stroke-width="3"/><text x="1785.3" y="651.5" text-anchor="middle" class="t">TG (n=20)</text><line x1="2043.6" y1="609" x2="2043.6" y2="618.5" stroke="#000" stroke-width="3"/><text x="2043.6" y="651.5" text-anchor="middle" class="t">GG (n=0)</text><text x="1784.5" y="695.5" text-anchor="middle" class="t">rs149572251 (ITCH)</text><text transform="translate(1202.2 317) rotate(-90)" text-anchor="middle" class="t">eicosapentaenoate</text><text transform="translate(1239.2 317) rotate(-90)" text-anchor="middle" class="t">(EPA, 20:5n3)</text><rect x="285.4" y="780" width="235" height="415.6" fill="#333333"/><rect x="285.4" y="1195.6" width="235" height="115.6" fill="#cccccc"/><rect x="543.8" y="780" width="235" height="203.4" fill="#333333"/><rect x="543.8" y="983.4" width="235" height="327.8" fill="#cccccc"/><rect x="802.6" y="780" width="235" height="531.2" fill="#cccccc"/><line x1="247.8" y1="753.6" x2="247.8" y2="1339.3" stroke="#000" stroke-width="4"/><line x1="238.3" y1="780.0" x2="247.8" y2="780.0" stroke="#000" stroke-width="3"/><text x="232.8" y="794.4" text-anchor="end" class="t">100%</text><line x1="238.3" y1="912.8" x2="247.8" y2="912.8" stroke="#000" stroke-width="3"/><text x="232.8" y="927.2" text-anchor="end" class="t">75%</text><line x1="238.3" y1="1045.6" x2="247.8" y2="1045.6" stroke="#000" stroke-width="3"/><text x="232.8" y="1060" text-anchor="end" class="t">50%</text><line x1="238.3" y1="1178.4" x2="247.8" y2="1178.4" stroke="#000" stroke-width="3"/><text x="232.8" y="1192.8" text-anchor="end" class="t">25%</text><line x1="238.3" y1="1311.2" x2="247.8" y2="1311.2" stroke="#000" stroke-width="3"/><text x="232.8" y="1325.6" text-anchor="end" class="t">0%</text><line x1="245.8" y1="1337.3" x2="1074.5" y2="1337.3" stroke="#000" stroke-width="4"/><line x1="403" y1="1337.3" x2="403" y2="1346.8" stroke="#000" stroke-width="3"/><text x="403" y="1379.8" text-anchor="middle" class="t">GG (n=688)</text><line x1="661.3" y1="1337.3" x2="661.3" y2="1346.8" stroke="#000" stroke-width="3"/><text x="661.3" y="1379.8" text-anchor="middle" class="t">GC (n=47)</text><line x1="919.6" y1="1337.3" x2="919.6" y2="1346.8" stroke="#000" stroke-width="3"/><text x="919.6" y="1379.8" text-anchor="middle" class="t">CC (n=4)</text><text x="660.4" y="1423.8" text-anchor="middle" class="t">rs62311177 (GRID2)</text><text transform="translate(95.6 1045) rotate(-90)" text-anchor="middle" class="t">3-hydroxyhexanoate</text><rect x="420.4" y="1463.8" width="27.2" height="29.2" fill="#333333"/><rect x="565.6" y="1463.8" width="27.2" height="29.2" fill="#cccccc"/><text x="456" y="1490.5" class="t">absent</text><text x="597" y="1490.5" class="t">present</text><g stroke="#000" stroke-opacity="0.86" stroke-width="3.8" stroke-linecap="round"><line x1="1449.3" y1="839.1" x2="1604.3" y2="839.1"/><line x1="1449.3" y1="1146.2" x2="1604.3" y2="1146.2"/><line x1="1449.3" y1="839.1" x2="1449.3" y2="1146.2"/><line x1="1604.3" y1="839.1" x2="1604.3" y2="1146.2"/></g><line x1="1449.3" y1="992.2" x2="1604.3" y2="992.2" stroke="#000" stroke-width="7"/><g stroke="#000" stroke-opacity="0.86" stroke-width="3.8" stroke-linecap="round"><line x1="1707.5" y1="908.8" x2="1862.5" y2="908.8"/><line x1="1707.5" y1="1184.2" x2="1862.5" y2="1184.2"/><line x1="1707.5" y1="908.8" x2="1707.5" y2="1184.2"/><line x1="1862.5" y1="908.8" x2="1862.5" y2="1184.2"/></g><line x1="1707.5" y1="1046.9" x2="1862.5" y2="1046.9" stroke="#000" stroke-width="7"/><g stroke="#000" stroke-opacity="0.86" stroke-width="3.8" stroke-linecap="round"><line x1="1966.2" y1="920" x2="2121.2" y2="920"/><line x1="1966.2" y1="1222.7" x2="2121.2" y2="1222.7"/><line x1="1966.2" y1="920" x2="1966.2" y2="1222.7"/><line x1="2121.2" y1="920" x2="2121.2" y2="1222.7"/></g><line x1="1966.2" y1="1072" x2="2121.2" y2="1072" stroke="#000" stroke-width="7"/><path d="M1521.4 853.3a5.4 5.4 0 1 0 10.8 0a5.4 5.4 0 1 0 -10.8 0M1521.4 860a5.4 5.4 0 1 0 10.8 0a5.4 5.4 0 1 0 -10.8 0M1517 864.6a5.4 5.4 0 1 0 10.8 0a5.4 5.4 0 1 0 -10.8 0M1529 865.3a5.4 5.4 0 1 0 10.8 0a5.4 5.4 0 1 0 -10.8 0M1521.4 866.9a5.4 5.4 0 1 0 10.8 0a5.4 5.4 0 1 0 -10.8 0M1525.8 869.2a5.4 5.4 0 1 0 10.8 0a5.4 5.4 0 1 0 -10.8 0M1530.7 870.5a5.4 5.4 0 1 0 10.8 0a5.4 5.4 0 1 0 -10.8 0M1510.8 871.7a5.4 5.4 0 1 0 10.8 0a5.4 5.4 0 1 0 -10.8 0M1515.6 873.1a5.4 5.4 0 1 0 10.8 0a5.4 5.4 0 1 0 -10.8 0M1521.4 874.3a5.4 5.4 0 1 0 10.8 0a5.4 5.4 0 1 0 -10.8 0M1530.1 875.6a5.4 5.4 0 1 0 10.8 0a5.4 5.4 0 1 0 -10.8 0M1525.4 877.3a5.4 5.4 0 1 0 10.8 0a5.4 5.4 0 1 0 -10.8 0M1517 877.9a5.4 5.4 0 1 0 10.8 0a5.4 5.4 0 1 0 -10.8 0M1521.4 880.2a5.4 5.4 0 1 0 10.8 0a5.4 5.4 0 1 0 -10.8 0M1527.9 881.6a5.4 5.4 0 1 0 10.8 0a5.4 5.4 0 1 0 -10.8 0M1514.7 883.4a5.4 5.4 0 1 0 10.8 0a5.4 5.4 0 1 0 -10.8 0M1523.4 884.8a5.4 5.4 0 1 0 10.8 0a5.4 5.4 0 1 0 -10.8 0M1517.7 887.4a5.4 5.4 0 1 0 10.8 0a5.4 5.4 0 1 0 -10.8 0M1526.4 890.1a5.4 5.4 0 1 0 10.8 0a5.4 5.4 0 1 0 -10.8 0M1521.4 890.7a5.4 5.4 0 1 0 10.8 0a5.4 5.4 0 1 0 -10.8 0M1518.5 894.7a5.4 5.4 0 1 0 10.8 0a5.4 5.4 0 1 0 -10.8 0M1513.7 896.2a5.4 5.4 0 1 0 10.8 0a5.4 5.4 0 1 0 -10.8 0M1525.2 898.2a5.4 5.4 0 1 0 10.8 0a5.4 5.4 0 1 0 -10.8 0M1519.2 900a5.4 5.4 0 1 0 10.8 0a5.4 5.4 0 1 0 -10.8 0M1523.3 902.9a5.4 5.4 0 1 0 10.8 0a5.4 5.4 0 1 0 -10.8 0M1518.9 905.1a5.4 5.4 0 1 0 10.8 0a5.4 5.4 0 1 0 -10.8 0M1526.1 907.6a5.4 5.4 0 1 0 10.8 0a5.4 5.4 0 1 0 -10.8 0M1521.4 909.4a5.4 5.4 0 1 0 10.8 0a5.4 5.4 0 1 0 -10.8 0M1516.8 911.4a5.4 5.4 0 1 0 10.8 0a5.4 5.4 0 1 0 -10.8 0M1529.7 911.8a5.4 5.4 0 1 0 10.8 0a5.4 5.4 0 1 0 -10.8 0M1505.9 912.2a5.4 5.4 0 1 0 10.8 0a5.4 5.4 0 1 0 -10.8 0M1524.9 913a5.4 5.4 0 1 0 10.8 0a5.4 5.4 0 1 0 -10.8 0M1542.2 913.1a5.4 5.4 0 1 0 10.8 0a5.4 5.4 0 1 0 -10.8 0M1496.4 914.4a5.4 5.4 0 1 0 10.8 0a5.4 5.4 0 1 0 -10.8 0M1501.4 914.3a5.4 5.4 0 1 0 10.8 0a5.4 5.4 0 1 0 -10.8 0M1512.3 915.2a5.4 5.4 0 1 0 10.8 0a5.4 5.4 0 1 0 -10.8 0M1535.5 915.8a5.4 5.4 0 1 0 10.8 0a5.4 5.4 0 1 0 -10.8 0M1517.1 916.6a5.4 5.4 0 1 0 10.8 0a5.4 5.4 0 1 0 -10.8 0M1507.6 916.9a5.4 5.4 0 1 0 10.8 0a5.4 5.4 0 1 0 -10.8 0M1540.2 917.7a5.4 5.4 0 1 0 10.8 0a5.4 5.4 0 1 0 -10.8 0M1531.4 918.6a5.4 5.4 0 1 0 10.8 0a5.4 5.4 0 1 0 -10.8 0M1526.4 918.9a5.4 5.4 0 1 0 10.8 0a5.4 5.4 0 1 0 -10.8 0M1521.4 919.1a5.4 5.4 0 1 0 10.8 0a5.4 5.4 0 1 0 -10.8 0M1503.8 920.1a5.4 5.4 0 1 0 10.8 0a5.4 5.4 0 1 0 -10.8 0M1513.9 920.5a5.4 5.4 0 1 0 10.8 0a5.4 5.4 0 1 0 -10.8 0M1498.9 921.2a5.4 5.4 0 1 0 10.8 0a5.4 5.4 0 1 0 -10.8 0M1509.1 921.8a5.4 5.4 0 1 0 10.8 0a5.4 5.4 0 1 0 -10.8 0M1541.8 922.6a5.4 5.4 0 1 0 10.8 0a5.4 5.4 0 1 0 -10.8 0M1536.8 923.2a5.4 5.4 0 1 0 10.8 0a5.4 5.4 0 1 0 -10.8 0M1546.7 923.8a5.4 5.4 0 1 0 10.8 0a5.4 5.4 0 1 0 -10.8 0M1522.4 924.5a5.4 5.4 0 1 0 10.8 0a5.4 5.4 0 1 0 -10.8 0M1532.2 925a5.4 5.4 0 1 0 10.8 0a5.4 5.4 0 1 0 -10.8 0M1527.2 925.8a5.4 5.4 0 1 0 10.8 0a5.4 5.4 0 1 0 -10.8 0M1497.8 926.1a5.4 5.4 0 1 0 10.8 0a5.4 5.4 0 1 0 -10.8 0M1517.8 926.5a5.4 5.4 0 1 0 10.8 0a5.4 5.4 0 1 0 -10.8 0M1502.5 927.8a5.4 5.4 0 1 0 10.8 0a5.4 5.4 0 1 0 -10.8 0M1538.7 927.9a5.4 5.4 0 1 0 10.8 0a5.4 5.4 0 1 0 -10.8 0M1507.4 928.5a5.4 5.4 0 1 0 10.8 0a5.4 5.4 0 1 0 -10.8 0M1512.4 929a5.4 5.4 0 1 0 10.8 0a5.4 5.4 0 1 0 -10.8 0M1521.4 929.9a5.4 5.4 0 1 0 10.8 0a5.4 5.4 0 1 0 -10.8 0M1542.9 930.5a5.4 5.4 0 1 0 10.8 0a5.4 5.4 0 1 0 -10.8 0M1534.1 931a5.4 5.4 0 1 0 10.8 0a5.4 5.4 0 1 0 -10.8 0M1516.7 931.6a5.4 5.4 0 1 0 10.8 0a5.4 5.4 0 1 0 -10.8 0M1497.1 931.6a5.4 5.4 0 1 0 10.8 0a5.4 5.4 0 1 0 -10.8 0M1504.5 932.6a5.4 5.4 0 1 0 10.8 0a5.4 5.4 0 1 0 -10.8 0M1529.4 932.7a5.4 5.4 0 1 0 10.8 0a5.4 5.4 0 1 0 -10.8 0M1550.4 933.5a5.4 5.4 0 1 0 10.8 0a5.4 5.4 0 1 0 -10.8 0M1509.6 933.7a5.4 5.4 0 1 0 10.8 0a5.4 5.4 0 1 0 -10.8 0M1492.8 934.3a5.4 5.4 0 1 0 10.8 0a5.4 5.4 0 1 0 -10.8 0M1545.6 934.7a5.4 5.4 0 1 0 10.8 0a5.4 5.4 0 1 0 -10.8 0M1500.4 935.4a5.4 5.4 0 1 0 10.8 0a5.4 5.4 0 1 0 -10.8 0M1536.9 935.8a5.4 5.4 0 1 0 10.8 0a5.4 5.4 0 1 0 -10.8 0M1521.4 936.2a5.4 5.4 0 1 0 10.8 0a5.4 5.4 0 1 0 -10.8 0M1526.4 936.7a5.4 5.4 0 1 0 10.8 0a5.4 5.4 0 1 0 -10.8 0M1532.1 937a5.4 5.4 0 1 0 10.8 0a5.4 5.4 0 1 0 -10.8 0M1512.6 937.7a5.4 5.4 0 1 0 10.8 0a5.4 5.4 0 1 0 -10.8 0M1506.9 938a5.4 5.4 0 1 0 10.8 0a5.4 5.4 0 1 0 -10.8 0M1555.3 938.7a5.4 5.4 0 1 0 10.8 0a5.4 5.4 0 1 0 -10.8 0M1517.4 939.2a5.4 5.4 0 1 0 10.8 0a5.4 5.4 0 1 0 -10.8 0M1547 939.5a5.4 5.4 0 1 0 10.8 0a5.4 5.4 0 1 0 -10.8 0M1542 940.2a5.4 5.4 0 1 0 10.8 0a5.4 5.4 0 1 0 -10.8 0M1490.9 940.4a5.4 5.4 0 1 0 10.8 0a5.4 5.4 0 1 0 -10.8 0M1537.1 940.9a5.4 5.4 0 1 0 10.8 0a5.4 5.4 0 1 0 -10.8 0M1551.4 941.8a5.4 5.4 0 1 0 10.8 0a5.4 5.4 0 1 0 -10.8 0M1530.2 941.7a5.4 5.4 0 1 0 10.8 0a5.4 5.4 0 1 0 -10.8 0M1500.1 942.5a5.4 5.4 0 1 0 10.8 0a5.4 5.4 0 1 0 -10.8 0M1495.2 943a5.4 5.4 0 1 0 10.8 0a5.4 5.4 0 1 0 -10.8 0M1506 943.2a5.4 5.4 0 1 0 10.8 0a5.4 5.4 0 1 0 -10.8 0M1513.7 943.9a5.4 5.4 0 1 0 10.8 0a5.4 5.4 0 1 0 -10.8 0M1521.4 944.2a5.4 5.4 0 1 0 10.8 0a5.4 5.4 0 1 0 -10.8 0M1544.3 944.7a5.4 5.4 0 1 0 10.8 0a5.4 5.4 0 1 0 -10.8 0M1534.9 945.4a5.4 5.4 0 1 0 10.8 0a5.4 5.4 0 1 0 -10.8 0M1527.1 945.6a5.4 5.4 0 1 0 10.8 0a5.4 5.4 0 1 0 -10.8 0M1539.7 946.6a5.4 5.4 0 1 0 10.8 0a5.4 5.4 0 1 0 -10.8 0M1502.6 946.9a5.4 5.4 0 1 0 10.8 0a5.4 5.4 0 1 0 -10.8 0M1509.1 947.2a5.4 5.4 0 1 0 10.8 0a5.4 5.4 0 1 0 -10.8 0M1497.7 947.8a5.4 5.4 0 1 0 10.8 0a5.4 5.4 0 1 0 -10.8 0M1516.6 948a5.4 5.4 0 1 0 10.8 0a5.4 5.4 0 1 0 -10.8 0M1552.3 948.5a5.4 5.4 0 1 0 10.8 0a5.4 5.4 0 1 0 -10.8 0M1531 948.6a5.4 5.4 0 1 0 10.8 0a5.4 5.4 0 1 0 -10.8 0M1521.4 949.4a5.4 5.4 0 1 0 10.8 0a5.4 5.4 0 1 0 -10.8 0M1493.2 949.9a5.4 5.4 0 1 0 10.8 0a5.4 5.4 0 1 0 -10.8 0M1526.3 950.5a5.4 5.4 0 1 0 10.8 0a5.4 5.4 0 1 0 -10.8 0M1512.5 950.8a5.4 5.4 0 1 0 10.8 0a5.4 5.4 0 1 0 -10.8 0M1506.2 951.3a5.4 5.4 0 1 0 10.8 0a5.4 5.4 0 1 0 -10.8 0M1535.3 951.3a5.4 5.4 0 1 0 10.8 0a5.4 5.4 0 1 0 -10.8 0M1545.1 951.7a5.4 5.4 0 1 0 10.8 0a5.4 5.4 0 1 0 -10.8 0M1540.1 952.5a5.4 5.4 0 1 0 10.8 0a5.4 5.4 0 1 0 -10.8 0M1549.9 952.9a5.4 5.4 0 1 0 10.8 0a5.4 5.4 0 1 0 -10.8 0M1516.9 953.2a5.4 5.4 0 1 0 10.8 0a5.4 5.4 0 1 0 -10.8 0M1497.4 953.6a5.4 5.4 0 1 0 10.8 0a5.4 5.4 0 1 0 -10.8 0M1490.4 954.1a5.4 5.4 0 1 0 10.8 0a5.4 5.4 0 1 0 -10.8 0M1502.3 954.4a5.4 5.4 0 1 0 10.8 0a5.4 5.4 0 1 0 -10.8 0M1530.8 955.1a5.4 5.4 0 1 0 10.8 0a5.4 5.4 0 1 0 -10.8 0M1521.4 955.3a5.4 5.4 0 1 0 10.8 0a5.4 5.4 0 1 0 -10.8 0M1510.5 956.1a5.4 5.4 0 1 0 10.8 0a5.4 5.4 0 1 0 -10.8 0M1543.3 956.4a5.4 5.4 0 1 0 10.8 0a5.4 5.4 0 1 0 -10.8 0M1526.2 956.8a5.4 5.4 0 1 0 10.8 0a5.4 5.4 0 1 0 -10.8 0M1552.8 956.9a5.4 5.4 0 1 0 10.8 0a5.4 5.4 0 1 0 -10.8 0M1486.8 957.5a5.4 5.4 0 1 0 10.8 0a5.4 5.4 0 1 0 -10.8 0M1495 958a5.4 5.4 0 1 0 10.8 0a5.4 5.4 0 1 0 -10.8 0M1547.9 958.4a5.4 5.4 0 1 0 10.8 0a5.4 5.4 0 1 0 -10.8 0M1535.1 958.7a5.4 5.4 0 1 0 10.8 0a5.4 5.4 0 1 0 -10.8 0M1518 959.1a5.4 5.4 0 1 0 10.8 0a5.4 5.4 0 1 0 -10.8 0M1513.1 960.3a5.4 5.4 0 1 0 10.8 0a5.4 5.4 0 1 0 -10.8 0M1503.3 960.3a5.4 5.4 0 1 0 10.8 0a5.4 5.4 0 1 0 -10.8 0M1530.5 960.7a5.4 5.4 0 1 0 10.8 0a5.4 5.4 0 1 0 -10.8 0M1508.2 961.3a5.4 5.4 0 1 0 10.8 0a5.4 5.4 0 1 0 -10.8 0M1538.8 962a5.4 5.4 0 1 0 10.8 0a5.4 5.4 0 1 0 -10.8 0M1543.8 962.2a5.4 5.4 0 1 0 10.8 0a5.4 5.4 0 1 0 -10.8 0M1521.4 962.8a5.4 5.4 0 1 0 10.8 0a5.4 5.4 0 1 0 -10.8 0M1526.3 963.5a5.4 5.4 0 1 0 10.8 0a5.4 5.4 0 1 0 -10.8 0M1490.6 963.7a5.4 5.4 0 1 0 10.8 0a5.4 5.4 0 1 0 -10.8 0M1500.3 964.3a5.4 5.4 0 1 0 10.8 0a5.4 5.4 0 1 0 -10.8 0M1495.4 965a5.4 5.4 0 1 0 10.8 0a5.4 5.4 0 1 0 -10.8 0M1534.4 965.5a5.4 5.4 0 1 0 10.8 0a5.4 5.4 0 1 0 -10.8 0M1505.9 965.7a5.4 5.4 0 1 0 10.8 0a5.4 5.4 0 1 0 -10.8 0M1551.6 966.3a5.4 5.4 0 1 0 10.8 0a5.4 5.4 0 1 0 -10.8 0M1513.1 966.8a5.4 5.4 0 1 0 10.8 0a5.4 5.4 0 1 0 -10.8 0M1529.7 967.2a5.4 5.4 0 1 0 10.8 0a5.4 5.4 0 1 0 -10.8 0M1538.9 967.8a5.4 5.4 0 1 0 10.8 0a5.4 5.4 0 1 0 -10.8 0M1521.4 968a5.4 5.4 0 1 0 10.8 0a5.4 5.4 0 1 0 -10.8 0M1543.8 968.8a5.4 5.4 0 1 0 10.8 0a5.4 5.4 0 1 0 -10.8 0M1492.1 969.5a5.4 5.4 0 1 0 10.8 0a5.4 5.4 0 1 0 -10.8 0M1516.9 970.1a5.4 5.4 0 1 0 10.8 0a5.4 5.4 0 1 0 -10.8 0M1548.6 970.2a5.4 5.4 0 1 0 10.8 0a5.4 5.4 0 1 0 -10.8 0M1525.7 970.6a5.4 5.4 0 1 0 10.8 0a5.4 5.4 0 1 0 -10.8 0M1511 971.3a5.4 5.4 0 1 0 10.8 0a5.4 5.4 0 1 0 -10.8 0M1506.1 972a5.4 5.4 0 1 0 10.8 0a5.4 5.4 0 1 0 -10.8 0M1501.1 972.3a5.4 5.4 0 1 0 10.8 0a5.4 5.4 0 1 0 -10.8 0M1496.1 972.5a5.4 5.4 0 1 0 10.8 0a5.4 5.4 0 1 0 -10.8 0M1534 972.9a5.4 5.4 0 1 0 10.8 0a5.4 5.4 0 1 0 -10.8 0M1538.9 973.9a5.4 5.4 0 1 0 10.8 0a5.4 5.4 0 1 0 -10.8 0M1529.2 974.1a5.4 5.4 0 1 0 10.8 0a5.4 5.4 0 1 0 -10.8 0M1547.6 975.4a5.4 5.4 0 1 0 10.8 0a5.4 5.4 0 1 0 -10.8 0M1516.5 975.6a5.4 5.4 0 1 0 10.8 0a5.4 5.4 0 1 0 -10.8 0M1521.4 976.3a5.4 5.4 0 1 0 10.8 0a5.4 5.4 0 1 0 -10.8 0M1511.8 977.3a5.4 5.4 0 1 0 10.8 0a5.4 5.4 0 1 0 -10.8 0M1543.5 978.3a5.4 5.4 0 1 0 10.8 0a5.4 5.4 0 1 0 -10.8 0M1525.8 978.6a5.4 5.4 0 1 0 10.8 0a5.4 5.4 0 1 0 -10.8 0M1501.1 979.5a5.4 5.4 0 1 0 10.8 0a5.4 5.4 0 1 0 -10.8 0M1535.7 979.9a5.4 5.4 0 1 0 10.8 0a5.4 5.4 0 1 0 -10.8 0M1505.9 980.9a5.4 5.4 0 1 0 10.8 0a5.4 5.4 0 1 0 -10.8 0M1519.3 981a5.4 5.4 0 1 0 10.8 0a5.4 5.4 0 1 0 -10.8 0M1540.2 982.1a5.4 5.4 0 1 0 10.8 0a5.4 5.4 0 1 0 -10.8 0M1531.4 982.4a5.4 5.4 0 1 0 10.8 0a5.4 5.4 0 1 0 -10.8 0M1510.4 983a5.4 5.4 0 1 0 10.8 0a5.4 5.4 0 1 0 -10.8 0M1544.9 984a5.4 5.4 0 1 0 10.8 0a5.4 5.4 0 1 0 -10.8 0M1515.2 984.5a5.4 5.4 0 1 0 10.8 0a5.4 5.4 0 1 0 -10.8 0M1500 985a5.4 5.4 0 1 0 10.8 0a5.4 5.4 0 1 0 -10.8 0M1521.4 985.5a5.4 5.4 0 1 0 10.8 0a5.4 5.4 0 1 0 -10.8 0M1528.2 986.2a5.4 5.4 0 1 0 10.8 0a5.4 5.4 0 1 0 -10.8 0M1549.1 986.7a5.4 5.4 0 1 0 10.8 0a5.4 5.4 0 1 0 -10.8 0M1504.5 987.1a5.4 5.4 0 1 0 10.8 0a5.4 5.4 0 1 0 -10.8 0M1537.8 987.5a5.4 5.4 0 1 0 10.8 0a5.4 5.4 0 1 0 -10.8 0M1532.8 988a5.4 5.4 0 1 0 10.8 0a5.4 5.4 0 1 0 -10.8 0M1495 988.4a5.4 5.4 0 1 0 10.8 0a5.4 5.4 0 1 0 -10.8 0M1517.7 988.8a5.4 5.4 0 1 0 10.8 0a5.4 5.4 0 1 0 -10.8 0M1524.4 989.5a5.4 5.4 0 1 0 10.8 0a5.4 5.4 0 1 0 -10.8 0M1490.2 989.8a5.4 5.4 0 1 0 10.8 0a5.4 5.4 0 1 0 -10.8 0M1543.1 989.9a5.4 5.4 0 1 0 10.8 0a5.4 5.4 0 1 0 -10.8 0M1508.1 990.5a5.4 5.4 0 1 0 10.8 0a5.4 5.4 0 1 0 -10.8 0M1513.1 990.9a5.4 5.4 0 1 0 10.8 0a5.4 5.4 0 1 0 -10.8 0M1498.6 991.9a5.4 5.4 0 1 0 10.8 0a5.4 5.4 0 1 0 -10.8 0M1547.7 992.1a5.4 5.4 0 1 0 10.8 0a5.4 5.4 0 1 0 -10.8 0M1503.6 992.6a5.4 5.4 0 1 0 10.8 0a5.4 5.4 0 1 0 -10.8 0M1530.5 992.9a5.4 5.4 0 1 0 10.8 0a5.4 5.4 0 1 0 -10.8 0M1552.6 993.1a5.4 5.4 0 1 0 10.8 0a5.4 5.4 0 1 0 -10.8 0M1539.8 993.7a5.4 5.4 0 1 0 10.8 0a5.4 5.4 0 1 0 -10.8 0M1487.9 994.2a5.4 5.4 0 1 0 10.8 0a5.4 5.4 0 1 0 -10.8 0M1525.9 994.8a5.4 5.4 0 1 0 10.8 0a5.4 5.4 0 1 0 -10.8 0M1535 995.1a5.4 5.4 0 1 0 10.8 0a5.4 5.4 0 1 0 -10.8 0M1544.4 995.8a5.4 5.4 0 1 0 10.8 0a5.4 5.4 0 1 0 -10.8 0M1496.4 996.3a5.4 5.4 0 1 0 10.8 0a5.4 5.4 0 1 0 -10.8 0M1516.4 996.8a5.4 5.4 0 1 0 10.8 0a5.4 5.4 0 1 0 -10.8 0M1521.4 997.1a5.4 5.4 0 1 0 10.8 0a5.4 5.4 0 1 0 -10.8 0M1506.6 997.7a5.4 5.4 0 1 0 10.8 0a5.4 5.4 0 1 0 -10.8 0M1529.6 998.1a5.4 5.4 0 1 0 10.8 0a5.4 5.4 0 1 0 -10.8 0M1501.7 998.4a5.4 5.4 0 1 0 10.8 0a5.4 5.4 0 1 0 -10.8 0M1492.1 998.8a5.4 5.4 0 1 0 10.8 0a5.4 5.4 0 1 0 -10.8 0M1511.2 999.6a5.4 5.4 0 1 0 10.8 0a5.4 5.4 0 1 0 -10.8 0M1539.3 999.9a5.4 5.4 0 1 0 10.8 0a5.4 5.4 0 1 0 -10.8 0M1549.5 1000.2a5.4 5.4 0 1 0 10.8 0a5.4 5.4 0 1 0 -10.8 0M1554.5 1000.6a5.4 5.4 0 1 0 10.8 0a5.4 5.4 0 1 0 -10.8 0M1518 1001.6a5.4 5.4 0 1 0 10.8 0a5.4 5.4 0 1 0 -10.8 0M1534.6 1001.6a5.4 5.4 0 1 0 10.8 0a5.4 5.4 0 1 0 -10.8 0M1525.2 1002a5.4 5.4 0 1 0 10.8 0a5.4 5.4 0 1 0 -10.8 0M1505.1 1002.6a5.4 5.4 0 1 0 10.8 0a5.4 5.4 0 1 0 -10.8 0M1545.3 1002.8a5.4 5.4 0 1 0 10.8 0a5.4 5.4 0 1 0 -10.8 0M1529.9 1003.5a5.4 5.4 0 1 0 10.8 0a5.4 5.4 0 1 0 -10.8 0M1500.3 1004a5.4 5.4 0 1 0 10.8 0a5.4 5.4 0 1 0 -10.8 0M1513.2 1004.2a5.4 5.4 0 1 0 10.8 0a5.4 5.4 0 1 0 -10.8 0M1540.7 1004.7a5.4 5.4 0 1 0 10.8 0a5.4 5.4 0 1 0 -10.8 0M1521.4 1005.3a5.4 5.4 0 1 0 10.8 0a5.4 5.4 0 1 0 -10.8 0M1508.6 1006.2a5.4 5.4 0 1 0 10.8 0a5.4 5.4 0 1 0 -10.8 0M1533.8 1006.7a5.4 5.4 0 1 0 10.8 0a5.4 5.4 0 1 0 -10.8 0M1516.9 1007.5a5.4 5.4 0 1 0 10.8 0a5.4 5.4 0 1 0 -10.8 0M1525.7 1008.6a5.4 5.4 0 1 0 10.8 0a5.4 5.4 0 1 0 -10.8 0M1512.7 1010.1a5.4 5.4 0 1 0 10.8 0a5.4 5.4 0 1 0 -10.8 0M1521.4 1011.2a5.4 5.4 0 1 0 10.8 0a5.4 5.4 0 1 0 -10.8 0M1529 1012.3a5.4 5.4 0 1 0 10.8 0a5.4 5.4 0 1 0 -10.8 0M1534 1012.8a5.4 5.4 0 1 0 10.8 0a5.4 5.4 0 1 0 -10.8 0M1517.3 1014.1a5.4 5.4 0 1 0 10.8 0a5.4 5.4 0 1 0 -10.8 0M1493.8 1014.3a5.4 5.4 0 1 0 10.8 0a5.4 5.4 0 1 0 -10.8 0M1543 1015a5.4 5.4 0 1 0 10.8 0a5.4 5.4 0 1 0 -10.8 0M1508.8 1014.9a5.4 5.4 0 1 0 10.8 0a5.4 5.4 0 1 0 -10.8 0M1548 1015.5a5.4 5.4 0 1 0 10.8 0a5.4 5.4 0 1 0 -10.8 0M1552.9 1016a5.4 5.4 0 1 0 10.8 0a5.4 5.4 0 1 0 -10.8 0M1538.1 1016.2a5.4 5.4 0 1 0 10.8 0a5.4 5.4 0 1 0 -10.8 0M1502.2 1016.8a5.4 5.4 0 1 0 10.8 0a5.4 5.4 0 1 0 -10.8 0M1513.3 1017.1a5.4 5.4 0 1 0 10.8 0a5.4 5.4 0 1 0 -10.8 0M1527.2 1017.4a5.4 5.4 0 1 0 10.8 0a5.4 5.4 0 1 0 -10.8 0M1497.3 1017.9a5.4 5.4 0 1 0 10.8 0a5.4 5.4 0 1 0 -10.8 0M1533.6 1018.3a5.4 5.4 0 1 0 10.8 0a5.4 5.4 0 1 0 -10.8 0M1522.4 1018.8a5.4 5.4 0 1 0 10.8 0a5.4 5.4 0 1 0 -10.8 0M1492.5 1019.2a5.4 5.4 0 1 0 10.8 0a5.4 5.4 0 1 0 -10.8 0M1506.4 1019.4a5.4 5.4 0 1 0 10.8 0a5.4 5.4 0 1 0 -10.8 0M1544.5 1019.8a5.4 5.4 0 1 0 10.8 0a5.4 5.4 0 1 0 -10.8 0M1549.5 1020.5a5.4 5.4 0 1 0 10.8 0a5.4 5.4 0 1 0 -10.8 0M1517.8 1020.7a5.4 5.4 0 1 0 10.8 0a5.4 5.4 0 1 0 -10.8 0M1557.7 1021a5.4 5.4 0 1 0 10.8 0a5.4 5.4 0 1 0 -10.8 0M1529.9 1021.6a5.4 5.4 0 1 0 10.8 0a5.4 5.4 0 1 0 -10.8 0M1480.4 1021.9a5.4 5.4 0 1 0 10.8 0a5.4 5.4 0 1 0 -10.8 0M1485.4 1022.5a5.4 5.4 0 1 0 10.8 0a5.4 5.4 0 1 0 -10.8 0M1502.7 1022.7a5.4 5.4 0 1 0 10.8 0a5.4 5.4 0 1 0 -10.8 0M1509.6 1023.3a5.4 5.4 0 1 0 10.8 0a5.4 5.4 0 1 0 -10.8 0M1553.4 1023.6a5.4 5.4 0 1 0 10.8 0a5.4 5.4 0 1 0 -10.8 0M1490.2 1023.7a5.4 5.4 0 1 0 10.8 0a5.4 5.4 0 1 0 -10.8 0M1521.4 1024.2a5.4 5.4 0 1 0 10.8 0a5.4 5.4 0 1 0 -10.8 0M1540.8 1024.8a5.4 5.4 0 1 0 10.8 0a5.4 5.4 0 1 0 -10.8 0M1535.8 1024.9a5.4 5.4 0 1 0 10.8 0a5.4 5.4 0 1 0 -10.8 0M1526.2 1025.6a5.4 5.4 0 1 0 10.8 0a5.4 5.4 0 1 0 -10.8 0M1499 1026.1a5.4 5.4 0 1 0 10.8 0a5.4 5.4 0 1 0 -10.8 0M1545.6 1026.2a5.4 5.4 0 1 0 10.8 0a5.4 5.4 0 1 0 -10.8 0M1531.1 1026.7a5.4 5.4 0 1 0 10.8 0a5.4 5.4 0 1 0 -10.8 0M1512.6 1027.3a5.4 5.4 0 1 0 10.8 0a5.4 5.4 0 1 0 -10.8 0M1517.6 1027.4a5.4 5.4 0 1 0 10.8 0a5.4 5.4 0 1 0 -10.8 0M1507.8 1028.4a5.4 5.4 0 1 0 10.8 0a5.4 5.4 0 1 0 -10.8 0M1521.9 1030.1a5.4 5.4 0 1 0 10.8 0a5.4 5.4 0 1 0 -10.8 0M1528.3 1031.7a5.4 5.4 0 1 0 10.8 0a5.4 5.4 0 1 0 -10.8 0M1512.4 1032.8a5.4 5.4 0 1 0 10.8 0a5.4 5.4 0 1 0 -10.8 0M1517.1 1034.4a5.4 5.4 0 1 0 10.8 0a5.4 5.4 0 1 0 -10.8 0M1543.1 1035.2a5.4 5.4 0 1 0 10.8 0a5.4 5.4 0 1 0 -10.8 0M1533.2 1035.7a5.4 5.4 0 1 0 10.8 0a5.4 5.4 0 1 0 -10.8 0M1499.6 1036.1a5.4 5.4 0 1 0 10.8 0a5.4 5.4 0 1 0 -10.8 0M1526.4 1036.3a5.4 5.4 0 1 0 10.8 0a5.4 5.4 0 1 0 -10.8 0M1521.4 1037a5.4 5.4 0 1 0 10.8 0a5.4 5.4 0 1 0 -10.8 0M1494.7 1037.2a5.4 5.4 0 1 0 10.8 0a5.4 5.4 0 1 0 -10.8 0M1513.1 1037.8a5.4 5.4 0 1 0 10.8 0a5.4 5.4 0 1 0 -10.8 0M1508.1 1038a5.4 5.4 0 1 0 10.8 0a5.4 5.4 0 1 0 -10.8 0M1539.6 1038.7a5.4 5.4 0 1 0 10.8 0a5.4 5.4 0 1 0 -10.8 0M1503.3 1039.4a5.4 5.4 0 1 0 10.8 0a5.4 5.4 0 1 0 -10.8 0M1530.1 1039.7a5.4 5.4 0 1 0 10.8 0a5.4 5.4 0 1 0 -10.8 0M1546.9 1040.3a5.4 5.4 0 1 0 10.8 0a5.4 5.4 0 1 0 -10.8 0M1517.5 1040.2a5.4 5.4 0 1 0 10.8 0a5.4 5.4 0 1 0 -10.8 0M1535 1040.6a5.4 5.4 0 1 0 10.8 0a5.4 5.4 0 1 0 -10.8 0M1551.8 1041.4a5.4 5.4 0 1 0 10.8 0a5.4 5.4 0 1 0 -10.8 0M1499 1041.8a5.4 5.4 0 1 0 10.8 0a5.4 5.4 0 1 0 -10.8 0M1556.7 1042.2a5.4 5.4 0 1 0 10.8 0a5.4 5.4 0 1 0 -10.8 0M1542.5 1042.8a5.4 5.4 0 1 0 10.8 0a5.4 5.4 0 1 0 -10.8 0M1521.4 1043.3a5.4 5.4 0 1 0 10.8 0a5.4 5.4 0 1 0 -10.8 0M1494.3 1043.7a5.4 5.4 0 1 0 10.8 0a5.4 5.4 0 1 0 -10.8 0M1489.4 1044.4a5.4 5.4 0 1 0 10.8 0a5.4 5.4 0 1 0 -10.8 0M1526.2 1044.7a5.4 5.4 0 1 0 10.8 0a5.4 5.4 0 1 0 -10.8 0M1512 1045a5.4 5.4 0 1 0 10.8 0a5.4 5.4 0 1 0 -10.8 0M1537.2 1045.1a5.4 5.4 0 1 0 10.8 0a5.4 5.4 0 1 0 -10.8 0M1517 1045.7a5.4 5.4 0 1 0 10.8 0a5.4 5.4 0 1 0 -10.8 0M1503.1 1046.2a5.4 5.4 0 1 0 10.8 0a5.4 5.4 0 1 0 -10.8 0M1530.5 1047.3a5.4 5.4 0 1 0 10.8 0a5.4 5.4 0 1 0 -10.8 0M1507.9 1047.8a5.4 5.4 0 1 0 10.8 0a5.4 5.4 0 1 0 -10.8 0M1522.2 1048.2a5.4 5.4 0 1 0 10.8 0a5.4 5.4 0 1 0 -10.8 0M1540 1049.2a5.4 5.4 0 1 0 10.8 0a5.4 5.4 0 1 0 -10.8 0M1499.4 1049.6a5.4 5.4 0 1 0 10.8 0a5.4 5.4 0 1 0 -10.8 0M1544.9 1050.5a5.4 5.4 0 1 0 10.8 0a5.4 5.4 0 1 0 -10.8 0M1518 1051a5.4 5.4 0 1 0 10.8 0a5.4 5.4 0 1 0 -10.8 0M1504.8 1051.7a5.4 5.4 0 1 0 10.8 0a5.4 5.4 0 1 0 -10.8 0M1525.6 1051.9a5.4 5.4 0 1 0 10.8 0a5.4 5.4 0 1 0 -10.8 0M1495.9 1053.2a5.4 5.4 0 1 0 10.8 0a5.4 5.4 0 1 0 -10.8 0M1510.1 1053.4a5.4 5.4 0 1 0 10.8 0a5.4 5.4 0 1 0 -10.8 0M1537.4 1053.9a5.4 5.4 0 1 0 10.8 0a5.4 5.4 0 1 0 -10.8 0M1521.4 1054.7a5.4 5.4 0 1 0 10.8 0a5.4 5.4 0 1 0 -10.8 0M1532.5 1054.9a5.4 5.4 0 1 0 10.8 0a5.4 5.4 0 1 0 -10.8 0M1543.7 1055.7a5.4 5.4 0 1 0 10.8 0a5.4 5.4 0 1 0 -10.8 0M1489.7 1056.1a5.4 5.4 0 1 0 10.8 0a5.4 5.4 0 1 0 -10.8 0M1503.1 1057a5.4 5.4 0 1 0 10.8 0a5.4 5.4 0 1 0 -10.8 0M1513.1 1057.4a5.4 5.4 0 1 0 10.8 0a5.4 5.4 0 1 0 -10.8 0M1508 1058a5.4 5.4 0 1 0 10.8 0a5.4 5.4 0 1 0 -10.8 0M1518 1058.4a5.4 5.4 0 1 0 10.8 0a5.4 5.4 0 1 0 -10.8 0M1529.5 1058.9a5.4 5.4 0 1 0 10.8 0a5.4 5.4 0 1 0 -10.8 0M1551.4 1059.7a5.4 5.4 0 1 0 10.8 0a5.4 5.4 0 1 0 -10.8 0M1492.6 1060.2a5.4 5.4 0 1 0 10.8 0a5.4 5.4 0 1 0 -10.8 0M1541.9 1060.4a5.4 5.4 0 1 0 10.8 0a5.4 5.4 0 1 0 -10.8 0M1546.8 1061.4a5.4 5.4 0 1 0 10.8 0a5.4 5.4 0 1 0 -10.8 0M1537.1 1062a5.4 5.4 0 1 0 10.8 0a5.4 5.4 0 1 0 -10.8 0M1526.3 1062.7a5.4 5.4 0 1 0 10.8 0a5.4 5.4 0 1 0 -10.8 0M1496.9 1062.7a5.4 5.4 0 1 0 10.8 0a5.4 5.4 0 1 0 -10.8 0M1501.8 1063.8a5.4 5.4 0 1 0 10.8 0a5.4 5.4 0 1 0 -10.8 0M1521.4 1063.9a5.4 5.4 0 1 0 10.8 0a5.4 5.4 0 1 0 -10.8 0M1508.4 1064.9a5.4 5.4 0 1 0 10.8 0a5.4 5.4 0 1 0 -10.8 0M1513.4 1065.1a5.4 5.4 0 1 0 10.8 0a5.4 5.4 0 1 0 -10.8 0M1543.5 1065.4a5.4 5.4 0 1 0 10.8 0a5.4 5.4 0 1 0 -10.8 0M1530.1 1065.9a5.4 5.4 0 1 0 10.8 0a5.4 5.4 0 1 0 -10.8 0M1535.1 1066.5a5.4 5.4 0 1 0 10.8 0a5.4 5.4 0 1 0 -10.8 0M1517.9 1067.4a5.4 5.4 0 1 0 10.8 0a5.4 5.4 0 1 0 -10.8 0M1504.5 1068a5.4 5.4 0 1 0 10.8 0a5.4 5.4 0 1 0 -10.8 0M1539.6 1068.6a5.4 5.4 0 1 0 10.8 0a5.4 5.4 0 1 0 -10.8 0M1525.5 1069.1a5.4 5.4 0 1 0 10.8 0a5.4 5.4 0 1 0 -10.8 0M1499.8 1069.8a5.4 5.4 0 1 0 10.8 0a5.4 5.4 0 1 0 -10.8 0M1514.3 1070.9a5.4 5.4 0 1 0 10.8 0a5.4 5.4 0 1 0 -10.8 0M1509.3 1071.3a5.4 5.4 0 1 0 10.8 0a5.4 5.4 0 1 0 -10.8 0M1521.4 1072a5.4 5.4 0 1 0 10.8 0a5.4 5.4 0 1 0 -10.8 0M1530.5 1073a5.4 5.4 0 1 0 10.8 0a5.4 5.4 0 1 0 -10.8 0M1535.4 1074.2a5.4 5.4 0 1 0 10.8 0a5.4 5.4 0 1 0 -10.8 0M1525.9 1075.1a5.4 5.4 0 1 0 10.8 0a5.4 5.4 0 1 0 -10.8 0M1516.5 1076a5.4 5.4 0 1 0 10.8 0a5.4 5.4 0 1 0 -10.8 0M1511.6 1076.7a5.4 5.4 0 1 0 10.8 0a5.4 5.4 0 1 0 -10.8 0M1521.4 1077.2a5.4 5.4 0 1 0 10.8 0a5.4 5.4 0 1 0 -10.8 0M1530 1078.5a5.4 5.4 0 1 0 10.8 0a5.4 5.4 0 1 0 -10.8 0M1506.5 1078.7a5.4 5.4 0 1 0 10.8 0a5.4 5.4 0 1 0 -10.8 0M1534.8 1080a5.4 5.4 0 1 0 10.8 0a5.4 5.4 0 1 0 -10.8 0M1525.7 1081a5.4 5.4 0 1 0 10.8 0a5.4 5.4 0 1 0 -10.8 0M1514.8 1081.4a5.4 5.4 0 1 0 10.8 0a5.4 5.4 0 1 0 -10.8 0M1509.9 1082.4a5.4 5.4 0 1 0 10.8 0a5.4 5.4 0 1 0 -10.8 0M1521.4 1083.6a5.4 5.4 0 1 0 10.8 0a5.4 5.4 0 1 0 -10.8 0M1517 1085.9a5.4 5.4 0 1 0 10.8 0a5.4 5.4 0 1 0 -10.8 0M1524.9 1087.1a5.4 5.4 0 1 0 10.8 0a5.4 5.4 0 1 0 -10.8 0M1513.6 1089.6a5.4 5.4 0 1 0 10.8 0a5.4 5.4 0 1 0 -10.8 0M1523.1 1092a5.4 5.4 0 1 0 10.8 0a5.4 5.4 0 1 0 -10.8 0M1527.6 1094.1a5.4 5.4 0 1 0 10.8 0a5.4 5.4 0 1 0 -10.8 0M1515.2 1094.7a5.4 5.4 0 1 0 10.8 0a5.4 5.4 0 1 0 -10.8 0M1520 1096a5.4 5.4 0 1 0 10.8 0a5.4 5.4 0 1 0 -10.8 0M1529.4 1098.9a5.4 5.4 0 1 0 10.8 0a5.4 5.4 0 1 0 -10.8 0M1516.5 1099.9a5.4 5.4 0 1 0 10.8 0a5.4 5.4 0 1 0 -10.8 0M1521.4 1100.8a5.4 5.4 0 1 0 10.8 0a5.4 5.4 0 1 0 -10.8 0M1526 1102.6a5.4 5.4 0 1 0 10.8 0a5.4 5.4 0 1 0 -10.8 0M1519.2 1105.3a5.4 5.4 0 1 0 10.8 0a5.4 5.4 0 1 0 -10.8 0M1521.4 1113.6a5.4 5.4 0 1 0 10.8 0a5.4 5.4 0 1 0 -10.8 0M1518.4 1117.6a5.4 5.4 0 1 0 10.8 0a5.4 5.4 0 1 0 -10.8 0M1522.9 1119.8a5.4 5.4 0 1 0 10.8 0a5.4 5.4 0 1 0 -10.8 0M1516.7 1122.3a5.4 5.4 0 1 0 10.8 0a5.4 5.4 0 1 0 -10.8 0M1528.2 1125.1a5.4 5.4 0 1 0 10.8 0a5.4 5.4 0 1 0 -10.8 0M1523.6 1126.9a5.4 5.4 0 1 0 10.8 0a5.4 5.4 0 1 0 -10.8 0M1518.7 1128.1a5.4 5.4 0 1 0 10.8 0a5.4 5.4 0 1 0 -10.8 0M1526.3 1131.7a5.4 5.4 0 1 0 10.8 0a5.4 5.4 0 1 0 -10.8 0M1521.4 1132.4a5.4 5.4 0 1 0 10.8 0a5.4 5.4 0 1 0 -10.8 0M1515.2 1134.8a5.4 5.4 0 1 0 10.8 0a5.4 5.4 0 1 0 -10.8 0M1523.8 1136.7a5.4 5.4 0 1 0 10.8 0a5.4 5.4 0 1 0 -10.8 0M1517.4 1139.3a5.4 5.4 0 1 0 10.8 0a5.4 5.4 0 1 0 -10.8 0M1521.4 1142.3a5.4 5.4 0 1 0 10.8 0a5.4 5.4 0 1 0 -10.8 0M1517.8 1146.1a5.4 5.4 0 1 0 10.8 0a5.4 5.4 0 1 0 -10.8 0M1521.4 1149.5a5.4 5.4 0 1 0 10.8 0a5.4 5.4 0 1 0 -10.8 0M1521.4 1155.9a5.4 5.4 0 1 0 10.8 0a5.4 5.4 0 1 0 -10.8 0M1521.4 1164.3a5.4 5.4 0 1 0 10.8 0a5.4 5.4 0 1 0 -10.8 0M1521.6 779.6a5.4 5.4 0 1 0 10.8 0a5.4 5.4 0 1 0 -10.8 0M1525.6 804a5.4 5.4 0 1 0 10.8 0a5.4 5.4 0 1 0 -10.8 0M1521 814a5.4 5.4 0 1 0 10.8 0a5.4 5.4 0 1 0 -10.8 0M1522.2 828.6a5.4 5.4 0 1 0 10.8 0a5.4 5.4 0 1 0 -10.8 0M1516.6 843.2a5.4 5.4 0 1 0 10.8 0a5.4 5.4 0 1 0 -10.8 0M1526.6 843.2a5.4 5.4 0 1 0 10.8 0a5.4 5.4 0 1 0 -10.8 0M1520.6 1179a5.4 5.4 0 1 0 10.8 0a5.4 5.4 0 1 0 -10.8 0M1525.6 1185a5.4 5.4 0 1 0 10.8 0a5.4 5.4 0 1 0 -10.8 0M1520.6 1188a5.4 5.4 0 1 0 10.8 0a5.4 5.4 0 1 0 -10.8 0M1521.2 1212.3a5.4 5.4 0 1 0 10.8 0a5.4 5.4 0 1 0 -10.8 0M1521.2 1257a5.4 5.4 0 1 0 10.8 0a5.4 5.4 0 1 0 -10.8 0M1526.4 1255.6a5.4 5.4 0 1 0 10.8 0a5.4 5.4 0 1 0 -10.8 0M1521.2 1271.8a5.4 5.4 0 1 0 10.8 0a5.4 5.4 0 1 0 -10.8 0M1521.2 1281.3a5.4 5.4 0 1 0 10.8 0a5.4 5.4 0 1 0 -10.8 0M1521.2 1308.5a5.4 5.4 0 1 0 10.8 0a5.4 5.4 0 1 0 -10.8 0" fill="#545454"/><path d="M1781 918.1a5.4 5.4 0 1 0 10.8 0a5.4 5.4 0 1 0 -10.8 0M1775.6 920.4a5.4 5.4 0 1 0 10.8 0a5.4 5.4 0 1 0 -10.8 0M1779.9 923a5.4 5.4 0 1 0 10.8 0a5.4 5.4 0 1 0 -10.8 0M1784.8 923.9a5.4 5.4 0 1 0 10.8 0a5.4 5.4 0 1 0 -10.8 0M1776.4 926.5a5.4 5.4 0 1 0 10.8 0a5.4 5.4 0 1 0 -10.8 0M1784.7 930.3a5.4 5.4 0 1 0 10.8 0a5.4 5.4 0 1 0 -10.8 0M1779.9 931.6a5.4 5.4 0 1 0 10.8 0a5.4 5.4 0 1 0 -10.8 0M1771.3 933a5.4 5.4 0 1 0 10.8 0a5.4 5.4 0 1 0 -10.8 0M1776 934.7a5.4 5.4 0 1 0 10.8 0a5.4 5.4 0 1 0 -10.8 0M1785.5 936.2a5.4 5.4 0 1 0 10.8 0a5.4 5.4 0 1 0 -10.8 0M1772.2 938a5.4 5.4 0 1 0 10.8 0a5.4 5.4 0 1 0 -10.8 0M1782.2 939.9a5.4 5.4 0 1 0 10.8 0a5.4 5.4 0 1 0 -10.8 0M1777.2 940.5a5.4 5.4 0 1 0 10.8 0a5.4 5.4 0 1 0 -10.8 0M1785.8 943.3a5.4 5.4 0 1 0 10.8 0a5.4 5.4 0 1 0 -10.8 0M1779.9 944.7a5.4 5.4 0 1 0 10.8 0a5.4 5.4 0 1 0 -10.8 0M1775.2 946.5a5.4 5.4 0 1 0 10.8 0a5.4 5.4 0 1 0 -10.8 0M1789 947.4a5.4 5.4 0 1 0 10.8 0a5.4 5.4 0 1 0 -10.8 0M1771 949.2a5.4 5.4 0 1 0 10.8 0a5.4 5.4 0 1 0 -10.8 0M1779.9 951.5a5.4 5.4 0 1 0 10.8 0a5.4 5.4 0 1 0 -10.8 0M1787 952a5.4 5.4 0 1 0 10.8 0a5.4 5.4 0 1 0 -10.8 0M1776.4 955.1a5.4 5.4 0 1 0 10.8 0a5.4 5.4 0 1 0 -10.8 0M1784 956.1a5.4 5.4 0 1 0 10.8 0a5.4 5.4 0 1 0 -10.8 0M1772.1 957.6a5.4 5.4 0 1 0 10.8 0a5.4 5.4 0 1 0 -10.8 0M1779.9 958.9a5.4 5.4 0 1 0 10.8 0a5.4 5.4 0 1 0 -10.8 0M1788.5 961a5.4 5.4 0 1 0 10.8 0a5.4 5.4 0 1 0 -10.8 0M1775.9 962.7a5.4 5.4 0 1 0 10.8 0a5.4 5.4 0 1 0 -10.8 0M1785.2 964.7a5.4 5.4 0 1 0 10.8 0a5.4 5.4 0 1 0 -10.8 0M1779.9 965.8a5.4 5.4 0 1 0 10.8 0a5.4 5.4 0 1 0 -10.8 0M1775.3 967.7a5.4 5.4 0 1 0 10.8 0a5.4 5.4 0 1 0 -10.8 0M1783.4 969.4a5.4 5.4 0 1 0 10.8 0a5.4 5.4 0 1 0 -10.8 0M1788.2 970.5a5.4 5.4 0 1 0 10.8 0a5.4 5.4 0 1 0 -10.8 0M1773.5 972.4a5.4 5.4 0 1 0 10.8 0a5.4 5.4 0 1 0 -10.8 0M1779.9 973a5.4 5.4 0 1 0 10.8 0a5.4 5.4 0 1 0 -10.8 0M1769.8 975.7a5.4 5.4 0 1 0 10.8 0a5.4 5.4 0 1 0 -10.8 0M1789.2 975.9a5.4 5.4 0 1 0 10.8 0a5.4 5.4 0 1 0 -10.8 0M1784.7 978a5.4 5.4 0 1 0 10.8 0a5.4 5.4 0 1 0 -10.8 0M1779.9 979.4a5.4 5.4 0 1 0 10.8 0a5.4 5.4 0 1 0 -10.8 0M1775.2 981.2a5.4 5.4 0 1 0 10.8 0a5.4 5.4 0 1 0 -10.8 0M1787.5 982.2a5.4 5.4 0 1 0 10.8 0a5.4 5.4 0 1 0 -10.8 0M1782.7 983.6a5.4 5.4 0 1 0 10.8 0a5.4 5.4 0 1 0 -10.8 0M1792.9 985.2a5.4 5.4 0 1 0 10.8 0a5.4 5.4 0 1 0 -10.8 0M1770.5 986a5.4 5.4 0 1 0 10.8 0a5.4 5.4 0 1 0 -10.8 0M1775.5 986.7a5.4 5.4 0 1 0 10.8 0a5.4 5.4 0 1 0 -10.8 0M1788.9 988.2a5.4 5.4 0 1 0 10.8 0a5.4 5.4 0 1 0 -10.8 0M1779.9 989.1a5.4 5.4 0 1 0 10.8 0a5.4 5.4 0 1 0 -10.8 0M1784.6 990.8a5.4 5.4 0 1 0 10.8 0a5.4 5.4 0 1 0 -10.8 0M1772 991.4a5.4 5.4 0 1 0 10.8 0a5.4 5.4 0 1 0 -10.8 0M1776.8 993a5.4 5.4 0 1 0 10.8 0a5.4 5.4 0 1 0 -10.8 0M1787.5 994.8a5.4 5.4 0 1 0 10.8 0a5.4 5.4 0 1 0 -10.8 0M1769.2 995.6a5.4 5.4 0 1 0 10.8 0a5.4 5.4 0 1 0 -10.8 0M1779.9 997.1a5.4 5.4 0 1 0 10.8 0a5.4 5.4 0 1 0 -10.8 0M1775 998.1a5.4 5.4 0 1 0 10.8 0a5.4 5.4 0 1 0 -10.8 0M1784.4 999.4a5.4 5.4 0 1 0 10.8 0a5.4 5.4 0 1 0 -10.8 0M1789.3 999.9a5.4 5.4 0 1 0 10.8 0a5.4 5.4 0 1 0 -10.8 0M1766.1 1000.6a5.4 5.4 0 1 0 10.8 0a5.4 5.4 0 1 0 -10.8 0M1793.8 1002.1a5.4 5.4 0 1 0 10.8 0a5.4 5.4 0 1 0 -10.8 0M1779.9 1002.5a5.4 5.4 0 1 0 10.8 0a5.4 5.4 0 1 0 -10.8 0M1775 1003.4a5.4 5.4 0 1 0 10.8 0a5.4 5.4 0 1 0 -10.8 0M1769.5 1004.1a5.4 5.4 0 1 0 10.8 0a5.4 5.4 0 1 0 -10.8 0M1764.3 1005.2a5.4 5.4 0 1 0 10.8 0a5.4 5.4 0 1 0 -10.8 0M1796.5 1006.3a5.4 5.4 0 1 0 10.8 0a5.4 5.4 0 1 0 -10.8 0M1789.3 1007.3a5.4 5.4 0 1 0 10.8 0a5.4 5.4 0 1 0 -10.8 0M1784.4 1008.2a5.4 5.4 0 1 0 10.8 0a5.4 5.4 0 1 0 -10.8 0M1772.4 1008.2a5.4 5.4 0 1 0 10.8 0a5.4 5.4 0 1 0 -10.8 0M1767.7 1010a5.4 5.4 0 1 0 10.8 0a5.4 5.4 0 1 0 -10.8 0M1779.9 1010.3a5.4 5.4 0 1 0 10.8 0a5.4 5.4 0 1 0 -10.8 0M1763 1011.6a5.4 5.4 0 1 0 10.8 0a5.4 5.4 0 1 0 -10.8 0M1775.3 1012.3a5.4 5.4 0 1 0 10.8 0a5.4 5.4 0 1 0 -10.8 0M1792.7 1013.4a5.4 5.4 0 1 0 10.8 0a5.4 5.4 0 1 0 -10.8 0M1783.2 1014.1a5.4 5.4 0 1 0 10.8 0a5.4 5.4 0 1 0 -10.8 0M1788.1 1015.2a5.4 5.4 0 1 0 10.8 0a5.4 5.4 0 1 0 -10.8 0M1765.2 1016.2a5.4 5.4 0 1 0 10.8 0a5.4 5.4 0 1 0 -10.8 0M1770.2 1016.8a5.4 5.4 0 1 0 10.8 0a5.4 5.4 0 1 0 -10.8 0M1779.9 1018a5.4 5.4 0 1 0 10.8 0a5.4 5.4 0 1 0 -10.8 0M1774.9 1018.3a5.4 5.4 0 1 0 10.8 0a5.4 5.4 0 1 0 -10.8 0M1792.1 1019.8a5.4 5.4 0 1 0 10.8 0a5.4 5.4 0 1 0 -10.8 0M1787.2 1020.3a5.4 5.4 0 1 0 10.8 0a5.4 5.4 0 1 0 -10.8 0M1763.2 1021.8a5.4 5.4 0 1 0 10.8 0a5.4 5.4 0 1 0 -10.8 0M1768.1 1022.5a5.4 5.4 0 1 0 10.8 0a5.4 5.4 0 1 0 -10.8 0M1773.1 1023.1a5.4 5.4 0 1 0 10.8 0a5.4 5.4 0 1 0 -10.8 0M1779.9 1024.3a5.4 5.4 0 1 0 10.8 0a5.4 5.4 0 1 0 -10.8 0M1784.9 1024.8a5.4 5.4 0 1 0 10.8 0a5.4 5.4 0 1 0 -10.8 0M1791.2 1025.8a5.4 5.4 0 1 0 10.8 0a5.4 5.4 0 1 0 -10.8 0M1766.1 1027.2a5.4 5.4 0 1 0 10.8 0a5.4 5.4 0 1 0 -10.8 0M1775.9 1027.3a5.4 5.4 0 1 0 10.8 0a5.4 5.4 0 1 0 -10.8 0M1771 1028.4a5.4 5.4 0 1 0 10.8 0a5.4 5.4 0 1 0 -10.8 0M1761.4 1028.8a5.4 5.4 0 1 0 10.8 0a5.4 5.4 0 1 0 -10.8 0M1787.4 1029a5.4 5.4 0 1 0 10.8 0a5.4 5.4 0 1 0 -10.8 0M1793.8 1030a5.4 5.4 0 1 0 10.8 0a5.4 5.4 0 1 0 -10.8 0M1798.8 1030.6a5.4 5.4 0 1 0 10.8 0a5.4 5.4 0 1 0 -10.8 0M1779.9 1031.1a5.4 5.4 0 1 0 10.8 0a5.4 5.4 0 1 0 -10.8 0M1767.5 1032a5.4 5.4 0 1 0 10.8 0a5.4 5.4 0 1 0 -10.8 0M1775 1032.2a5.4 5.4 0 1 0 10.8 0a5.4 5.4 0 1 0 -10.8 0M1759.6 1033.5a5.4 5.4 0 1 0 10.8 0a5.4 5.4 0 1 0 -10.8 0M1802.5 1034a5.4 5.4 0 1 0 10.8 0a5.4 5.4 0 1 0 -10.8 0M1783.5 1034.5a5.4 5.4 0 1 0 10.8 0a5.4 5.4 0 1 0 -10.8 0M1788.5 1035.2a5.4 5.4 0 1 0 10.8 0a5.4 5.4 0 1 0 -10.8 0M1793.4 1035.9a5.4 5.4 0 1 0 10.8 0a5.4 5.4 0 1 0 -10.8 0M1764.6 1036.1a5.4 5.4 0 1 0 10.8 0a5.4 5.4 0 1 0 -10.8 0M1798.4 1036.7a5.4 5.4 0 1 0 10.8 0a5.4 5.4 0 1 0 -10.8 0M1777.7 1037.5a5.4 5.4 0 1 0 10.8 0a5.4 5.4 0 1 0 -10.8 0M1758.1 1038.2a5.4 5.4 0 1 0 10.8 0a5.4 5.4 0 1 0 -10.8 0M1785.4 1039.1a5.4 5.4 0 1 0 10.8 0a5.4 5.4 0 1 0 -10.8 0M1773.2 1039.7a5.4 5.4 0 1 0 10.8 0a5.4 5.4 0 1 0 -10.8 0M1768.3 1040.6a5.4 5.4 0 1 0 10.8 0a5.4 5.4 0 1 0 -10.8 0M1790.1 1040.9a5.4 5.4 0 1 0 10.8 0a5.4 5.4 0 1 0 -10.8 0M1779.9 1042a5.4 5.4 0 1 0 10.8 0a5.4 5.4 0 1 0 -10.8 0M1794 1044.1a5.4 5.4 0 1 0 10.8 0a5.4 5.4 0 1 0 -10.8 0M1784 1045a5.4 5.4 0 1 0 10.8 0a5.4 5.4 0 1 0 -10.8 0M1772 1046.3a5.4 5.4 0 1 0 10.8 0a5.4 5.4 0 1 0 -10.8 0M1776.9 1047.2a5.4 5.4 0 1 0 10.8 0a5.4 5.4 0 1 0 -10.8 0M1790.5 1048.7a5.4 5.4 0 1 0 10.8 0a5.4 5.4 0 1 0 -10.8 0M1767.5 1049.5a5.4 5.4 0 1 0 10.8 0a5.4 5.4 0 1 0 -10.8 0M1796.8 1050.7a5.4 5.4 0 1 0 10.8 0a5.4 5.4 0 1 0 -10.8 0M1779.9 1051.2a5.4 5.4 0 1 0 10.8 0a5.4 5.4 0 1 0 -10.8 0M1775.1 1052.4a5.4 5.4 0 1 0 10.8 0a5.4 5.4 0 1 0 -10.8 0M1787.9 1053a5.4 5.4 0 1 0 10.8 0a5.4 5.4 0 1 0 -10.8 0M1770.2 1053.7a5.4 5.4 0 1 0 10.8 0a5.4 5.4 0 1 0 -10.8 0M1792.8 1053.8a5.4 5.4 0 1 0 10.8 0a5.4 5.4 0 1 0 -10.8 0M1783.3 1054.9a5.4 5.4 0 1 0 10.8 0a5.4 5.4 0 1 0 -10.8 0M1761.4 1055.6a5.4 5.4 0 1 0 10.8 0a5.4 5.4 0 1 0 -10.8 0M1756.5 1056.5a5.4 5.4 0 1 0 10.8 0a5.4 5.4 0 1 0 -10.8 0M1766.3 1056.8a5.4 5.4 0 1 0 10.8 0a5.4 5.4 0 1 0 -10.8 0M1796.2 1057.5a5.4 5.4 0 1 0 10.8 0a5.4 5.4 0 1 0 -10.8 0M1779.9 1058.9a5.4 5.4 0 1 0 10.8 0a5.4 5.4 0 1 0 -10.8 0M1774.1 1058.9a5.4 5.4 0 1 0 10.8 0a5.4 5.4 0 1 0 -10.8 0M1800.6 1059.8a5.4 5.4 0 1 0 10.8 0a5.4 5.4 0 1 0 -10.8 0M1787.9 1060.6a5.4 5.4 0 1 0 10.8 0a5.4 5.4 0 1 0 -10.8 0M1768.6 1061.3a5.4 5.4 0 1 0 10.8 0a5.4 5.4 0 1 0 -10.8 0M1763.6 1061.8a5.4 5.4 0 1 0 10.8 0a5.4 5.4 0 1 0 -10.8 0M1783.3 1062.6a5.4 5.4 0 1 0 10.8 0a5.4 5.4 0 1 0 -10.8 0M1775.8 1063.6a5.4 5.4 0 1 0 10.8 0a5.4 5.4 0 1 0 -10.8 0M1791.8 1063.8a5.4 5.4 0 1 0 10.8 0a5.4 5.4 0 1 0 -10.8 0M1796.7 1064.9a5.4 5.4 0 1 0 10.8 0a5.4 5.4 0 1 0 -10.8 0M1771.2 1065.6a5.4 5.4 0 1 0 10.8 0a5.4 5.4 0 1 0 -10.8 0M1779.9 1066.4a5.4 5.4 0 1 0 10.8 0a5.4 5.4 0 1 0 -10.8 0M1766.3 1066.8a5.4 5.4 0 1 0 10.8 0a5.4 5.4 0 1 0 -10.8 0M1784.7 1067.7a5.4 5.4 0 1 0 10.8 0a5.4 5.4 0 1 0 -10.8 0M1800.4 1068.1a5.4 5.4 0 1 0 10.8 0a5.4 5.4 0 1 0 -10.8 0M1805.4 1068.8a5.4 5.4 0 1 0 10.8 0a5.4 5.4 0 1 0 -10.8 0M1762.2 1069.6a5.4 5.4 0 1 0 10.8 0a5.4 5.4 0 1 0 -10.8 0M1757.2 1069.8a5.4 5.4 0 1 0 10.8 0a5.4 5.4 0 1 0 -10.8 0M1775.2 1070.9a5.4 5.4 0 1 0 10.8 0a5.4 5.4 0 1 0 -10.8 0M1787.5 1071.8a5.4 5.4 0 1 0 10.8 0a5.4 5.4 0 1 0 -10.8 0M1770.4 1072.4a5.4 5.4 0 1 0 10.8 0a5.4 5.4 0 1 0 -10.8 0M1779.9 1072.6a5.4 5.4 0 1 0 10.8 0a5.4 5.4 0 1 0 -10.8 0M1792.3 1073.2a5.4 5.4 0 1 0 10.8 0a5.4 5.4 0 1 0 -10.8 0M1765.7 1074.2a5.4 5.4 0 1 0 10.8 0a5.4 5.4 0 1 0 -10.8 0M1797 1074.9a5.4 5.4 0 1 0 10.8 0a5.4 5.4 0 1 0 -10.8 0M1784.1 1075.6a5.4 5.4 0 1 0 10.8 0a5.4 5.4 0 1 0 -10.8 0M1776.1 1075.9a5.4 5.4 0 1 0 10.8 0a5.4 5.4 0 1 0 -10.8 0M1761.2 1076.3a5.4 5.4 0 1 0 10.8 0a5.4 5.4 0 1 0 -10.8 0M1771.7 1078.2a5.4 5.4 0 1 0 10.8 0a5.4 5.4 0 1 0 -10.8 0M1780.2 1078.7a5.4 5.4 0 1 0 10.8 0a5.4 5.4 0 1 0 -10.8 0M1767.5 1081.5a5.4 5.4 0 1 0 10.8 0a5.4 5.4 0 1 0 -10.8 0M1787.4 1081.9a5.4 5.4 0 1 0 10.8 0a5.4 5.4 0 1 0 -10.8 0M1772 1083.7a5.4 5.4 0 1 0 10.8 0a5.4 5.4 0 1 0 -10.8 0M1784.8 1086.2a5.4 5.4 0 1 0 10.8 0a5.4 5.4 0 1 0 -10.8 0M1779.9 1087.1a5.4 5.4 0 1 0 10.8 0a5.4 5.4 0 1 0 -10.8 0M1774.9 1087.7a5.4 5.4 0 1 0 10.8 0a5.4 5.4 0 1 0 -10.8 0M1761 1088.6a5.4 5.4 0 1 0 10.8 0a5.4 5.4 0 1 0 -10.8 0M1788.8 1089.3a5.4 5.4 0 1 0 10.8 0a5.4 5.4 0 1 0 -10.8 0M1765.7 1090.2a5.4 5.4 0 1 0 10.8 0a5.4 5.4 0 1 0 -10.8 0M1797.5 1090.3a5.4 5.4 0 1 0 10.8 0a5.4 5.4 0 1 0 -10.8 0M1784 1091.7a5.4 5.4 0 1 0 10.8 0a5.4 5.4 0 1 0 -10.8 0M1770.4 1092a5.4 5.4 0 1 0 10.8 0a5.4 5.4 0 1 0 -10.8 0M1793.2 1092.9a5.4 5.4 0 1 0 10.8 0a5.4 5.4 0 1 0 -10.8 0M1774.9 1094.1a5.4 5.4 0 1 0 10.8 0a5.4 5.4 0 1 0 -10.8 0M1779.9 1094.6a5.4 5.4 0 1 0 10.8 0a5.4 5.4 0 1 0 -10.8 0M1766.6 1095.3a5.4 5.4 0 1 0 10.8 0a5.4 5.4 0 1 0 -10.8 0M1789.1 1095.9a5.4 5.4 0 1 0 10.8 0a5.4 5.4 0 1 0 -10.8 0M1762 1097.3a5.4 5.4 0 1 0 10.8 0a5.4 5.4 0 1 0 -10.8 0M1784.6 1098a5.4 5.4 0 1 0 10.8 0a5.4 5.4 0 1 0 -10.8 0M1770.8 1098.9a5.4 5.4 0 1 0 10.8 0a5.4 5.4 0 1 0 -10.8 0M1779.9 1099.6a5.4 5.4 0 1 0 10.8 0a5.4 5.4 0 1 0 -10.8 0M1796.9 1100.1a5.4 5.4 0 1 0 10.8 0a5.4 5.4 0 1 0 -10.8 0M1775.2 1101.3a5.4 5.4 0 1 0 10.8 0a5.4 5.4 0 1 0 -10.8 0M1792.1 1101.4a5.4 5.4 0 1 0 10.8 0a5.4 5.4 0 1 0 -10.8 0M1766.8 1102.9a5.4 5.4 0 1 0 10.8 0a5.4 5.4 0 1 0 -10.8 0M1761.8 1103.4a5.4 5.4 0 1 0 10.8 0a5.4 5.4 0 1 0 -10.8 0M1782.6 1103.8a5.4 5.4 0 1 0 10.8 0a5.4 5.4 0 1 0 -10.8 0M1771.5 1104.6a5.4 5.4 0 1 0 10.8 0a5.4 5.4 0 1 0 -10.8 0M1789.2 1105.5a5.4 5.4 0 1 0 10.8 0a5.4 5.4 0 1 0 -10.8 0M1798.1 1106.7a5.4 5.4 0 1 0 10.8 0a5.4 5.4 0 1 0 -10.8 0M1778.9 1107.2a5.4 5.4 0 1 0 10.8 0a5.4 5.4 0 1 0 -10.8 0M1785 1108.2a5.4 5.4 0 1 0 10.8 0a5.4 5.4 0 1 0 -10.8 0M1793.5 1108.8a5.4 5.4 0 1 0 10.8 0a5.4 5.4 0 1 0 -10.8 0M1769.5 1109.2a5.4 5.4 0 1 0 10.8 0a5.4 5.4 0 1 0 -10.8 0M1789.1 1111.1a5.4 5.4 0 1 0 10.8 0a5.4 5.4 0 1 0 -10.8 0M1777.4 1112.1a5.4 5.4 0 1 0 10.8 0a5.4 5.4 0 1 0 -10.8 0M1784.1 1113.7a5.4 5.4 0 1 0 10.8 0a5.4 5.4 0 1 0 -10.8 0M1768.5 1114.7a5.4 5.4 0 1 0 10.8 0a5.4 5.4 0 1 0 -10.8 0M1779.9 1116.4a5.4 5.4 0 1 0 10.8 0a5.4 5.4 0 1 0 -10.8 0M1775.1 1117.7a5.4 5.4 0 1 0 10.8 0a5.4 5.4 0 1 0 -10.8 0M1770.4 1119.4a5.4 5.4 0 1 0 10.8 0a5.4 5.4 0 1 0 -10.8 0M1782.9 1120.4a5.4 5.4 0 1 0 10.8 0a5.4 5.4 0 1 0 -10.8 0M1788.2 1122.1a5.4 5.4 0 1 0 10.8 0a5.4 5.4 0 1 0 -10.8 0M1776 1124a5.4 5.4 0 1 0 10.8 0a5.4 5.4 0 1 0 -10.8 0M1784.6 1125.5a5.4 5.4 0 1 0 10.8 0a5.4 5.4 0 1 0 -10.8 0M1779.9 1127.2a5.4 5.4 0 1 0 10.8 0a5.4 5.4 0 1 0 -10.8 0M1785.4 1130.5a5.4 5.4 0 1 0 10.8 0a5.4 5.4 0 1 0 -10.8 0M1779.9 1132.8a5.4 5.4 0 1 0 10.8 0a5.4 5.4 0 1 0 -10.8 0M1775 1133.5a5.4 5.4 0 1 0 10.8 0a5.4 5.4 0 1 0 -10.8 0M1784 1135.7a5.4 5.4 0 1 0 10.8 0a5.4 5.4 0 1 0 -10.8 0M1775 1139.4a5.4 5.4 0 1 0 10.8 0a5.4 5.4 0 1 0 -10.8 0M1779.9 1140.2a5.4 5.4 0 1 0 10.8 0a5.4 5.4 0 1 0 -10.8 0M1784.3 1142.6a5.4 5.4 0 1 0 10.8 0a5.4 5.4 0 1 0 -10.8 0M1779.9 1145.7a5.4 5.4 0 1 0 10.8 0a5.4 5.4 0 1 0 -10.8 0M1775 1146.7a5.4 5.4 0 1 0 10.8 0a5.4 5.4 0 1 0 -10.8 0M1783.8 1149.3a5.4 5.4 0 1 0 10.8 0a5.4 5.4 0 1 0 -10.8 0M1779.9 1152.4a5.4 5.4 0 1 0 10.8 0a5.4 5.4 0 1 0 -10.8 0M1775 1153.3a5.4 5.4 0 1 0 10.8 0a5.4 5.4 0 1 0 -10.8 0M1784.6 1156.6a5.4 5.4 0 1 0 10.8 0a5.4 5.4 0 1 0 -10.8 0M1779.9 1158.4a5.4 5.4 0 1 0 10.8 0a5.4 5.4 0 1 0 -10.8 0M1776.3 1166.1a5.4 5.4 0 1 0 10.8 0a5.4 5.4 0 1 0 -10.8 0M1779.9 1169.5a5.4 5.4 0 1 0 10.8 0a5.4 5.4 0 1 0 -10.8 0M1779.8 899.2a5.4 5.4 0 1 0 10.8 0a5.4 5.4 0 1 0 -10.8 0M1785.8 895a5.4 5.4 0 1 0 10.8 0a5.4 5.4 0 1 0 -10.8 0M1780.1 1188.7a5.4 5.4 0 1 0 10.8 0a5.4 5.4 0 1 0 -10.8 0M1780.1 1222.9a5.4 5.4 0 1 0 10.8 0a5.4 5.4 0 1 0 -10.8 0M1780.1 1238a5.4 5.4 0 1 0 10.8 0a5.4 5.4 0 1 0 -10.8 0M1780.1 1245.4a5.4 5.4 0 1 0 10.8 0a5.4 5.4 0 1 0 -10.8 0M1780.1 1310.2a5.4 5.4 0 1 0 10.8 0a5.4 5.4 0 1 0 -10.8 0" fill="#545454"/><path d="M2039.8 1023.2a5.4 5.4 0 1 0 10.8 0a5.4 5.4 0 1 0 -10.8 0M2035.7 1026a5.4 5.4 0 1 0 10.8 0a5.4 5.4 0 1 0 -10.8 0M2043.5 1029.1a5.4 5.4 0 1 0 10.8 0a5.4 5.4 0 1 0 -10.8 0M2038.6 1030a5.4 5.4 0 1 0 10.8 0a5.4 5.4 0 1 0 -10.8 0M2031.5 1033.1a5.4 5.4 0 1 0 10.8 0a5.4 5.4 0 1 0 -10.8 0M2034 1037.4a5.4 5.4 0 1 0 10.8 0a5.4 5.4 0 1 0 -10.8 0M2038.6 1039.4a5.4 5.4 0 1 0 10.8 0a5.4 5.4 0 1 0 -10.8 0M2044 1041.4a5.4 5.4 0 1 0 10.8 0a5.4 5.4 0 1 0 -10.8 0M2036.5 1044a5.4 5.4 0 1 0 10.8 0a5.4 5.4 0 1 0 -10.8 0M2043 1046.3a5.4 5.4 0 1 0 10.8 0a5.4 5.4 0 1 0 -10.8 0M2038.6 1048.6a5.4 5.4 0 1 0 10.8 0a5.4 5.4 0 1 0 -10.8 0M2034.1 1050.7a5.4 5.4 0 1 0 10.8 0a5.4 5.4 0 1 0 -10.8 0M2042.6 1051.6a5.4 5.4 0 1 0 10.8 0a5.4 5.4 0 1 0 -10.8 0M2038.6 1054.7a5.4 5.4 0 1 0 10.8 0a5.4 5.4 0 1 0 -10.8 0M2034 1056.5a5.4 5.4 0 1 0 10.8 0a5.4 5.4 0 1 0 -10.8 0M2046.5 1058.3a5.4 5.4 0 1 0 10.8 0a5.4 5.4 0 1 0 -10.8 0M2029.9 1059.5a5.4 5.4 0 1 0 10.8 0a5.4 5.4 0 1 0 -10.8 0M2042.7 1061.6a5.4 5.4 0 1 0 10.8 0a5.4 5.4 0 1 0 -10.8 0M2038.6 1064.3a5.4 5.4 0 1 0 10.8 0a5.4 5.4 0 1 0 -10.8 0M2033.6 1064.9a5.4 5.4 0 1 0 10.8 0a5.4 5.4 0 1 0 -10.8 0M2042.4 1068.9a5.4 5.4 0 1 0 10.8 0a5.4 5.4 0 1 0 -10.8 0M2033.9 1070.4a5.4 5.4 0 1 0 10.8 0a5.4 5.4 0 1 0 -10.8 0M2038.6 1072.2a5.4 5.4 0 1 0 10.8 0a5.4 5.4 0 1 0 -10.8 0M2043.2 1074.2a5.4 5.4 0 1 0 10.8 0a5.4 5.4 0 1 0 -10.8 0M2036.7 1076.8a5.4 5.4 0 1 0 10.8 0a5.4 5.4 0 1 0 -10.8 0M2038.6 1081.6a5.4 5.4 0 1 0 10.8 0a5.4 5.4 0 1 0 -10.8 0M2040.8 1087.6a5.4 5.4 0 1 0 10.8 0a5.4 5.4 0 1 0 -10.8 0M2034.4 1089.4a5.4 5.4 0 1 0 10.8 0a5.4 5.4 0 1 0 -10.8 0M2038.6 1092.1a5.4 5.4 0 1 0 10.8 0a5.4 5.4 0 1 0 -10.8 0M2043.1 1094.2a5.4 5.4 0 1 0 10.8 0a5.4 5.4 0 1 0 -10.8 0M2031.2 1095.9a5.4 5.4 0 1 0 10.8 0a5.4 5.4 0 1 0 -10.8 0M2046.1 1098.2a5.4 5.4 0 1 0 10.8 0a5.4 5.4 0 1 0 -10.8 0M2035 1099.1a5.4 5.4 0 1 0 10.8 0a5.4 5.4 0 1 0 -10.8 0M2038.6 1102.6a5.4 5.4 0 1 0 10.8 0a5.4 5.4 0 1 0 -10.8 0M2031.9 1103a5.4 5.4 0 1 0 10.8 0a5.4 5.4 0 1 0 -10.8 0M2042.6 1105.6a5.4 5.4 0 1 0 10.8 0a5.4 5.4 0 1 0 -10.8 0M2037.9 1107.5a5.4 5.4 0 1 0 10.8 0a5.4 5.4 0 1 0 -10.8 0M2041.8 1110.6a5.4 5.4 0 1 0 10.8 0a5.4 5.4 0 1 0 -10.8 0M2033.4 1112.1a5.4 5.4 0 1 0 10.8 0a5.4 5.4 0 1 0 -10.8 0M2037.8 1114.4a5.4 5.4 0 1 0 10.8 0a5.4 5.4 0 1 0 -10.8 0M2042.9 1116.8a5.4 5.4 0 1 0 10.8 0a5.4 5.4 0 1 0 -10.8 0M2033.8 1118.1a5.4 5.4 0 1 0 10.8 0a5.4 5.4 0 1 0 -10.8 0M2038.6 1119.3a5.4 5.4 0 1 0 10.8 0a5.4 5.4 0 1 0 -10.8 0M2042.2 1122.8a5.4 5.4 0 1 0 10.8 0a5.4 5.4 0 1 0 -10.8 0M2037.6 1124.9a5.4 5.4 0 1 0 10.8 0a5.4 5.4 0 1 0 -10.8 0M2038.6 1129.9a5.4 5.4 0 1 0 10.8 0a5.4 5.4 0 1 0 -10.8 0M2039.3 900.3a5.4 5.4 0 1 0 10.8 0a5.4 5.4 0 1 0 -10.8 0M2037.9 928.3a5.4 5.4 0 1 0 10.8 0a5.4 5.4 0 1 0 -10.8 0M2037.9 934a5.4 5.4 0 1 0 10.8 0a5.4 5.4 0 1 0 -10.8 0M2037.9 962a5.4 5.4 0 1 0 10.8 0a5.4 5.4 0 1 0 -10.8 0M2038.2 968a5.4 5.4 0 1 0 10.8 0a5.4 5.4 0 1 0 -10.8 0M2037.9 972.5a5.4 5.4 0 1 0 10.8 0a5.4 5.4 0 1 0 -10.8 0M2038.2 977a5.4 5.4 0 1 0 10.8 0a5.4 5.4 0 1 0 -10.8 0M2037.9 981a5.4 5.4 0 1 0 10.8 0a5.4 5.4 0 1 0 -10.8 0M2038.2 986a5.4 5.4 0 1 0 10.8 0a5.4 5.4 0 1 0 -10.8 0M2037.9 990.7a5.4 5.4 0 1 0 10.8 0a5.4 5.4 0 1 0 -10.8 0M2038.2 995.5a5.4 5.4 0 1 0 10.8 0a5.4 5.4 0 1 0 -10.8 0M2037.9 1000.5a5.4 5.4 0 1 0 10.8 0a5.4 5.4 0 1 0 -10.8 0M2039.3 1154a5.4 5.4 0 1 0 10.8 0a5.4 5.4 0 1 0 -10.8 0M2043.5 1159.7a5.4 5.4 0 1 0 10.8 0a5.4 5.4 0 1 0 -10.8 0M2037.9 1162.5a5.4 5.4 0 1 0 10.8 0a5.4 5.4 0 1 0 -10.8 0M2037.9 1177.9a5.4 5.4 0 1 0 10.8 0a5.4 5.4 0 1 0 -10.8 0M2037.9 1201.7a5.4 5.4 0 1 0 10.8 0a5.4 5.4 0 1 0 -10.8 0M2037.9 1213a5.4 5.4 0 1 0 10.8 0a5.4 5.4 0 1 0 -10.8 0M2037.9 1225.5a5.4 5.4 0 1 0 10.8 0a5.4 5.4 0 1 0 -10.8 0M2044.6 1228.3a5.4 5.4 0 1 0 10.8 0a5.4 5.4 0 1 0 -10.8 0M2037.9 1257a5.4 5.4 0 1 0 10.8 0a5.4 5.4 0 1 0 -10.8 0" fill="#545454"/><line x1="1372" y1="753.6" x2="1372" y2="1339.3" stroke="#000" stroke-width="4"/><line x1="1362.5" y1="878.2" x2="1372" y2="878.2" stroke="#000" stroke-width="3"/><text x="1357" y="892.6" text-anchor="end" class="t">0.5</text><line x1="1362.5" y1="1010.0" x2="1372" y2="1010.0" stroke="#000" stroke-width="3"/><text x="1357" y="1024.4" text-anchor="end" class="t">0.0</text><line x1="1362.5" y1="1141.8" x2="1372" y2="1141.8" stroke="#000" stroke-width="3"/><text x="1357" y="1156.2" text-anchor="end" class="t">-0.5</text><line x1="1362.5" y1="1273.6" x2="1372" y2="1273.6" stroke="#000" stroke-width="3"/><text x="1357" y="1288" text-anchor="end" class="t">-1.0</text><line x1="1370.0" y1="1337.3" x2="2198.4" y2="1337.3" stroke="#000" stroke-width="4"/><line x1="1527" y1="1337.3" x2="1527" y2="1346.8" stroke="#000" stroke-width="3"/><text x="1527" y="1379.8" text-anchor="middle" class="t">TT (n=441)</text><line x1="1785.3" y1="1337.3" x2="1785.3" y2="1346.8" stroke="#000" stroke-width="3"/><text x="1785.3" y="1379.8" text-anchor="middle" class="t">TC (n=230)</text><line x1="2043.6" y1="1337.3" x2="2043.6" y2="1346.8" stroke="#000" stroke-width="3"/><text x="2043.6" y="1379.8" text-anchor="middle" class="t">CC (n=68)</text><text x="1784.5" y="1423.8" text-anchor="middle" class="t">rs35246381 (NAT2)</text><text transform="translate(1202 1046.5) rotate(-90)" text-anchor="middle" class="t">1,3-dimethylurate /</text><text transform="translate(1238.5 1046.5) rotate(-90)" text-anchor="middle" class="t">5-acetylamino-6-amino-3-methyluracil</text></svg>
</body></html>
